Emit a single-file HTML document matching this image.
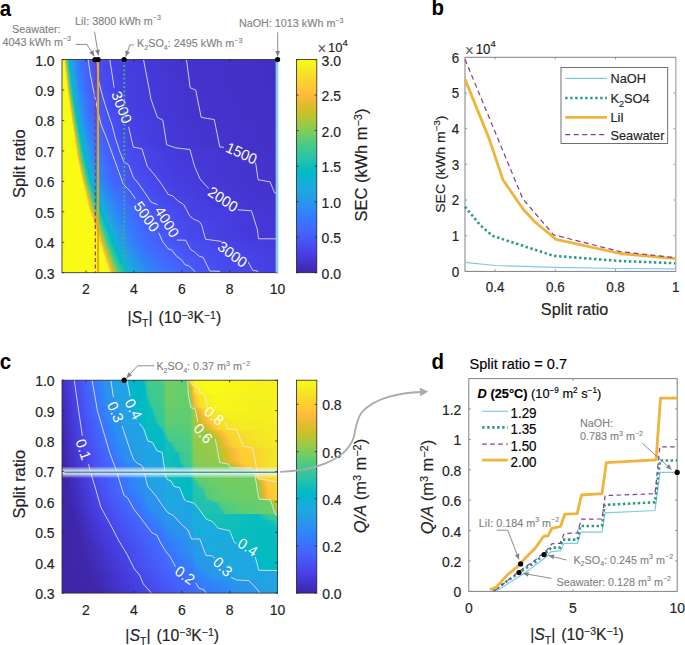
<!DOCTYPE html>
<html><head><meta charset="utf-8"><style>
html,body{margin:0;padding:0;background:#fff;}
body{width:685px;height:645px;overflow:hidden;position:relative;font-family:"Liberation Sans",sans-serif;}
</style></head><body>
<svg width="685" height="645" viewBox="0 0 685 645" style="position:absolute;left:0;top:0" font-family='"Liberation Sans", sans-serif'>
<defs><linearGradient id="g0" gradientUnits="userSpaceOnUse" x1="62" x2="278" y1="0" y2="0"><stop offset="0.0000" stop-color="#f9fb15"/><stop offset="0.0069" stop-color="#f9fb15"/><stop offset="0.0116" stop-color="#f5e128"/><stop offset="0.0162" stop-color="#d5be28"/><stop offset="0.0208" stop-color="#75cc61"/><stop offset="0.0255" stop-color="#37c897"/><stop offset="0.0301" stop-color="#18bfb6"/><stop offset="0.0347" stop-color="#02b7cb"/><stop offset="0.0394" stop-color="#17aeda"/><stop offset="0.0486" stop-color="#259ce7"/><stop offset="0.0625" stop-color="#2d88f6"/><stop offset="0.0810" stop-color="#3a73fe"/><stop offset="0.1042" stop-color="#4563fc"/><stop offset="0.1690" stop-color="#484df0"/><stop offset="0.2755" stop-color="#463de0"/><stop offset="0.5671" stop-color="#4433cd"/><stop offset="1.0000" stop-color="#422fc2"/></linearGradient><linearGradient id="g1" gradientUnits="userSpaceOnUse" x1="62" x2="278" y1="0" y2="0"><stop offset="0.0000" stop-color="#f9fb15"/><stop offset="0.0069" stop-color="#f9fb15"/><stop offset="0.0116" stop-color="#f7f51b"/><stop offset="0.0162" stop-color="#e8bb2f"/><stop offset="0.0208" stop-color="#8acb52"/><stop offset="0.0255" stop-color="#40ca8d"/><stop offset="0.0301" stop-color="#22c1b0"/><stop offset="0.0347" stop-color="#01b9c7"/><stop offset="0.0394" stop-color="#13b0d7"/><stop offset="0.0486" stop-color="#249ee6"/><stop offset="0.0625" stop-color="#2d89f5"/><stop offset="0.0764" stop-color="#3479fd"/><stop offset="0.0949" stop-color="#4269fe"/><stop offset="0.1412" stop-color="#4855f6"/><stop offset="0.2431" stop-color="#4741e4"/><stop offset="0.4931" stop-color="#4435d0"/><stop offset="1.0000" stop-color="#422fc2"/></linearGradient><linearGradient id="g2" gradientUnits="userSpaceOnUse" x1="62" x2="278" y1="0" y2="0"><stop offset="0.0000" stop-color="#f9fb15"/><stop offset="0.0116" stop-color="#f9fb15"/><stop offset="0.0162" stop-color="#fabb3d"/><stop offset="0.0208" stop-color="#9fc942"/><stop offset="0.0255" stop-color="#4ccb82"/><stop offset="0.0301" stop-color="#29c3a9"/><stop offset="0.0347" stop-color="#03bbc2"/><stop offset="0.0394" stop-color="#0eb2d4"/><stop offset="0.0440" stop-color="#1ca9df"/><stop offset="0.0625" stop-color="#2d8bf4"/><stop offset="0.0764" stop-color="#337afd"/><stop offset="0.0949" stop-color="#426afe"/><stop offset="0.1412" stop-color="#4755f6"/><stop offset="0.2384" stop-color="#4741e5"/><stop offset="0.4792" stop-color="#4435d1"/><stop offset="1.0000" stop-color="#422fc2"/></linearGradient><linearGradient id="g3" gradientUnits="userSpaceOnUse" x1="62" x2="278" y1="0" y2="0"><stop offset="0.0000" stop-color="#f9fb15"/><stop offset="0.0116" stop-color="#f9fb15"/><stop offset="0.0162" stop-color="#fec636"/><stop offset="0.0208" stop-color="#b4c533"/><stop offset="0.0255" stop-color="#5ccc76"/><stop offset="0.0301" stop-color="#2fc5a2"/><stop offset="0.0347" stop-color="#0abdbd"/><stop offset="0.0394" stop-color="#08b4d0"/><stop offset="0.0440" stop-color="#1aabdd"/><stop offset="0.0579" stop-color="#2a93ee"/><stop offset="0.0764" stop-color="#327cfc"/><stop offset="0.0949" stop-color="#416bfe"/><stop offset="0.1412" stop-color="#4755f6"/><stop offset="0.2384" stop-color="#4741e5"/><stop offset="0.4745" stop-color="#4435d1"/><stop offset="1.0000" stop-color="#422fc2"/></linearGradient><linearGradient id="g4" gradientUnits="userSpaceOnUse" x1="62" x2="278" y1="0" y2="0"><stop offset="0.0000" stop-color="#f9fb15"/><stop offset="0.0116" stop-color="#f9fb15"/><stop offset="0.0162" stop-color="#fad52d"/><stop offset="0.0208" stop-color="#cac129"/><stop offset="0.0255" stop-color="#6ccd68"/><stop offset="0.0301" stop-color="#35c79a"/><stop offset="0.0347" stop-color="#15bfb8"/><stop offset="0.0394" stop-color="#04b6cc"/><stop offset="0.0440" stop-color="#18aedb"/><stop offset="0.0532" stop-color="#259ce7"/><stop offset="0.0671" stop-color="#2d88f6"/><stop offset="0.0856" stop-color="#3a74fe"/><stop offset="0.1088" stop-color="#4563fd"/><stop offset="0.1736" stop-color="#484df0"/><stop offset="0.2940" stop-color="#463ddf"/><stop offset="0.5949" stop-color="#4433cc"/><stop offset="1.0000" stop-color="#422fc2"/></linearGradient><linearGradient id="g5" gradientUnits="userSpaceOnUse" x1="62" x2="278" y1="0" y2="0"><stop offset="0.0000" stop-color="#f9fb15"/><stop offset="0.0116" stop-color="#f9fb15"/><stop offset="0.0162" stop-color="#f5e825"/><stop offset="0.0208" stop-color="#debd29"/><stop offset="0.0255" stop-color="#80cc59"/><stop offset="0.0301" stop-color="#3cc991"/><stop offset="0.0347" stop-color="#1ec0b2"/><stop offset="0.0394" stop-color="#01b8c8"/><stop offset="0.0440" stop-color="#14b0d8"/><stop offset="0.0532" stop-color="#249ee6"/><stop offset="0.0671" stop-color="#2d89f5"/><stop offset="0.0810" stop-color="#3479fd"/><stop offset="0.0995" stop-color="#426afe"/><stop offset="0.1505" stop-color="#4853f5"/><stop offset="0.2523" stop-color="#4740e4"/><stop offset="0.5116" stop-color="#4434cf"/><stop offset="1.0000" stop-color="#422fc2"/></linearGradient><linearGradient id="g6" gradientUnits="userSpaceOnUse" x1="62" x2="278" y1="0" y2="0"><stop offset="0.0000" stop-color="#f9fb15"/><stop offset="0.0162" stop-color="#f9fb15"/><stop offset="0.0208" stop-color="#f0ba36"/><stop offset="0.0255" stop-color="#94ca4a"/><stop offset="0.0301" stop-color="#47cb87"/><stop offset="0.0347" stop-color="#27c2ac"/><stop offset="0.0394" stop-color="#02bac4"/><stop offset="0.0440" stop-color="#10b2d5"/><stop offset="0.0486" stop-color="#1da9e0"/><stop offset="0.0671" stop-color="#2d8bf4"/><stop offset="0.0810" stop-color="#337bfd"/><stop offset="0.1042" stop-color="#4367fd"/><stop offset="0.1597" stop-color="#4851f3"/><stop offset="0.2662" stop-color="#473fe2"/><stop offset="0.5486" stop-color="#4434ce"/><stop offset="1.0000" stop-color="#422fc2"/></linearGradient><linearGradient id="g7" gradientUnits="userSpaceOnUse" x1="62" x2="278" y1="0" y2="0"><stop offset="0.0000" stop-color="#f9fb15"/><stop offset="0.0162" stop-color="#f9fb15"/><stop offset="0.0208" stop-color="#febf3c"/><stop offset="0.0255" stop-color="#aac73a"/><stop offset="0.0301" stop-color="#55cc7c"/><stop offset="0.0347" stop-color="#2dc4a5"/><stop offset="0.0394" stop-color="#08bcbf"/><stop offset="0.0440" stop-color="#0ab4d1"/><stop offset="0.0486" stop-color="#1babde"/><stop offset="0.0625" stop-color="#2a93ee"/><stop offset="0.0810" stop-color="#327cfc"/><stop offset="0.1042" stop-color="#4368fe"/><stop offset="0.1597" stop-color="#4851f3"/><stop offset="0.2662" stop-color="#473fe3"/><stop offset="0.5486" stop-color="#4434ce"/><stop offset="1.0000" stop-color="#422fc2"/></linearGradient><linearGradient id="g8" gradientUnits="userSpaceOnUse" x1="62" x2="278" y1="0" y2="0"><stop offset="0.0000" stop-color="#f9fb15"/><stop offset="0.0162" stop-color="#f9fb15"/><stop offset="0.0208" stop-color="#fdcc32"/><stop offset="0.0255" stop-color="#bfc32d"/><stop offset="0.0301" stop-color="#65cd6e"/><stop offset="0.0347" stop-color="#33c69d"/><stop offset="0.0394" stop-color="#12beb9"/><stop offset="0.0440" stop-color="#04b6cd"/><stop offset="0.0486" stop-color="#18addb"/><stop offset="0.0625" stop-color="#2895ec"/><stop offset="0.0810" stop-color="#317dfb"/><stop offset="0.1042" stop-color="#4269fe"/><stop offset="0.1597" stop-color="#4851f3"/><stop offset="0.2662" stop-color="#473fe3"/><stop offset="0.5486" stop-color="#4434ce"/><stop offset="1.0000" stop-color="#422fc2"/></linearGradient><linearGradient id="g9" gradientUnits="userSpaceOnUse" x1="62" x2="278" y1="0" y2="0"><stop offset="0.0000" stop-color="#f9fb15"/><stop offset="0.0162" stop-color="#f9fb15"/><stop offset="0.0208" stop-color="#f7dd2a"/><stop offset="0.0255" stop-color="#d4bf28"/><stop offset="0.0301" stop-color="#78cc5f"/><stop offset="0.0347" stop-color="#39c994"/><stop offset="0.0394" stop-color="#1cc0b3"/><stop offset="0.0440" stop-color="#01b8c9"/><stop offset="0.0486" stop-color="#14b0d8"/><stop offset="0.0579" stop-color="#249ee6"/><stop offset="0.0718" stop-color="#2d8af5"/><stop offset="0.0856" stop-color="#337afd"/><stop offset="0.1088" stop-color="#4367fd"/><stop offset="0.1690" stop-color="#484ff2"/><stop offset="0.2894" stop-color="#463ee0"/><stop offset="0.5903" stop-color="#4433cc"/><stop offset="1.0000" stop-color="#422fc2"/></linearGradient><linearGradient id="g10" gradientUnits="userSpaceOnUse" x1="62" x2="278" y1="0" y2="0"><stop offset="0.0000" stop-color="#f9fb15"/><stop offset="0.0162" stop-color="#f9fb15"/><stop offset="0.0208" stop-color="#f6ef20"/><stop offset="0.0255" stop-color="#e7bb2e"/><stop offset="0.0301" stop-color="#8ccb50"/><stop offset="0.0347" stop-color="#43ca8a"/><stop offset="0.0394" stop-color="#26c2ad"/><stop offset="0.0440" stop-color="#02bac4"/><stop offset="0.0486" stop-color="#0fb2d5"/><stop offset="0.0532" stop-color="#1ca9df"/><stop offset="0.0718" stop-color="#2d8cf3"/><stop offset="0.0856" stop-color="#327cfc"/><stop offset="0.1088" stop-color="#4368fe"/><stop offset="0.1690" stop-color="#484ff2"/><stop offset="0.2894" stop-color="#463ee1"/><stop offset="0.5903" stop-color="#4433cc"/><stop offset="1.0000" stop-color="#422fc2"/></linearGradient><linearGradient id="g11" gradientUnits="userSpaceOnUse" x1="62" x2="278" y1="0" y2="0"><stop offset="0.0000" stop-color="#f9fb15"/><stop offset="0.0208" stop-color="#f9fb15"/><stop offset="0.0255" stop-color="#f8ba3d"/><stop offset="0.0301" stop-color="#a1c840"/><stop offset="0.0347" stop-color="#51cc7f"/><stop offset="0.0394" stop-color="#2dc4a6"/><stop offset="0.0440" stop-color="#08bcbf"/><stop offset="0.0486" stop-color="#09b4d1"/><stop offset="0.0532" stop-color="#1aabdd"/><stop offset="0.0718" stop-color="#2d8df2"/><stop offset="0.0903" stop-color="#3579fd"/><stop offset="0.1134" stop-color="#4367fd"/><stop offset="0.1782" stop-color="#484df0"/><stop offset="0.3032" stop-color="#463ddf"/><stop offset="0.6088" stop-color="#4433cc"/><stop offset="1.0000" stop-color="#422fc3"/></linearGradient><linearGradient id="g12" gradientUnits="userSpaceOnUse" x1="62" x2="278" y1="0" y2="0"><stop offset="0.0000" stop-color="#f9fb15"/><stop offset="0.0208" stop-color="#f9fb15"/><stop offset="0.0255" stop-color="#fec437"/><stop offset="0.0301" stop-color="#b6c532"/><stop offset="0.0347" stop-color="#60cd72"/><stop offset="0.0394" stop-color="#32c69e"/><stop offset="0.0440" stop-color="#12beb9"/><stop offset="0.0486" stop-color="#04b6cd"/><stop offset="0.0532" stop-color="#17aedb"/><stop offset="0.0625" stop-color="#249de7"/><stop offset="0.0810" stop-color="#2e84f9"/><stop offset="0.1042" stop-color="#3f6efe"/><stop offset="0.1458" stop-color="#4758f8"/><stop offset="0.2199" stop-color="#4746ea"/><stop offset="0.4051" stop-color="#4538d7"/><stop offset="0.7940" stop-color="#4331c6"/><stop offset="1.0000" stop-color="#422fc3"/></linearGradient><linearGradient id="g13" gradientUnits="userSpaceOnUse" x1="62" x2="278" y1="0" y2="0"><stop offset="0.0000" stop-color="#f9fb15"/><stop offset="0.0208" stop-color="#f9fb15"/><stop offset="0.0255" stop-color="#fbd22f"/><stop offset="0.0301" stop-color="#cbc129"/><stop offset="0.0347" stop-color="#72cd64"/><stop offset="0.0394" stop-color="#38c896"/><stop offset="0.0440" stop-color="#1cc0b3"/><stop offset="0.0486" stop-color="#01b8c8"/><stop offset="0.0532" stop-color="#13b0d8"/><stop offset="0.0625" stop-color="#249fe5"/><stop offset="0.0810" stop-color="#2e85f8"/><stop offset="0.1042" stop-color="#3e6fff"/><stop offset="0.1412" stop-color="#475bf9"/><stop offset="0.2106" stop-color="#4747ec"/><stop offset="0.3727" stop-color="#4639d9"/><stop offset="0.7292" stop-color="#4331c8"/><stop offset="1.0000" stop-color="#422fc3"/></linearGradient><linearGradient id="g14" gradientUnits="userSpaceOnUse" x1="62" x2="278" y1="0" y2="0"><stop offset="0.0000" stop-color="#f9fb15"/><stop offset="0.0208" stop-color="#f9fb15"/><stop offset="0.0255" stop-color="#f5e427"/><stop offset="0.0301" stop-color="#debc2a"/><stop offset="0.0347" stop-color="#86cb55"/><stop offset="0.0394" stop-color="#41ca8c"/><stop offset="0.0440" stop-color="#25c2ad"/><stop offset="0.0486" stop-color="#02bac4"/><stop offset="0.0532" stop-color="#0eb2d4"/><stop offset="0.0579" stop-color="#1caadf"/><stop offset="0.0764" stop-color="#2d8df2"/><stop offset="0.0949" stop-color="#3578fd"/><stop offset="0.1181" stop-color="#4367fd"/><stop offset="0.1829" stop-color="#484ef1"/><stop offset="0.2986" stop-color="#463de0"/><stop offset="0.6042" stop-color="#4433cc"/><stop offset="1.0000" stop-color="#422fc3"/></linearGradient><linearGradient id="g15" gradientUnits="userSpaceOnUse" x1="62" x2="278" y1="0" y2="0"><stop offset="0.0000" stop-color="#f9fb15"/><stop offset="0.0255" stop-color="#f8f917"/><stop offset="0.0301" stop-color="#f3ba38"/><stop offset="0.0347" stop-color="#9dc943"/><stop offset="0.0394" stop-color="#50cc80"/><stop offset="0.0440" stop-color="#2dc4a6"/><stop offset="0.0486" stop-color="#09bcbe"/><stop offset="0.0532" stop-color="#07b5d0"/><stop offset="0.0579" stop-color="#19acdc"/><stop offset="0.0764" stop-color="#2c8ff1"/><stop offset="0.0949" stop-color="#347afd"/><stop offset="0.1181" stop-color="#4368fe"/><stop offset="0.1829" stop-color="#484ef1"/><stop offset="0.2986" stop-color="#463ee1"/><stop offset="0.5810" stop-color="#4434ce"/><stop offset="1.0000" stop-color="#4230c3"/></linearGradient><linearGradient id="g16" gradientUnits="userSpaceOnUse" x1="62" x2="278" y1="0" y2="0"><stop offset="0.0000" stop-color="#f9fb15"/><stop offset="0.0255" stop-color="#f9fb15"/><stop offset="0.0301" stop-color="#fec338"/><stop offset="0.0347" stop-color="#b7c532"/><stop offset="0.0394" stop-color="#63cd70"/><stop offset="0.0440" stop-color="#34c79c"/><stop offset="0.0486" stop-color="#15bfb7"/><stop offset="0.0532" stop-color="#02b7cb"/><stop offset="0.0579" stop-color="#15afd9"/><stop offset="0.0671" stop-color="#249ee6"/><stop offset="0.0856" stop-color="#2e85f8"/><stop offset="0.1088" stop-color="#3e6fff"/><stop offset="0.1458" stop-color="#475bfa"/><stop offset="0.2199" stop-color="#4747eb"/><stop offset="0.3866" stop-color="#4539d8"/><stop offset="0.7986" stop-color="#4331c7"/><stop offset="1.0000" stop-color="#4230c3"/></linearGradient><linearGradient id="g17" gradientUnits="userSpaceOnUse" x1="62" x2="278" y1="0" y2="0"><stop offset="0.0000" stop-color="#f9fb15"/><stop offset="0.0255" stop-color="#f9fb15"/><stop offset="0.0301" stop-color="#fad62d"/><stop offset="0.0347" stop-color="#d1bf27"/><stop offset="0.0394" stop-color="#7acc5e"/><stop offset="0.0440" stop-color="#3cc991"/><stop offset="0.0486" stop-color="#22c1b0"/><stop offset="0.0532" stop-color="#01bac5"/><stop offset="0.0579" stop-color="#10b2d5"/><stop offset="0.0625" stop-color="#1ca9df"/><stop offset="0.0810" stop-color="#2d8df2"/><stop offset="0.0995" stop-color="#3579fd"/><stop offset="0.1227" stop-color="#4367fd"/><stop offset="0.1875" stop-color="#484ef1"/><stop offset="0.3125" stop-color="#463de0"/><stop offset="0.5949" stop-color="#4433cd"/><stop offset="1.0000" stop-color="#4230c3"/></linearGradient><linearGradient id="g18" gradientUnits="userSpaceOnUse" x1="62" x2="278" y1="0" y2="0"><stop offset="0.0000" stop-color="#f9fb15"/><stop offset="0.0255" stop-color="#f9fb15"/><stop offset="0.0301" stop-color="#f5ed22"/><stop offset="0.0347" stop-color="#e9bb30"/><stop offset="0.0394" stop-color="#93ca4b"/><stop offset="0.0440" stop-color="#4acb84"/><stop offset="0.0486" stop-color="#2bc3a8"/><stop offset="0.0532" stop-color="#07bcbf"/><stop offset="0.0579" stop-color="#08b4d1"/><stop offset="0.0625" stop-color="#1aacdd"/><stop offset="0.0810" stop-color="#2c8ff1"/><stop offset="0.0995" stop-color="#337afd"/><stop offset="0.1227" stop-color="#4368fe"/><stop offset="0.1875" stop-color="#484ff2"/><stop offset="0.3125" stop-color="#463de0"/><stop offset="0.5856" stop-color="#4434ce"/><stop offset="1.0000" stop-color="#4230c3"/></linearGradient><linearGradient id="g19" gradientUnits="userSpaceOnUse" x1="62" x2="278" y1="0" y2="0"><stop offset="0.0000" stop-color="#f9fb15"/><stop offset="0.0301" stop-color="#f9fb15"/><stop offset="0.0347" stop-color="#fdbd3d"/><stop offset="0.0394" stop-color="#adc638"/><stop offset="0.0440" stop-color="#5ccc75"/><stop offset="0.0486" stop-color="#32c69f"/><stop offset="0.0532" stop-color="#12beb9"/><stop offset="0.0579" stop-color="#03b7cc"/><stop offset="0.0625" stop-color="#16afd9"/><stop offset="0.0718" stop-color="#249ee6"/><stop offset="0.0903" stop-color="#2e86f8"/><stop offset="0.1134" stop-color="#3e70ff"/><stop offset="0.1505" stop-color="#475cfa"/><stop offset="0.2292" stop-color="#4747eb"/><stop offset="0.3958" stop-color="#4538d8"/><stop offset="0.8171" stop-color="#4331c7"/><stop offset="1.0000" stop-color="#4230c3"/></linearGradient><linearGradient id="g20" gradientUnits="userSpaceOnUse" x1="62" x2="278" y1="0" y2="0"><stop offset="0.0000" stop-color="#f9fb15"/><stop offset="0.0301" stop-color="#f9fb15"/><stop offset="0.0347" stop-color="#fdcd32"/><stop offset="0.0394" stop-color="#c7c12a"/><stop offset="0.0440" stop-color="#71cd64"/><stop offset="0.0486" stop-color="#39c895"/><stop offset="0.0532" stop-color="#1fc0b2"/><stop offset="0.0579" stop-color="#01b9c6"/><stop offset="0.0625" stop-color="#11b1d6"/><stop offset="0.0671" stop-color="#1ca9e0"/><stop offset="0.0856" stop-color="#2d8df2"/><stop offset="0.1042" stop-color="#3479fd"/><stop offset="0.1273" stop-color="#4368fd"/><stop offset="0.1921" stop-color="#484ff2"/><stop offset="0.3218" stop-color="#463de0"/><stop offset="0.5903" stop-color="#4434ce"/><stop offset="1.0000" stop-color="#4230c3"/></linearGradient><linearGradient id="g21" gradientUnits="userSpaceOnUse" x1="62" x2="278" y1="0" y2="0"><stop offset="0.0000" stop-color="#f9fb15"/><stop offset="0.0301" stop-color="#f9fb15"/><stop offset="0.0347" stop-color="#f5e128"/><stop offset="0.0394" stop-color="#dfbc2a"/><stop offset="0.0440" stop-color="#8acb52"/><stop offset="0.0486" stop-color="#45cb89"/><stop offset="0.0532" stop-color="#29c3aa"/><stop offset="0.0579" stop-color="#06bcc1"/><stop offset="0.0625" stop-color="#0ab4d1"/><stop offset="0.0671" stop-color="#1aacdd"/><stop offset="0.0856" stop-color="#2c8ff1"/><stop offset="0.1042" stop-color="#337bfd"/><stop offset="0.1273" stop-color="#4369fe"/><stop offset="0.1875" stop-color="#4851f3"/><stop offset="0.3079" stop-color="#473ee2"/><stop offset="0.5532" stop-color="#4434cf"/><stop offset="1.0000" stop-color="#4230c3"/></linearGradient><linearGradient id="g22" gradientUnits="userSpaceOnUse" x1="62" x2="278" y1="0" y2="0"><stop offset="0.0000" stop-color="#f9fb15"/><stop offset="0.0301" stop-color="#f9fb15"/><stop offset="0.0347" stop-color="#f8f818"/><stop offset="0.0394" stop-color="#f5ba3b"/><stop offset="0.0440" stop-color="#a3c83f"/><stop offset="0.0486" stop-color="#56cc7b"/><stop offset="0.0532" stop-color="#30c5a2"/><stop offset="0.0579" stop-color="#10beba"/><stop offset="0.0625" stop-color="#04b6cd"/><stop offset="0.0671" stop-color="#16aeda"/><stop offset="0.0764" stop-color="#249ee6"/><stop offset="0.0949" stop-color="#2e86f7"/><stop offset="0.1181" stop-color="#3d70ff"/><stop offset="0.1551" stop-color="#475cfa"/><stop offset="0.2384" stop-color="#4747eb"/><stop offset="0.4097" stop-color="#4538d8"/><stop offset="0.8264" stop-color="#4331c7"/><stop offset="1.0000" stop-color="#4230c3"/></linearGradient><linearGradient id="g23" gradientUnits="userSpaceOnUse" x1="62" x2="278" y1="0" y2="0"><stop offset="0.0000" stop-color="#f9fb15"/><stop offset="0.0347" stop-color="#f9fb15"/><stop offset="0.0394" stop-color="#fec537"/><stop offset="0.0440" stop-color="#bdc32f"/><stop offset="0.0486" stop-color="#6acd6a"/><stop offset="0.0532" stop-color="#37c898"/><stop offset="0.0579" stop-color="#1cc0b3"/><stop offset="0.0625" stop-color="#01b9c7"/><stop offset="0.0671" stop-color="#12b1d6"/><stop offset="0.0764" stop-color="#23a1e4"/><stop offset="0.0949" stop-color="#2d88f6"/><stop offset="0.1134" stop-color="#3875fe"/><stop offset="0.1366" stop-color="#4466fd"/><stop offset="0.2014" stop-color="#484ff2"/><stop offset="0.3403" stop-color="#463cdf"/><stop offset="0.6273" stop-color="#4433cd"/><stop offset="1.0000" stop-color="#4230c4"/></linearGradient><linearGradient id="g24" gradientUnits="userSpaceOnUse" x1="62" x2="278" y1="0" y2="0"><stop offset="0.0000" stop-color="#f9fb15"/><stop offset="0.0347" stop-color="#f9fb15"/><stop offset="0.0394" stop-color="#f9d72d"/><stop offset="0.0440" stop-color="#d6be28"/><stop offset="0.0486" stop-color="#81cc58"/><stop offset="0.0532" stop-color="#41ca8c"/><stop offset="0.0579" stop-color="#27c2ac"/><stop offset="0.0625" stop-color="#04bbc2"/><stop offset="0.0671" stop-color="#0bb4d2"/><stop offset="0.0718" stop-color="#1aacdd"/><stop offset="0.0903" stop-color="#2c8ff0"/><stop offset="0.1088" stop-color="#327bfc"/><stop offset="0.1319" stop-color="#4269fe"/><stop offset="0.1921" stop-color="#4852f4"/><stop offset="0.3171" stop-color="#473ee2"/><stop offset="0.5671" stop-color="#4434cf"/><stop offset="1.0000" stop-color="#4230c4"/></linearGradient><linearGradient id="g25" gradientUnits="userSpaceOnUse" x1="62" x2="278" y1="0" y2="0"><stop offset="0.0000" stop-color="#f9fb15"/><stop offset="0.0347" stop-color="#f9fb15"/><stop offset="0.0394" stop-color="#f5ec22"/><stop offset="0.0440" stop-color="#ecba33"/><stop offset="0.0486" stop-color="#9ac945"/><stop offset="0.0532" stop-color="#51cc7f"/><stop offset="0.0579" stop-color="#2ec5a4"/><stop offset="0.0625" stop-color="#0dbdbb"/><stop offset="0.0671" stop-color="#04b6cd"/><stop offset="0.0718" stop-color="#17aeda"/><stop offset="0.0810" stop-color="#249ee6"/><stop offset="0.0995" stop-color="#2e86f7"/><stop offset="0.1273" stop-color="#3f6dfe"/><stop offset="0.1736" stop-color="#4758f8"/><stop offset="0.2755" stop-color="#4743e8"/><stop offset="0.4699" stop-color="#4536d4"/><stop offset="0.9421" stop-color="#4330c5"/><stop offset="1.0000" stop-color="#4230c4"/></linearGradient><linearGradient id="g26" gradientUnits="userSpaceOnUse" x1="62" x2="278" y1="0" y2="0"><stop offset="0.0000" stop-color="#f9fb15"/><stop offset="0.0394" stop-color="#f9fb15"/><stop offset="0.0440" stop-color="#febe3c"/><stop offset="0.0486" stop-color="#b3c534"/><stop offset="0.0532" stop-color="#63cd6f"/><stop offset="0.0579" stop-color="#35c79a"/><stop offset="0.0625" stop-color="#1ac0b5"/><stop offset="0.0671" stop-color="#01b8c8"/><stop offset="0.0718" stop-color="#12b1d6"/><stop offset="0.0810" stop-color="#23a1e4"/><stop offset="0.0995" stop-color="#2d88f6"/><stop offset="0.1181" stop-color="#3876fe"/><stop offset="0.1412" stop-color="#4466fd"/><stop offset="0.2060" stop-color="#4850f3"/><stop offset="0.3403" stop-color="#463de0"/><stop offset="0.6134" stop-color="#4433cd"/><stop offset="1.0000" stop-color="#4230c4"/></linearGradient><linearGradient id="g27" gradientUnits="userSpaceOnUse" x1="62" x2="278" y1="0" y2="0"><stop offset="0.0000" stop-color="#f9fb15"/><stop offset="0.0394" stop-color="#f9fb15"/><stop offset="0.0440" stop-color="#fdce31"/><stop offset="0.0486" stop-color="#ccc028"/><stop offset="0.0532" stop-color="#79cc5e"/><stop offset="0.0579" stop-color="#3eca8f"/><stop offset="0.0625" stop-color="#25c2ad"/><stop offset="0.0671" stop-color="#03bbc2"/><stop offset="0.0718" stop-color="#0bb3d2"/><stop offset="0.0764" stop-color="#1aabdd"/><stop offset="0.0949" stop-color="#2c90f0"/><stop offset="0.1134" stop-color="#327cfc"/><stop offset="0.1366" stop-color="#426afe"/><stop offset="0.1921" stop-color="#4854f5"/><stop offset="0.3125" stop-color="#4740e3"/><stop offset="0.5486" stop-color="#4435d0"/><stop offset="1.0000" stop-color="#4230c4"/></linearGradient><linearGradient id="g28" gradientUnits="userSpaceOnUse" x1="62" x2="278" y1="0" y2="0"><stop offset="0.0000" stop-color="#f9fb15"/><stop offset="0.0394" stop-color="#f9fb15"/><stop offset="0.0440" stop-color="#f5e228"/><stop offset="0.0486" stop-color="#e3bc2c"/><stop offset="0.0532" stop-color="#91ca4c"/><stop offset="0.0579" stop-color="#4ccb83"/><stop offset="0.0625" stop-color="#2dc4a6"/><stop offset="0.0671" stop-color="#0bbdbc"/><stop offset="0.0718" stop-color="#05b6ce"/><stop offset="0.0764" stop-color="#17aeda"/><stop offset="0.0856" stop-color="#249fe6"/><stop offset="0.1042" stop-color="#2e87f7"/><stop offset="0.1319" stop-color="#3f6eff"/><stop offset="0.1736" stop-color="#475af9"/><stop offset="0.2847" stop-color="#4744e8"/><stop offset="0.4792" stop-color="#4536d4"/><stop offset="0.9375" stop-color="#4330c5"/><stop offset="1.0000" stop-color="#4230c4"/></linearGradient><linearGradient id="g29" gradientUnits="userSpaceOnUse" x1="62" x2="278" y1="0" y2="0"><stop offset="0.0000" stop-color="#f9fb15"/><stop offset="0.0394" stop-color="#f9fb15"/><stop offset="0.0440" stop-color="#f8f719"/><stop offset="0.0486" stop-color="#f8ba3d"/><stop offset="0.0532" stop-color="#aac73a"/><stop offset="0.0579" stop-color="#5ecc74"/><stop offset="0.0625" stop-color="#33c79d"/><stop offset="0.0671" stop-color="#18bfb6"/><stop offset="0.0718" stop-color="#01b8c9"/><stop offset="0.0764" stop-color="#12b1d7"/><stop offset="0.0856" stop-color="#22a1e4"/><stop offset="0.1042" stop-color="#2d89f5"/><stop offset="0.1227" stop-color="#3777fe"/><stop offset="0.1458" stop-color="#4367fd"/><stop offset="0.2060" stop-color="#4852f4"/><stop offset="0.3356" stop-color="#473ee2"/><stop offset="0.5949" stop-color="#4434cf"/><stop offset="1.0000" stop-color="#4230c4"/></linearGradient><linearGradient id="g30" gradientUnits="userSpaceOnUse" x1="62" x2="278" y1="0" y2="0"><stop offset="0.0000" stop-color="#f9fb15"/><stop offset="0.0440" stop-color="#f9fb15"/><stop offset="0.0486" stop-color="#fec636"/><stop offset="0.0532" stop-color="#c3c22b"/><stop offset="0.0579" stop-color="#72cd63"/><stop offset="0.0625" stop-color="#3bc992"/><stop offset="0.0671" stop-color="#23c1af"/><stop offset="0.0718" stop-color="#02bbc3"/><stop offset="0.0764" stop-color="#0cb3d2"/><stop offset="0.0810" stop-color="#1aabdd"/><stop offset="0.0995" stop-color="#2c90f0"/><stop offset="0.1227" stop-color="#3578fd"/><stop offset="0.1458" stop-color="#4368fe"/><stop offset="0.2014" stop-color="#4854f5"/><stop offset="0.3264" stop-color="#4740e3"/><stop offset="0.5903" stop-color="#4435d1"/><stop offset="1.0000" stop-color="#4330c5"/></linearGradient><linearGradient id="g31" gradientUnits="userSpaceOnUse" x1="62" x2="278" y1="0" y2="0"><stop offset="0.0000" stop-color="#f9fb15"/><stop offset="0.0440" stop-color="#f9fb15"/><stop offset="0.0486" stop-color="#f9d82c"/><stop offset="0.0532" stop-color="#dabd28"/><stop offset="0.0579" stop-color="#89cb52"/><stop offset="0.0625" stop-color="#48cb86"/><stop offset="0.0671" stop-color="#2cc4a7"/><stop offset="0.0718" stop-color="#0abdbd"/><stop offset="0.0764" stop-color="#05b6ce"/><stop offset="0.0810" stop-color="#17aeda"/><stop offset="0.0949" stop-color="#2698ea"/><stop offset="0.1181" stop-color="#317efb"/><stop offset="0.1458" stop-color="#4269fe"/><stop offset="0.2014" stop-color="#4854f6"/><stop offset="0.3264" stop-color="#4740e4"/><stop offset="0.5810" stop-color="#4435d1"/><stop offset="1.0000" stop-color="#4330c5"/></linearGradient><linearGradient id="g32" gradientUnits="userSpaceOnUse" x1="62" x2="278" y1="0" y2="0"><stop offset="0.0000" stop-color="#f9fb15"/><stop offset="0.0440" stop-color="#f9fb15"/><stop offset="0.0486" stop-color="#f5ed22"/><stop offset="0.0532" stop-color="#f0ba36"/><stop offset="0.0579" stop-color="#a2c83f"/><stop offset="0.0625" stop-color="#59cc78"/><stop offset="0.0671" stop-color="#32c69e"/><stop offset="0.0718" stop-color="#17bfb7"/><stop offset="0.0764" stop-color="#01b8c9"/><stop offset="0.0810" stop-color="#12b1d7"/><stop offset="0.0903" stop-color="#22a1e4"/><stop offset="0.1088" stop-color="#2d89f5"/><stop offset="0.1273" stop-color="#3678fe"/><stop offset="0.1505" stop-color="#4368fd"/><stop offset="0.2060" stop-color="#4854f5"/><stop offset="0.3356" stop-color="#4740e3"/><stop offset="0.5903" stop-color="#4435d1"/><stop offset="1.0000" stop-color="#4330c5"/></linearGradient><linearGradient id="g33" gradientUnits="userSpaceOnUse" x1="62" x2="278" y1="0" y2="0"><stop offset="0.0000" stop-color="#f9fb15"/><stop offset="0.0486" stop-color="#f9fb15"/><stop offset="0.0532" stop-color="#fec13a"/><stop offset="0.0579" stop-color="#bcc42f"/><stop offset="0.0625" stop-color="#6ecd67"/><stop offset="0.0671" stop-color="#3ac993"/><stop offset="0.0718" stop-color="#23c1af"/><stop offset="0.0764" stop-color="#03bbc3"/><stop offset="0.0810" stop-color="#0bb4d2"/><stop offset="0.0856" stop-color="#1aacdd"/><stop offset="0.1042" stop-color="#2b91ef"/><stop offset="0.1273" stop-color="#347afd"/><stop offset="0.1505" stop-color="#4269fe"/><stop offset="0.2060" stop-color="#4855f6"/><stop offset="0.3356" stop-color="#4740e3"/><stop offset="0.5856" stop-color="#4435d1"/><stop offset="1.0000" stop-color="#4330c5"/></linearGradient><linearGradient id="g34" gradientUnits="userSpaceOnUse" x1="62" x2="278" y1="0" y2="0"><stop offset="0.0000" stop-color="#f9fb15"/><stop offset="0.0486" stop-color="#f9fb15"/><stop offset="0.0532" stop-color="#fcd12f"/><stop offset="0.0579" stop-color="#d5be28"/><stop offset="0.0625" stop-color="#87cb54"/><stop offset="0.0671" stop-color="#48cb86"/><stop offset="0.0718" stop-color="#2dc4a6"/><stop offset="0.0764" stop-color="#0dbdbc"/><stop offset="0.0810" stop-color="#03b7cc"/><stop offset="0.0856" stop-color="#15afd9"/><stop offset="0.0949" stop-color="#23a1e5"/><stop offset="0.1134" stop-color="#2d89f5"/><stop offset="0.1319" stop-color="#3678fd"/><stop offset="0.1551" stop-color="#4368fe"/><stop offset="0.2153" stop-color="#4853f5"/><stop offset="0.3449" stop-color="#473fe3"/><stop offset="0.5949" stop-color="#4435d1"/><stop offset="1.0000" stop-color="#4330c5"/></linearGradient><linearGradient id="g35" gradientUnits="userSpaceOnUse" x1="62" x2="278" y1="0" y2="0"><stop offset="0.0000" stop-color="#f9fb15"/><stop offset="0.0486" stop-color="#f9fb15"/><stop offset="0.0532" stop-color="#f5e526"/><stop offset="0.0579" stop-color="#ecba32"/><stop offset="0.0625" stop-color="#a1c840"/><stop offset="0.0671" stop-color="#5bcc77"/><stop offset="0.0718" stop-color="#34c79c"/><stop offset="0.0764" stop-color="#1bc0b4"/><stop offset="0.0810" stop-color="#01b9c6"/><stop offset="0.0903" stop-color="#1babde"/><stop offset="0.1088" stop-color="#2b91ef"/><stop offset="0.1319" stop-color="#337afd"/><stop offset="0.1551" stop-color="#426afe"/><stop offset="0.2153" stop-color="#4854f5"/><stop offset="0.3403" stop-color="#4740e3"/><stop offset="0.5810" stop-color="#4435d1"/><stop offset="1.0000" stop-color="#4330c5"/></linearGradient><linearGradient id="g36" gradientUnits="userSpaceOnUse" x1="62" x2="278" y1="0" y2="0"><stop offset="0.0000" stop-color="#f9fb15"/><stop offset="0.0532" stop-color="#f9fa15"/><stop offset="0.0579" stop-color="#fdbd3d"/><stop offset="0.0625" stop-color="#bac430"/><stop offset="0.0671" stop-color="#70cd65"/><stop offset="0.0718" stop-color="#3dc990"/><stop offset="0.0764" stop-color="#27c2ac"/><stop offset="0.0810" stop-color="#07bcbf"/><stop offset="0.0856" stop-color="#06b5cf"/><stop offset="0.0903" stop-color="#17aeda"/><stop offset="0.1042" stop-color="#269ae9"/><stop offset="0.1227" stop-color="#2e85f8"/><stop offset="0.1505" stop-color="#3f6fff"/><stop offset="0.1968" stop-color="#475af9"/><stop offset="0.3032" stop-color="#4744e8"/><stop offset="0.5023" stop-color="#4537d6"/><stop offset="1.0000" stop-color="#4331c5"/></linearGradient><linearGradient id="g37" gradientUnits="userSpaceOnUse" x1="62" x2="278" y1="0" y2="0"><stop offset="0.0000" stop-color="#f9fb15"/><stop offset="0.0532" stop-color="#f9fb15"/><stop offset="0.0579" stop-color="#fdcc32"/><stop offset="0.0625" stop-color="#d2bf27"/><stop offset="0.0671" stop-color="#88cb53"/><stop offset="0.0718" stop-color="#4bcb83"/><stop offset="0.0764" stop-color="#2fc5a3"/><stop offset="0.0810" stop-color="#13beb8"/><stop offset="0.0856" stop-color="#01b8c9"/><stop offset="0.0903" stop-color="#11b1d6"/><stop offset="0.0995" stop-color="#21a3e3"/><stop offset="0.1181" stop-color="#2d8cf3"/><stop offset="0.1412" stop-color="#3677fe"/><stop offset="0.1690" stop-color="#4466fd"/><stop offset="0.2477" stop-color="#484ef1"/><stop offset="0.3958" stop-color="#463cde"/><stop offset="0.7014" stop-color="#4433cd"/><stop offset="1.0000" stop-color="#4331c5"/></linearGradient><linearGradient id="g38" gradientUnits="userSpaceOnUse" x1="62" x2="278" y1="0" y2="0"><stop offset="0.0000" stop-color="#f9fb15"/><stop offset="0.0532" stop-color="#f9fb15"/><stop offset="0.0579" stop-color="#f6de29"/><stop offset="0.0625" stop-color="#e8bb2f"/><stop offset="0.0671" stop-color="#a0c841"/><stop offset="0.0718" stop-color="#5dcc74"/><stop offset="0.0764" stop-color="#36c799"/><stop offset="0.0810" stop-color="#20c1b1"/><stop offset="0.0856" stop-color="#02bbc3"/><stop offset="0.0903" stop-color="#09b4d1"/><stop offset="0.0949" stop-color="#18addb"/><stop offset="0.1088" stop-color="#269ae9"/><stop offset="0.1273" stop-color="#2e86f8"/><stop offset="0.1551" stop-color="#3e70ff"/><stop offset="0.2014" stop-color="#475bf9"/><stop offset="0.2940" stop-color="#4746ea"/><stop offset="0.4792" stop-color="#4538d7"/><stop offset="0.9838" stop-color="#4331c6"/><stop offset="1.0000" stop-color="#4331c6"/></linearGradient><linearGradient id="g39" gradientUnits="userSpaceOnUse" x1="62" x2="278" y1="0" y2="0"><stop offset="0.0000" stop-color="#f9fb15"/><stop offset="0.0532" stop-color="#f9fb15"/><stop offset="0.0579" stop-color="#f6f21e"/><stop offset="0.0625" stop-color="#fabb3d"/><stop offset="0.0671" stop-color="#b8c431"/><stop offset="0.0718" stop-color="#71cd64"/><stop offset="0.0764" stop-color="#3fca8e"/><stop offset="0.0810" stop-color="#2ac3a9"/><stop offset="0.0856" stop-color="#0bbdbc"/><stop offset="0.0903" stop-color="#03b7cc"/><stop offset="0.0949" stop-color="#13b0d7"/><stop offset="0.1042" stop-color="#21a3e4"/><stop offset="0.1273" stop-color="#2d88f6"/><stop offset="0.1505" stop-color="#3975fe"/><stop offset="0.1829" stop-color="#4563fc"/><stop offset="0.2708" stop-color="#484aee"/><stop offset="0.4329" stop-color="#463adb"/><stop offset="0.8218" stop-color="#4332c9"/><stop offset="1.0000" stop-color="#4331c6"/></linearGradient><linearGradient id="g40" gradientUnits="userSpaceOnUse" x1="62" x2="278" y1="0" y2="0"><stop offset="0.0000" stop-color="#f9fb15"/><stop offset="0.0579" stop-color="#f9fb15"/><stop offset="0.0625" stop-color="#fec735"/><stop offset="0.0671" stop-color="#cfc028"/><stop offset="0.0718" stop-color="#88cb53"/><stop offset="0.0764" stop-color="#4ecc81"/><stop offset="0.0810" stop-color="#30c5a1"/><stop offset="0.0903" stop-color="#01b9c6"/><stop offset="0.0995" stop-color="#19acdc"/><stop offset="0.1181" stop-color="#2994ed"/><stop offset="0.1412" stop-color="#317efb"/><stop offset="0.1736" stop-color="#4368fe"/><stop offset="0.2569" stop-color="#484df1"/><stop offset="0.4051" stop-color="#463bde"/><stop offset="0.7199" stop-color="#4433cc"/><stop offset="1.0000" stop-color="#4331c6"/></linearGradient><linearGradient id="g41" gradientUnits="userSpaceOnUse" x1="62" x2="278" y1="0" y2="0"><stop offset="0.0000" stop-color="#f9fb15"/><stop offset="0.0579" stop-color="#f9fb15"/><stop offset="0.0625" stop-color="#f9d72c"/><stop offset="0.0671" stop-color="#e4bb2c"/><stop offset="0.0718" stop-color="#9fc942"/><stop offset="0.0764" stop-color="#5fcd73"/><stop offset="0.0810" stop-color="#37c897"/><stop offset="0.0856" stop-color="#23c1af"/><stop offset="0.0903" stop-color="#06bcc0"/><stop offset="0.0949" stop-color="#06b5ce"/><stop offset="0.0995" stop-color="#16afd9"/><stop offset="0.1134" stop-color="#259ce7"/><stop offset="0.1366" stop-color="#2e84f9"/><stop offset="0.1690" stop-color="#406cfe"/><stop offset="0.2338" stop-color="#4854f5"/><stop offset="0.3449" stop-color="#4741e4"/><stop offset="0.5718" stop-color="#4536d2"/><stop offset="1.0000" stop-color="#4331c6"/></linearGradient><linearGradient id="g42" gradientUnits="userSpaceOnUse" x1="62" x2="278" y1="0" y2="0"><stop offset="0.0000" stop-color="#f9fb15"/><stop offset="0.0579" stop-color="#f9fb15"/><stop offset="0.0625" stop-color="#f5eb23"/><stop offset="0.0671" stop-color="#f6ba3c"/><stop offset="0.0718" stop-color="#b6c533"/><stop offset="0.0764" stop-color="#72cd64"/><stop offset="0.0810" stop-color="#41ca8c"/><stop offset="0.0856" stop-color="#2cc4a7"/><stop offset="0.0903" stop-color="#0fbeba"/><stop offset="0.0949" stop-color="#01b8c9"/><stop offset="0.0995" stop-color="#10b2d5"/><stop offset="0.1088" stop-color="#20a4e3"/><stop offset="0.1319" stop-color="#2d8af5"/><stop offset="0.1551" stop-color="#3777fe"/><stop offset="0.1829" stop-color="#4367fd"/><stop offset="0.2708" stop-color="#484cef"/><stop offset="0.4190" stop-color="#463bdd"/><stop offset="0.7569" stop-color="#4433cb"/><stop offset="1.0000" stop-color="#4331c6"/></linearGradient><linearGradient id="g43" gradientUnits="userSpaceOnUse" x1="62" x2="278" y1="0" y2="0"><stop offset="0.0000" stop-color="#f9fb15"/><stop offset="0.0625" stop-color="#f9fb15"/><stop offset="0.0671" stop-color="#fec338"/><stop offset="0.0718" stop-color="#cbc029"/><stop offset="0.0764" stop-color="#87cb54"/><stop offset="0.0810" stop-color="#4fcc80"/><stop offset="0.0856" stop-color="#32c69f"/><stop offset="0.0949" stop-color="#02bac4"/><stop offset="0.0995" stop-color="#09b4d1"/><stop offset="0.1042" stop-color="#18aedb"/><stop offset="0.1181" stop-color="#259be8"/><stop offset="0.1412" stop-color="#2e84f9"/><stop offset="0.1736" stop-color="#406dfe"/><stop offset="0.2338" stop-color="#4756f6"/><stop offset="0.3356" stop-color="#4742e6"/><stop offset="0.5810" stop-color="#4536d2"/><stop offset="1.0000" stop-color="#4331c6"/></linearGradient><linearGradient id="g44" gradientUnits="userSpaceOnUse" x1="62" x2="278" y1="0" y2="0"><stop offset="0.0000" stop-color="#f9fb15"/><stop offset="0.0625" stop-color="#f9fb15"/><stop offset="0.0671" stop-color="#fbd12f"/><stop offset="0.0718" stop-color="#e0bc2a"/><stop offset="0.0764" stop-color="#9dc943"/><stop offset="0.0810" stop-color="#60cd73"/><stop offset="0.0856" stop-color="#38c896"/><stop offset="0.0903" stop-color="#26c2ad"/><stop offset="0.0949" stop-color="#09bcbe"/><stop offset="0.0995" stop-color="#04b6cc"/><stop offset="0.1042" stop-color="#13b0d7"/><stop offset="0.1134" stop-color="#21a3e3"/><stop offset="0.1366" stop-color="#2d8af5"/><stop offset="0.1597" stop-color="#3677fe"/><stop offset="0.1875" stop-color="#4367fd"/><stop offset="0.2708" stop-color="#484df1"/><stop offset="0.4606" stop-color="#463bdc"/><stop offset="0.8218" stop-color="#4332ca"/><stop offset="1.0000" stop-color="#4331c6"/></linearGradient><linearGradient id="g45" gradientUnits="userSpaceOnUse" x1="62" x2="278" y1="0" y2="0"><stop offset="0.0000" stop-color="#f9fb15"/><stop offset="0.0625" stop-color="#f9fb15"/><stop offset="0.0671" stop-color="#f5e427"/><stop offset="0.0718" stop-color="#f2ba38"/><stop offset="0.0764" stop-color="#b3c534"/><stop offset="0.0810" stop-color="#72cd63"/><stop offset="0.0856" stop-color="#42ca8b"/><stop offset="0.0903" stop-color="#2dc4a5"/><stop offset="0.0949" stop-color="#13beb8"/><stop offset="0.0995" stop-color="#01b9c7"/><stop offset="0.1088" stop-color="#19acdc"/><stop offset="0.1227" stop-color="#269be8"/><stop offset="0.1505" stop-color="#2f80fa"/><stop offset="0.1829" stop-color="#416bfe"/><stop offset="0.2616" stop-color="#4850f2"/><stop offset="0.4514" stop-color="#463de0"/><stop offset="0.8403" stop-color="#4332ca"/><stop offset="1.0000" stop-color="#4331c7"/></linearGradient><linearGradient id="g46" gradientUnits="userSpaceOnUse" x1="62" x2="278" y1="0" y2="0"><stop offset="0.0000" stop-color="#f9fb15"/><stop offset="0.0625" stop-color="#f9fb15"/><stop offset="0.0671" stop-color="#f8f719"/><stop offset="0.0718" stop-color="#fec03b"/><stop offset="0.0764" stop-color="#c8c129"/><stop offset="0.0810" stop-color="#87cb54"/><stop offset="0.0856" stop-color="#50cc7f"/><stop offset="0.0903" stop-color="#33c69d"/><stop offset="0.0949" stop-color="#1fc0b2"/><stop offset="0.0995" stop-color="#04bbc2"/><stop offset="0.1042" stop-color="#06b5cf"/><stop offset="0.1088" stop-color="#15afd9"/><stop offset="0.1227" stop-color="#259de7"/><stop offset="0.1458" stop-color="#2e86f7"/><stop offset="0.1782" stop-color="#3e6fff"/><stop offset="0.2338" stop-color="#4759f8"/><stop offset="0.2986" stop-color="#484bee"/><stop offset="0.5301" stop-color="#463adb"/><stop offset="0.9051" stop-color="#4332c9"/><stop offset="1.0000" stop-color="#4331c7"/></linearGradient><linearGradient id="g47" gradientUnits="userSpaceOnUse" x1="62" x2="278" y1="0" y2="0"><stop offset="0.0000" stop-color="#f9fb15"/><stop offset="0.0671" stop-color="#f9fb15"/><stop offset="0.0718" stop-color="#fdcd32"/><stop offset="0.0764" stop-color="#dcbd29"/><stop offset="0.0810" stop-color="#9cc944"/><stop offset="0.0856" stop-color="#60cd72"/><stop offset="0.0903" stop-color="#3ac994"/><stop offset="0.0949" stop-color="#28c2ab"/><stop offset="0.0995" stop-color="#0bbdbc"/><stop offset="0.1042" stop-color="#01b7ca"/><stop offset="0.1088" stop-color="#10b2d5"/><stop offset="0.1181" stop-color="#1fa5e2"/><stop offset="0.1412" stop-color="#2d8cf3"/><stop offset="0.1644" stop-color="#3479fd"/><stop offset="0.1968" stop-color="#4367fd"/><stop offset="0.2847" stop-color="#484df0"/><stop offset="0.5023" stop-color="#463bdd"/><stop offset="0.9005" stop-color="#4332ca"/><stop offset="1.0000" stop-color="#4331c8"/></linearGradient><linearGradient id="g48" gradientUnits="userSpaceOnUse" x1="62" x2="278" y1="0" y2="0"><stop offset="0.0000" stop-color="#f9fb15"/><stop offset="0.0671" stop-color="#f9fb15"/><stop offset="0.0718" stop-color="#f7dd2a"/><stop offset="0.0764" stop-color="#eeba35"/><stop offset="0.0810" stop-color="#b1c635"/><stop offset="0.0856" stop-color="#72cd63"/><stop offset="0.0903" stop-color="#44cb8a"/><stop offset="0.0949" stop-color="#2ec5a4"/><stop offset="0.1042" stop-color="#01bac5"/><stop offset="0.1088" stop-color="#0ab4d1"/><stop offset="0.1134" stop-color="#17aedb"/><stop offset="0.1273" stop-color="#259ce7"/><stop offset="0.1505" stop-color="#2e86f7"/><stop offset="0.1829" stop-color="#3e6fff"/><stop offset="0.2338" stop-color="#475bfa"/><stop offset="0.2986" stop-color="#484cef"/><stop offset="0.5208" stop-color="#463adc"/><stop offset="0.9375" stop-color="#4332ca"/><stop offset="1.0000" stop-color="#4332c8"/></linearGradient><linearGradient id="g49" gradientUnits="userSpaceOnUse" x1="62" x2="278" y1="0" y2="0"><stop offset="0.0000" stop-color="#f9fb15"/><stop offset="0.0671" stop-color="#f9fb15"/><stop offset="0.0718" stop-color="#f7f41c"/><stop offset="0.0764" stop-color="#febf3b"/><stop offset="0.0810" stop-color="#c9c129"/><stop offset="0.0856" stop-color="#8acb52"/><stop offset="0.0903" stop-color="#54cc7c"/><stop offset="0.0949" stop-color="#35c79a"/><stop offset="0.0995" stop-color="#23c1af"/><stop offset="0.1042" stop-color="#07bcbf"/><stop offset="0.1088" stop-color="#04b6cc"/><stop offset="0.1134" stop-color="#12b1d7"/><stop offset="0.1227" stop-color="#20a5e3"/><stop offset="0.1458" stop-color="#2d8cf3"/><stop offset="0.1690" stop-color="#347afd"/><stop offset="0.2014" stop-color="#4368fe"/><stop offset="0.2894" stop-color="#484df1"/><stop offset="0.5023" stop-color="#463bdd"/><stop offset="0.9236" stop-color="#4332ca"/><stop offset="1.0000" stop-color="#4332c9"/></linearGradient><linearGradient id="g50" gradientUnits="userSpaceOnUse" x1="62" x2="278" y1="0" y2="0"><stop offset="0.0000" stop-color="#f9fb15"/><stop offset="0.0718" stop-color="#f9fb15"/><stop offset="0.0764" stop-color="#fbd22f"/><stop offset="0.0810" stop-color="#e4bb2c"/><stop offset="0.0856" stop-color="#a6c73c"/><stop offset="0.0903" stop-color="#6acd6a"/><stop offset="0.0949" stop-color="#3fca8e"/><stop offset="0.0995" stop-color="#2dc4a6"/><stop offset="0.1042" stop-color="#14bfb8"/><stop offset="0.1088" stop-color="#01b9c6"/><stop offset="0.1181" stop-color="#18aedb"/><stop offset="0.1319" stop-color="#259ce7"/><stop offset="0.1551" stop-color="#2e86f7"/><stop offset="0.1829" stop-color="#3b73fe"/><stop offset="0.2199" stop-color="#4562fc"/><stop offset="0.3032" stop-color="#484cef"/><stop offset="0.5162" stop-color="#463bdc"/><stop offset="0.9560" stop-color="#4332ca"/><stop offset="1.0000" stop-color="#4332c9"/></linearGradient><linearGradient id="g51" gradientUnits="userSpaceOnUse" x1="62" x2="278" y1="0" y2="0"><stop offset="0.0000" stop-color="#f9fb15"/><stop offset="0.0718" stop-color="#f9fb15"/><stop offset="0.0764" stop-color="#f5eb23"/><stop offset="0.0810" stop-color="#fbbc3d"/><stop offset="0.0856" stop-color="#c3c22b"/><stop offset="0.0903" stop-color="#84cb56"/><stop offset="0.0949" stop-color="#51cc7f"/><stop offset="0.0995" stop-color="#34c79c"/><stop offset="0.1042" stop-color="#22c1b0"/><stop offset="0.1088" stop-color="#07bcc0"/><stop offset="0.1134" stop-color="#04b6cc"/><stop offset="0.1181" stop-color="#12b1d7"/><stop offset="0.1273" stop-color="#20a5e2"/><stop offset="0.1551" stop-color="#2d88f6"/><stop offset="0.1829" stop-color="#3974fe"/><stop offset="0.2199" stop-color="#4563fc"/><stop offset="0.3079" stop-color="#484cef"/><stop offset="0.5208" stop-color="#463bdc"/><stop offset="0.9745" stop-color="#4332ca"/><stop offset="1.0000" stop-color="#4332ca"/></linearGradient><linearGradient id="g52" gradientUnits="userSpaceOnUse" x1="62" x2="278" y1="0" y2="0"><stop offset="0.0000" stop-color="#f9fb15"/><stop offset="0.0764" stop-color="#f9fb15"/><stop offset="0.0810" stop-color="#fdcc32"/><stop offset="0.0856" stop-color="#debd29"/><stop offset="0.0903" stop-color="#a0c841"/><stop offset="0.0949" stop-color="#66cd6d"/><stop offset="0.0995" stop-color="#3eca90"/><stop offset="0.1042" stop-color="#2cc4a7"/><stop offset="0.1088" stop-color="#13beb8"/><stop offset="0.1134" stop-color="#01b9c6"/><stop offset="0.1227" stop-color="#18aedb"/><stop offset="0.1366" stop-color="#259de7"/><stop offset="0.1597" stop-color="#2e87f7"/><stop offset="0.1875" stop-color="#3a73fe"/><stop offset="0.2245" stop-color="#4562fc"/><stop offset="0.3264" stop-color="#484bee"/><stop offset="0.5162" stop-color="#463bdd"/><stop offset="0.9653" stop-color="#4332cb"/><stop offset="1.0000" stop-color="#4332ca"/></linearGradient><linearGradient id="g53" gradientUnits="userSpaceOnUse" x1="62" x2="278" y1="0" y2="0"><stop offset="0.0000" stop-color="#f9fb15"/><stop offset="0.0764" stop-color="#f9fb15"/><stop offset="0.0810" stop-color="#f5e327"/><stop offset="0.0856" stop-color="#f5ba3b"/><stop offset="0.0903" stop-color="#bcc42f"/><stop offset="0.0949" stop-color="#7fcc5a"/><stop offset="0.0995" stop-color="#4ecc81"/><stop offset="0.1042" stop-color="#33c69d"/><stop offset="0.1088" stop-color="#21c1b1"/><stop offset="0.1134" stop-color="#06bcc0"/><stop offset="0.1181" stop-color="#04b6cd"/><stop offset="0.1227" stop-color="#12b1d7"/><stop offset="0.1319" stop-color="#20a5e2"/><stop offset="0.1597" stop-color="#2d89f5"/><stop offset="0.1875" stop-color="#3975fe"/><stop offset="0.2245" stop-color="#4563fd"/><stop offset="0.3310" stop-color="#484bef"/><stop offset="0.4977" stop-color="#463cde"/><stop offset="0.9236" stop-color="#4433cc"/><stop offset="1.0000" stop-color="#4332ca"/></linearGradient><linearGradient id="g54" gradientUnits="userSpaceOnUse" x1="62" x2="278" y1="0" y2="0"><stop offset="0.0000" stop-color="#f9fb15"/><stop offset="0.0810" stop-color="#f9fb15"/><stop offset="0.0856" stop-color="#fec636"/><stop offset="0.0903" stop-color="#d7be28"/><stop offset="0.0949" stop-color="#9ac945"/><stop offset="0.0995" stop-color="#62cd71"/><stop offset="0.1042" stop-color="#3cc991"/><stop offset="0.1088" stop-color="#2bc3a8"/><stop offset="0.1134" stop-color="#12beb9"/><stop offset="0.1181" stop-color="#01b9c7"/><stop offset="0.1273" stop-color="#17aedb"/><stop offset="0.1412" stop-color="#259de7"/><stop offset="0.1690" stop-color="#2e84f9"/><stop offset="0.2060" stop-color="#406cfe"/><stop offset="0.2755" stop-color="#4756f7"/><stop offset="0.4190" stop-color="#4741e5"/><stop offset="0.7431" stop-color="#4435d1"/><stop offset="1.0000" stop-color="#4332ca"/></linearGradient><linearGradient id="g55" gradientUnits="userSpaceOnUse" x1="62" x2="278" y1="0" y2="0"><stop offset="0.0000" stop-color="#f9fb15"/><stop offset="0.0810" stop-color="#f9fb15"/><stop offset="0.0856" stop-color="#f8da2b"/><stop offset="0.0903" stop-color="#efba35"/><stop offset="0.0949" stop-color="#b6c533"/><stop offset="0.0995" stop-color="#7acc5e"/><stop offset="0.1042" stop-color="#4bcb84"/><stop offset="0.1088" stop-color="#32c69e"/><stop offset="0.1134" stop-color="#1fc1b1"/><stop offset="0.1181" stop-color="#06bcc0"/><stop offset="0.1227" stop-color="#04b6cd"/><stop offset="0.1273" stop-color="#12b1d7"/><stop offset="0.1366" stop-color="#1fa5e2"/><stop offset="0.1644" stop-color="#2d89f5"/><stop offset="0.1921" stop-color="#3876fe"/><stop offset="0.2292" stop-color="#4464fd"/><stop offset="0.3310" stop-color="#484df0"/><stop offset="0.5162" stop-color="#463cde"/><stop offset="0.9282" stop-color="#4433cc"/><stop offset="1.0000" stop-color="#4332ca"/></linearGradient><linearGradient id="g56" gradientUnits="userSpaceOnUse" x1="62" x2="278" y1="0" y2="0"><stop offset="0.0000" stop-color="#f9fb15"/><stop offset="0.0810" stop-color="#f9fb15"/><stop offset="0.0856" stop-color="#f7f41c"/><stop offset="0.0903" stop-color="#fec13a"/><stop offset="0.0949" stop-color="#d1bf27"/><stop offset="0.0995" stop-color="#94ca4a"/><stop offset="0.1042" stop-color="#5ecd74"/><stop offset="0.1088" stop-color="#3ac993"/><stop offset="0.1134" stop-color="#2ac3a9"/><stop offset="0.1181" stop-color="#11beb9"/><stop offset="0.1227" stop-color="#01b9c7"/><stop offset="0.1319" stop-color="#17aedb"/><stop offset="0.1458" stop-color="#249de6"/><stop offset="0.1736" stop-color="#2e84f8"/><stop offset="0.2106" stop-color="#406dfe"/><stop offset="0.2755" stop-color="#4758f8"/><stop offset="0.4190" stop-color="#4743e7"/><stop offset="0.6968" stop-color="#4536d4"/><stop offset="1.0000" stop-color="#4332ca"/></linearGradient><linearGradient id="g57" gradientUnits="userSpaceOnUse" x1="62" x2="278" y1="0" y2="0"><stop offset="0.0000" stop-color="#f9fb15"/><stop offset="0.0856" stop-color="#f9fb15"/><stop offset="0.0903" stop-color="#fbd32e"/><stop offset="0.0949" stop-color="#e9bb30"/><stop offset="0.0995" stop-color="#afc636"/><stop offset="0.1042" stop-color="#75cc61"/><stop offset="0.1088" stop-color="#48cb86"/><stop offset="0.1134" stop-color="#31c6a0"/><stop offset="0.1181" stop-color="#1ec0b2"/><stop offset="0.1227" stop-color="#05bbc1"/><stop offset="0.1273" stop-color="#04b6cd"/><stop offset="0.1319" stop-color="#12b1d7"/><stop offset="0.1412" stop-color="#1fa5e2"/><stop offset="0.1690" stop-color="#2d8af5"/><stop offset="0.1968" stop-color="#3776fe"/><stop offset="0.2338" stop-color="#4465fd"/><stop offset="0.3310" stop-color="#484ef1"/><stop offset="0.5394" stop-color="#463bdd"/><stop offset="0.9514" stop-color="#4433cb"/><stop offset="1.0000" stop-color="#4332ca"/></linearGradient><linearGradient id="g58" gradientUnits="userSpaceOnUse" x1="62" x2="278" y1="0" y2="0"><stop offset="0.0000" stop-color="#f9fb15"/><stop offset="0.0856" stop-color="#f9fb15"/><stop offset="0.0903" stop-color="#f5eb23"/><stop offset="0.0949" stop-color="#fdbd3d"/><stop offset="0.0995" stop-color="#cac129"/><stop offset="0.1042" stop-color="#8fcb4e"/><stop offset="0.1088" stop-color="#5bcc77"/><stop offset="0.1134" stop-color="#39c895"/><stop offset="0.1181" stop-color="#29c3aa"/><stop offset="0.1227" stop-color="#10beba"/><stop offset="0.1273" stop-color="#01b9c7"/><stop offset="0.1366" stop-color="#17aeda"/><stop offset="0.1551" stop-color="#2699e9"/><stop offset="0.1875" stop-color="#317efb"/><stop offset="0.2245" stop-color="#4269fe"/><stop offset="0.3125" stop-color="#4852f4"/><stop offset="0.5023" stop-color="#463de0"/><stop offset="0.8634" stop-color="#4434ce"/><stop offset="1.0000" stop-color="#4332ca"/></linearGradient><linearGradient id="g59" gradientUnits="userSpaceOnUse" x1="62" x2="278" y1="0" y2="0"><stop offset="0.0000" stop-color="#f9fb15"/><stop offset="0.0903" stop-color="#f9fb15"/><stop offset="0.0949" stop-color="#fdcd31"/><stop offset="0.0995" stop-color="#e3bc2c"/><stop offset="0.1042" stop-color="#a9c73a"/><stop offset="0.1088" stop-color="#70cd65"/><stop offset="0.1134" stop-color="#46cb88"/><stop offset="0.1181" stop-color="#30c5a1"/><stop offset="0.1227" stop-color="#1dc0b3"/><stop offset="0.1273" stop-color="#05bbc1"/><stop offset="0.1319" stop-color="#04b6cd"/><stop offset="0.1366" stop-color="#12b1d7"/><stop offset="0.1458" stop-color="#1fa6e2"/><stop offset="0.1736" stop-color="#2d8af4"/><stop offset="0.2014" stop-color="#3777fe"/><stop offset="0.2338" stop-color="#4367fd"/><stop offset="0.3264" stop-color="#4850f2"/><stop offset="0.5440" stop-color="#463bde"/><stop offset="0.9375" stop-color="#4433cc"/><stop offset="1.0000" stop-color="#4332ca"/></linearGradient><linearGradient id="g60" gradientUnits="userSpaceOnUse" x1="62" x2="278" y1="0" y2="0"><stop offset="0.0000" stop-color="#f9fb15"/><stop offset="0.0903" stop-color="#f9fb15"/><stop offset="0.0949" stop-color="#f5e327"/><stop offset="0.0995" stop-color="#f9bb3d"/><stop offset="0.1042" stop-color="#c4c22b"/><stop offset="0.1088" stop-color="#89cb52"/><stop offset="0.1134" stop-color="#57cc7a"/><stop offset="0.1181" stop-color="#38c897"/><stop offset="0.1227" stop-color="#28c2ab"/><stop offset="0.1273" stop-color="#0fbebb"/><stop offset="0.1319" stop-color="#01b9c7"/><stop offset="0.1412" stop-color="#17aeda"/><stop offset="0.1597" stop-color="#2699e9"/><stop offset="0.1921" stop-color="#307ffb"/><stop offset="0.2338" stop-color="#4368fe"/><stop offset="0.3171" stop-color="#4853f4"/><stop offset="0.5116" stop-color="#463ee1"/><stop offset="0.8542" stop-color="#4434ce"/><stop offset="1.0000" stop-color="#4332ca"/></linearGradient><linearGradient id="g61" gradientUnits="userSpaceOnUse" x1="62" x2="278" y1="0" y2="0"><stop offset="0.0000" stop-color="#f9fb15"/><stop offset="0.0949" stop-color="#f9fb15"/><stop offset="0.0995" stop-color="#fec934"/><stop offset="0.1042" stop-color="#debc2a"/><stop offset="0.1088" stop-color="#a5c83d"/><stop offset="0.1134" stop-color="#6dcd67"/><stop offset="0.1181" stop-color="#44cb8a"/><stop offset="0.1227" stop-color="#30c5a2"/><stop offset="0.1319" stop-color="#05bbc1"/><stop offset="0.1366" stop-color="#04b6cd"/><stop offset="0.1412" stop-color="#12b1d6"/><stop offset="0.1505" stop-color="#1fa6e2"/><stop offset="0.1782" stop-color="#2d8bf4"/><stop offset="0.2060" stop-color="#3678fe"/><stop offset="0.2431" stop-color="#4466fd"/><stop offset="0.3310" stop-color="#4851f4"/><stop offset="0.5394" stop-color="#463cdf"/><stop offset="0.8727" stop-color="#4434cf"/><stop offset="1.0000" stop-color="#4433cc"/></linearGradient><linearGradient id="g62" gradientUnits="userSpaceOnUse" x1="62" x2="278" y1="0" y2="0"><stop offset="0.0000" stop-color="#f9fb15"/><stop offset="0.0949" stop-color="#f9fb15"/><stop offset="0.0995" stop-color="#f6e028"/><stop offset="0.1042" stop-color="#f7ba3c"/><stop offset="0.1088" stop-color="#c2c22c"/><stop offset="0.1134" stop-color="#88cb53"/><stop offset="0.1181" stop-color="#57cc7a"/><stop offset="0.1227" stop-color="#38c896"/><stop offset="0.1273" stop-color="#28c3aa"/><stop offset="0.1319" stop-color="#10beba"/><stop offset="0.1366" stop-color="#01b9c7"/><stop offset="0.1458" stop-color="#16aeda"/><stop offset="0.1597" stop-color="#249ee6"/><stop offset="0.1875" stop-color="#2e86f7"/><stop offset="0.2245" stop-color="#3e6fff"/><stop offset="0.2847" stop-color="#475af9"/><stop offset="0.4653" stop-color="#4742e7"/><stop offset="0.7338" stop-color="#4536d4"/><stop offset="1.0000" stop-color="#4433cc"/></linearGradient><linearGradient id="g63" gradientUnits="userSpaceOnUse" x1="62" x2="278" y1="0" y2="0"><stop offset="0.0000" stop-color="#f9fb15"/><stop offset="0.0995" stop-color="#f9fb15"/><stop offset="0.1042" stop-color="#fec934"/><stop offset="0.1088" stop-color="#e0bc2a"/><stop offset="0.1134" stop-color="#a8c73b"/><stop offset="0.1181" stop-color="#72cd63"/><stop offset="0.1227" stop-color="#49cb86"/><stop offset="0.1273" stop-color="#32c69e"/><stop offset="0.1319" stop-color="#22c1b0"/><stop offset="0.1366" stop-color="#09bcbe"/><stop offset="0.1412" stop-color="#01b8ca"/><stop offset="0.1505" stop-color="#18addb"/><stop offset="0.1690" stop-color="#2699e9"/><stop offset="0.2014" stop-color="#3080fa"/><stop offset="0.2431" stop-color="#426afe"/><stop offset="0.3264" stop-color="#4854f5"/><stop offset="0.5208" stop-color="#473ee2"/><stop offset="0.8310" stop-color="#4435d0"/><stop offset="1.0000" stop-color="#4433cc"/></linearGradient><linearGradient id="g64" gradientUnits="userSpaceOnUse" x1="62" x2="278" y1="0" y2="0"><stop offset="0.0000" stop-color="#f9fb15"/><stop offset="0.0995" stop-color="#f9fb15"/><stop offset="0.1042" stop-color="#f6df29"/><stop offset="0.1088" stop-color="#f8ba3d"/><stop offset="0.1134" stop-color="#c8c129"/><stop offset="0.1181" stop-color="#92ca4c"/><stop offset="0.1227" stop-color="#61cd71"/><stop offset="0.1273" stop-color="#3eca8f"/><stop offset="0.1319" stop-color="#2ec5a4"/><stop offset="0.1412" stop-color="#05bbc1"/><stop offset="0.1458" stop-color="#03b7cc"/><stop offset="0.1551" stop-color="#19addc"/><stop offset="0.1829" stop-color="#2b91ef"/><stop offset="0.2153" stop-color="#337bfc"/><stop offset="0.2523" stop-color="#4269fe"/><stop offset="0.3449" stop-color="#4852f4"/><stop offset="0.5394" stop-color="#463ee1"/><stop offset="0.8819" stop-color="#4434cf"/><stop offset="1.0000" stop-color="#4433cc"/></linearGradient><linearGradient id="g65" gradientUnits="userSpaceOnUse" x1="62" x2="278" y1="0" y2="0"><stop offset="0.0000" stop-color="#f9fb15"/><stop offset="0.1042" stop-color="#f8f917"/><stop offset="0.1088" stop-color="#fec934"/><stop offset="0.1134" stop-color="#e3bc2c"/><stop offset="0.1181" stop-color="#b0c636"/><stop offset="0.1227" stop-color="#7dcc5b"/><stop offset="0.1273" stop-color="#53cc7d"/><stop offset="0.1319" stop-color="#38c897"/><stop offset="0.1366" stop-color="#2ac3a9"/><stop offset="0.1458" stop-color="#02bac3"/><stop offset="0.1505" stop-color="#05b6ce"/><stop offset="0.1597" stop-color="#1aacdd"/><stop offset="0.1875" stop-color="#2b92ee"/><stop offset="0.2199" stop-color="#327cfc"/><stop offset="0.2616" stop-color="#4368fe"/><stop offset="0.3681" stop-color="#4850f2"/><stop offset="0.5671" stop-color="#463ddf"/><stop offset="0.9699" stop-color="#4433cd"/><stop offset="1.0000" stop-color="#4433cc"/></linearGradient><linearGradient id="g66" gradientUnits="userSpaceOnUse" x1="62" x2="278" y1="0" y2="0"><stop offset="0.0000" stop-color="#f9fb15"/><stop offset="0.1042" stop-color="#f9fb15"/><stop offset="0.1088" stop-color="#f6dd29"/><stop offset="0.1134" stop-color="#f9bb3d"/><stop offset="0.1181" stop-color="#ccc028"/><stop offset="0.1227" stop-color="#99c946"/><stop offset="0.1273" stop-color="#69cd6a"/><stop offset="0.1319" stop-color="#46cb88"/><stop offset="0.1366" stop-color="#32c69e"/><stop offset="0.1412" stop-color="#24c1ae"/><stop offset="0.1458" stop-color="#0dbdbb"/><stop offset="0.1505" stop-color="#01b9c7"/><stop offset="0.1551" stop-color="#08b5d0"/><stop offset="0.1597" stop-color="#14b0d8"/><stop offset="0.1736" stop-color="#22a1e4"/><stop offset="0.2060" stop-color="#2d87f6"/><stop offset="0.2384" stop-color="#3975fe"/><stop offset="0.2847" stop-color="#4563fc"/><stop offset="0.4144" stop-color="#484aee"/><stop offset="0.6412" stop-color="#463adb"/><stop offset="1.0000" stop-color="#4433cc"/></linearGradient><linearGradient id="g67" gradientUnits="userSpaceOnUse" x1="62" x2="278" y1="0" y2="0"><stop offset="0.0000" stop-color="#f9fb15"/><stop offset="0.1042" stop-color="#f9fb15"/><stop offset="0.1088" stop-color="#f8f719"/><stop offset="0.1134" stop-color="#fec834"/><stop offset="0.1181" stop-color="#e5bb2d"/><stop offset="0.1227" stop-color="#b4c533"/><stop offset="0.1273" stop-color="#83cc57"/><stop offset="0.1319" stop-color="#59cc78"/><stop offset="0.1366" stop-color="#3cc992"/><stop offset="0.1458" stop-color="#1cc0b3"/><stop offset="0.1505" stop-color="#07bcbf"/><stop offset="0.1551" stop-color="#01b8ca"/><stop offset="0.1644" stop-color="#16aeda"/><stop offset="0.1829" stop-color="#259ce7"/><stop offset="0.2153" stop-color="#2e84f8"/><stop offset="0.2616" stop-color="#406dfe"/><stop offset="0.3495" stop-color="#4755f6"/><stop offset="0.5162" stop-color="#4741e5"/><stop offset="0.8588" stop-color="#4435d1"/><stop offset="1.0000" stop-color="#4433cd"/></linearGradient><linearGradient id="g68" gradientUnits="userSpaceOnUse" x1="62" x2="278" y1="0" y2="0"><stop offset="0.0000" stop-color="#f9fb15"/><stop offset="0.1088" stop-color="#f9fb15"/><stop offset="0.1134" stop-color="#f7dc2a"/><stop offset="0.1181" stop-color="#fabb3d"/><stop offset="0.1227" stop-color="#cfc028"/><stop offset="0.1273" stop-color="#9ec942"/><stop offset="0.1319" stop-color="#6fcd66"/><stop offset="0.1366" stop-color="#4bcb84"/><stop offset="0.1412" stop-color="#35c79a"/><stop offset="0.1458" stop-color="#28c3aa"/><stop offset="0.1551" stop-color="#02bbc3"/><stop offset="0.1597" stop-color="#04b6cd"/><stop offset="0.1690" stop-color="#18addb"/><stop offset="0.1921" stop-color="#2798ea"/><stop offset="0.2292" stop-color="#307ffb"/><stop offset="0.2801" stop-color="#4368fe"/><stop offset="0.4005" stop-color="#484ef1"/><stop offset="0.6551" stop-color="#463adb"/><stop offset="1.0000" stop-color="#4434cd"/></linearGradient><linearGradient id="g69" gradientUnits="userSpaceOnUse" x1="62" x2="278" y1="0" y2="0"><stop offset="0.0000" stop-color="#f9fb15"/><stop offset="0.1088" stop-color="#f9fb15"/><stop offset="0.1134" stop-color="#f7f51b"/><stop offset="0.1181" stop-color="#fec835"/><stop offset="0.1227" stop-color="#e6bb2d"/><stop offset="0.1273" stop-color="#b8c431"/><stop offset="0.1319" stop-color="#88cb53"/><stop offset="0.1366" stop-color="#5ecd74"/><stop offset="0.1412" stop-color="#3fca8e"/><stop offset="0.1505" stop-color="#22c1b0"/><stop offset="0.1551" stop-color="#0cbdbc"/><stop offset="0.1597" stop-color="#01b9c7"/><stop offset="0.1644" stop-color="#07b5d0"/><stop offset="0.1736" stop-color="#1aacdd"/><stop offset="0.2060" stop-color="#2c90f0"/><stop offset="0.2431" stop-color="#347afd"/><stop offset="0.2847" stop-color="#4368fe"/><stop offset="0.4051" stop-color="#484ef1"/><stop offset="0.6644" stop-color="#463adc"/><stop offset="1.0000" stop-color="#4434ce"/></linearGradient><linearGradient id="g70" gradientUnits="userSpaceOnUse" x1="62" x2="278" y1="0" y2="0"><stop offset="0.0000" stop-color="#f9fb15"/><stop offset="0.1134" stop-color="#f9fb15"/><stop offset="0.1227" stop-color="#fabb3d"/><stop offset="0.1273" stop-color="#d1bf27"/><stop offset="0.1319" stop-color="#a2c840"/><stop offset="0.1366" stop-color="#74cc62"/><stop offset="0.1412" stop-color="#50cc7f"/><stop offset="0.1458" stop-color="#38c896"/><stop offset="0.1505" stop-color="#2cc4a7"/><stop offset="0.1597" stop-color="#07bcc0"/><stop offset="0.1644" stop-color="#01b8ca"/><stop offset="0.1736" stop-color="#15afd9"/><stop offset="0.1921" stop-color="#249ee6"/><stop offset="0.2245" stop-color="#2e87f7"/><stop offset="0.2662" stop-color="#3c71ff"/><stop offset="0.3264" stop-color="#465efb"/><stop offset="0.4514" stop-color="#484aed"/><stop offset="0.7292" stop-color="#4538d8"/><stop offset="1.0000" stop-color="#4434ce"/></linearGradient><linearGradient id="g71" gradientUnits="userSpaceOnUse" x1="62" x2="278" y1="0" y2="0"><stop offset="0.0000" stop-color="#f9fb15"/><stop offset="0.1134" stop-color="#f9fb15"/><stop offset="0.1181" stop-color="#f7f31d"/><stop offset="0.1227" stop-color="#fec835"/><stop offset="0.1273" stop-color="#e7bb2e"/><stop offset="0.1319" stop-color="#bbc42f"/><stop offset="0.1412" stop-color="#63cd6f"/><stop offset="0.1458" stop-color="#44cb8a"/><stop offset="0.1551" stop-color="#26c2ac"/><stop offset="0.1644" stop-color="#02bac3"/><stop offset="0.1690" stop-color="#04b6cc"/><stop offset="0.1782" stop-color="#17aedb"/><stop offset="0.2014" stop-color="#2699e9"/><stop offset="0.2431" stop-color="#307ffb"/><stop offset="0.2940" stop-color="#4369fe"/><stop offset="0.4236" stop-color="#484ef1"/><stop offset="0.7106" stop-color="#4639da"/><stop offset="1.0000" stop-color="#4434cf"/></linearGradient><linearGradient id="g72" gradientUnits="userSpaceOnUse" x1="62" x2="278" y1="0" y2="0"><stop offset="0.0000" stop-color="#f9fb15"/><stop offset="0.1181" stop-color="#f9fb15"/><stop offset="0.1273" stop-color="#fabb3d"/><stop offset="0.1319" stop-color="#d3bf27"/><stop offset="0.1366" stop-color="#a6c83d"/><stop offset="0.1412" stop-color="#79cc5e"/><stop offset="0.1458" stop-color="#55cc7c"/><stop offset="0.1505" stop-color="#3bc992"/><stop offset="0.1597" stop-color="#20c1b1"/><stop offset="0.1644" stop-color="#0bbdbd"/><stop offset="0.1690" stop-color="#01b9c7"/><stop offset="0.1736" stop-color="#07b5cf"/><stop offset="0.1829" stop-color="#19addc"/><stop offset="0.2060" stop-color="#2699ea"/><stop offset="0.2477" stop-color="#307efb"/><stop offset="0.2986" stop-color="#4269fe"/><stop offset="0.4097" stop-color="#4852f4"/><stop offset="0.6597" stop-color="#463cdf"/><stop offset="1.0000" stop-color="#4434cf"/></linearGradient><linearGradient id="g73" gradientUnits="userSpaceOnUse" x1="62" x2="278" y1="0" y2="0"><stop offset="0.0000" stop-color="#f9fb15"/><stop offset="0.1181" stop-color="#f9fb15"/><stop offset="0.1227" stop-color="#f6f21e"/><stop offset="0.1273" stop-color="#fec835"/><stop offset="0.1319" stop-color="#e8bb2f"/><stop offset="0.1366" stop-color="#bec32e"/><stop offset="0.1458" stop-color="#68cd6b"/><stop offset="0.1505" stop-color="#48cb86"/><stop offset="0.1551" stop-color="#35c79a"/><stop offset="0.1597" stop-color="#2ac3a9"/><stop offset="0.1690" stop-color="#06bcc0"/><stop offset="0.1736" stop-color="#01b8ca"/><stop offset="0.1875" stop-color="#1aabdd"/><stop offset="0.2199" stop-color="#2b91ef"/><stop offset="0.2616" stop-color="#347afd"/><stop offset="0.3079" stop-color="#4368fd"/><stop offset="0.4236" stop-color="#4851f4"/><stop offset="0.6690" stop-color="#463cdf"/><stop offset="1.0000" stop-color="#4434d0"/></linearGradient><linearGradient id="g74" gradientUnits="userSpaceOnUse" x1="62" x2="278" y1="0" y2="0"><stop offset="0.0000" stop-color="#f9fb15"/><stop offset="0.1227" stop-color="#f9fb15"/><stop offset="0.1273" stop-color="#f8d92c"/><stop offset="0.1319" stop-color="#fabb3d"/><stop offset="0.1366" stop-color="#d5be28"/><stop offset="0.1412" stop-color="#a9c73a"/><stop offset="0.1458" stop-color="#7ecc5b"/><stop offset="0.1505" stop-color="#5acc78"/><stop offset="0.1551" stop-color="#3eca8f"/><stop offset="0.1644" stop-color="#24c2ae"/><stop offset="0.1736" stop-color="#02bac4"/><stop offset="0.1782" stop-color="#04b6cc"/><stop offset="0.1875" stop-color="#16aeda"/><stop offset="0.2106" stop-color="#269be8"/><stop offset="0.2477" stop-color="#2e83f9"/><stop offset="0.2986" stop-color="#406cfe"/><stop offset="0.4005" stop-color="#4755f6"/><stop offset="0.6227" stop-color="#473fe3"/><stop offset="0.9792" stop-color="#4435d1"/><stop offset="1.0000" stop-color="#4435d0"/></linearGradient><linearGradient id="g75" gradientUnits="userSpaceOnUse" x1="62" x2="278" y1="0" y2="0"><stop offset="0.0000" stop-color="#f9fb15"/><stop offset="0.1227" stop-color="#f9fb15"/><stop offset="0.1273" stop-color="#f8f719"/><stop offset="0.1319" stop-color="#fdcc32"/><stop offset="0.1366" stop-color="#efba35"/><stop offset="0.1412" stop-color="#c7c12a"/><stop offset="0.1505" stop-color="#72cd64"/><stop offset="0.1551" stop-color="#51cc7f"/><stop offset="0.1597" stop-color="#3ac994"/><stop offset="0.1690" stop-color="#20c1b1"/><stop offset="0.1736" stop-color="#0cbdbc"/><stop offset="0.1782" stop-color="#01b9c6"/><stop offset="0.1829" stop-color="#05b6ce"/><stop offset="0.1921" stop-color="#18aedb"/><stop offset="0.2153" stop-color="#269ae8"/><stop offset="0.2523" stop-color="#2e83f9"/><stop offset="0.3032" stop-color="#406dfe"/><stop offset="0.4005" stop-color="#4756f7"/><stop offset="0.6088" stop-color="#4741e4"/><stop offset="0.9884" stop-color="#4435d1"/><stop offset="1.0000" stop-color="#4435d1"/></linearGradient><linearGradient id="g76" gradientUnits="userSpaceOnUse" x1="62" x2="278" y1="0" y2="0"><stop offset="0.0000" stop-color="#f9fb15"/><stop offset="0.1273" stop-color="#f9fb15"/><stop offset="0.1319" stop-color="#f5e526"/><stop offset="0.1366" stop-color="#fec239"/><stop offset="0.1412" stop-color="#e2bc2b"/><stop offset="0.1458" stop-color="#b9c431"/><stop offset="0.1551" stop-color="#67cd6c"/><stop offset="0.1597" stop-color="#49cb85"/><stop offset="0.1644" stop-color="#36c899"/><stop offset="0.1690" stop-color="#2bc3a8"/><stop offset="0.1782" stop-color="#09bcbe"/><stop offset="0.1829" stop-color="#01b9c8"/><stop offset="0.1875" stop-color="#07b5cf"/><stop offset="0.1968" stop-color="#19addc"/><stop offset="0.2199" stop-color="#269ae9"/><stop offset="0.2569" stop-color="#2e83f9"/><stop offset="0.3079" stop-color="#406dfe"/><stop offset="0.4051" stop-color="#4757f7"/><stop offset="0.6042" stop-color="#4742e6"/><stop offset="1.0000" stop-color="#4536d3"/></linearGradient><linearGradient id="g77" gradientUnits="userSpaceOnUse" x1="62" x2="278" y1="0" y2="0"><stop offset="0.0000" stop-color="#f9fb15"/><stop offset="0.1319" stop-color="#f9fb15"/><stop offset="0.1366" stop-color="#fad52e"/><stop offset="0.1412" stop-color="#f9bb3d"/><stop offset="0.1458" stop-color="#d4bf28"/><stop offset="0.1505" stop-color="#abc739"/><stop offset="0.1551" stop-color="#81cc58"/><stop offset="0.1597" stop-color="#5dcc74"/><stop offset="0.1644" stop-color="#42ca8b"/><stop offset="0.1736" stop-color="#28c2ab"/><stop offset="0.1829" stop-color="#06bbc1"/><stop offset="0.1875" stop-color="#01b8c9"/><stop offset="0.2014" stop-color="#19acdc"/><stop offset="0.2338" stop-color="#2a93ed"/><stop offset="0.2755" stop-color="#327cfc"/><stop offset="0.3264" stop-color="#4369fe"/><stop offset="0.4606" stop-color="#484ff2"/><stop offset="0.6736" stop-color="#473ee1"/><stop offset="1.0000" stop-color="#4536d3"/></linearGradient><linearGradient id="g78" gradientUnits="userSpaceOnUse" x1="62" x2="278" y1="0" y2="0"><stop offset="0.0000" stop-color="#f9fb15"/><stop offset="0.1319" stop-color="#f9fb15"/><stop offset="0.1366" stop-color="#f6f21e"/><stop offset="0.1412" stop-color="#feca34"/><stop offset="0.1458" stop-color="#eeba34"/><stop offset="0.1505" stop-color="#c7c12a"/><stop offset="0.1551" stop-color="#9dc943"/><stop offset="0.1597" stop-color="#75cc61"/><stop offset="0.1644" stop-color="#55cc7c"/><stop offset="0.1690" stop-color="#3dc991"/><stop offset="0.1782" stop-color="#24c2ae"/><stop offset="0.1875" stop-color="#03bbc3"/><stop offset="0.1921" stop-color="#02b7cb"/><stop offset="0.2060" stop-color="#1aacdd"/><stop offset="0.2384" stop-color="#2a93ee"/><stop offset="0.2801" stop-color="#327cfc"/><stop offset="0.3310" stop-color="#4269fe"/><stop offset="0.4699" stop-color="#484ff2"/><stop offset="0.6875" stop-color="#463ee1"/><stop offset="1.0000" stop-color="#4536d3"/></linearGradient><linearGradient id="g79" gradientUnits="userSpaceOnUse" x1="62" x2="278" y1="0" y2="0"><stop offset="0.0000" stop-color="#f9fb15"/><stop offset="0.1366" stop-color="#f9fb15"/><stop offset="0.1412" stop-color="#f6e128"/><stop offset="0.1458" stop-color="#fec03a"/><stop offset="0.1505" stop-color="#e1bc2b"/><stop offset="0.1551" stop-color="#b9c430"/><stop offset="0.1644" stop-color="#6bcd69"/><stop offset="0.1690" stop-color="#4dcb82"/><stop offset="0.1736" stop-color="#38c896"/><stop offset="0.1829" stop-color="#20c1b1"/><stop offset="0.1875" stop-color="#0dbdbb"/><stop offset="0.1921" stop-color="#02bac5"/><stop offset="0.1968" stop-color="#04b6cd"/><stop offset="0.2060" stop-color="#16afd9"/><stop offset="0.2292" stop-color="#259ce7"/><stop offset="0.2662" stop-color="#2e85f8"/><stop offset="0.3218" stop-color="#3f6efe"/><stop offset="0.4190" stop-color="#4757f7"/><stop offset="0.6042" stop-color="#4743e7"/><stop offset="0.9884" stop-color="#4536d3"/><stop offset="1.0000" stop-color="#4536d3"/></linearGradient><linearGradient id="g80" gradientUnits="userSpaceOnUse" x1="62" x2="278" y1="0" y2="0"><stop offset="0.0000" stop-color="#f9fb15"/><stop offset="0.1412" stop-color="#f9fb15"/><stop offset="0.1458" stop-color="#fbd22f"/><stop offset="0.1505" stop-color="#f8ba3d"/><stop offset="0.1551" stop-color="#d4bf28"/><stop offset="0.1597" stop-color="#acc738"/><stop offset="0.1690" stop-color="#61cd71"/><stop offset="0.1736" stop-color="#46cb88"/><stop offset="0.1782" stop-color="#35c79a"/><stop offset="0.1875" stop-color="#1cc0b4"/><stop offset="0.1921" stop-color="#0abdbe"/><stop offset="0.1968" stop-color="#01b9c6"/><stop offset="0.2014" stop-color="#05b6ce"/><stop offset="0.2106" stop-color="#17aeda"/><stop offset="0.2338" stop-color="#259ce7"/><stop offset="0.2755" stop-color="#2e83f9"/><stop offset="0.3310" stop-color="#406cfe"/><stop offset="0.4421" stop-color="#4854f6"/><stop offset="0.6505" stop-color="#4741e5"/><stop offset="1.0000" stop-color="#4536d3"/></linearGradient><linearGradient id="g81" gradientUnits="userSpaceOnUse" x1="62" x2="278" y1="0" y2="0"><stop offset="0.0000" stop-color="#f9fb15"/><stop offset="0.1412" stop-color="#f9fb15"/><stop offset="0.1458" stop-color="#f5ed22"/><stop offset="0.1505" stop-color="#fec835"/><stop offset="0.1551" stop-color="#edba33"/><stop offset="0.1597" stop-color="#c7c129"/><stop offset="0.1644" stop-color="#9fc941"/><stop offset="0.1690" stop-color="#79cc5f"/><stop offset="0.1736" stop-color="#58cc79"/><stop offset="0.1782" stop-color="#3fca8e"/><stop offset="0.1875" stop-color="#28c2ab"/><stop offset="0.1968" stop-color="#07bcc0"/><stop offset="0.2014" stop-color="#01b8c8"/><stop offset="0.2153" stop-color="#18addb"/><stop offset="0.2431" stop-color="#2798ea"/><stop offset="0.2894" stop-color="#307ffb"/><stop offset="0.3495" stop-color="#4368fe"/><stop offset="0.4977" stop-color="#484ef1"/><stop offset="0.8218" stop-color="#463adb"/><stop offset="1.0000" stop-color="#4536d3"/></linearGradient><linearGradient id="g82" gradientUnits="userSpaceOnUse" x1="62" x2="278" y1="0" y2="0"><stop offset="0.0000" stop-color="#f9fb15"/><stop offset="0.1458" stop-color="#f9fb15"/><stop offset="0.1505" stop-color="#f7dd2a"/><stop offset="0.1551" stop-color="#febf3b"/><stop offset="0.1597" stop-color="#e1bc2b"/><stop offset="0.1644" stop-color="#bac430"/><stop offset="0.1736" stop-color="#6ecd67"/><stop offset="0.1782" stop-color="#50cc7f"/><stop offset="0.1829" stop-color="#3bc993"/><stop offset="0.1921" stop-color="#24c2ae"/><stop offset="0.2014" stop-color="#04bbc2"/><stop offset="0.2060" stop-color="#01b8ca"/><stop offset="0.2199" stop-color="#19addc"/><stop offset="0.2523" stop-color="#2895ec"/><stop offset="0.2986" stop-color="#317dfc"/><stop offset="0.3542" stop-color="#4369fe"/><stop offset="0.5023" stop-color="#484ef1"/><stop offset="0.8310" stop-color="#463ada"/><stop offset="1.0000" stop-color="#4536d3"/></linearGradient><linearGradient id="g83" gradientUnits="userSpaceOnUse" x1="62" x2="278" y1="0" y2="0"><stop offset="0.0000" stop-color="#f9fb15"/><stop offset="0.1505" stop-color="#f8f917"/><stop offset="0.1551" stop-color="#fcd030"/><stop offset="0.1597" stop-color="#f7ba3c"/><stop offset="0.1644" stop-color="#d4bf28"/><stop offset="0.1690" stop-color="#aec637"/><stop offset="0.1782" stop-color="#64cd6f"/><stop offset="0.1829" stop-color="#49cb85"/><stop offset="0.1875" stop-color="#37c897"/><stop offset="0.1968" stop-color="#20c1b1"/><stop offset="0.2060" stop-color="#02bac4"/><stop offset="0.2106" stop-color="#03b7cb"/><stop offset="0.2245" stop-color="#1aacdd"/><stop offset="0.2616" stop-color="#2b92ee"/><stop offset="0.3079" stop-color="#337bfd"/><stop offset="0.3588" stop-color="#4269fe"/><stop offset="0.5116" stop-color="#484df0"/><stop offset="0.8403" stop-color="#4639da"/><stop offset="1.0000" stop-color="#4536d4"/></linearGradient><linearGradient id="g84" gradientUnits="userSpaceOnUse" x1="62" x2="278" y1="0" y2="0"><stop offset="0.0000" stop-color="#f9fb15"/><stop offset="0.1505" stop-color="#f9fb15"/><stop offset="0.1551" stop-color="#f5e924"/><stop offset="0.1597" stop-color="#fec636"/><stop offset="0.1644" stop-color="#ecba32"/><stop offset="0.1690" stop-color="#c8c129"/><stop offset="0.1736" stop-color="#a1c840"/><stop offset="0.1782" stop-color="#7ccc5c"/><stop offset="0.1829" stop-color="#5ccc76"/><stop offset="0.1875" stop-color="#43ca8b"/><stop offset="0.1968" stop-color="#2ac3a8"/><stop offset="0.2060" stop-color="#0bbdbd"/><stop offset="0.2106" stop-color="#01bac5"/><stop offset="0.2153" stop-color="#04b6cd"/><stop offset="0.2292" stop-color="#1aabdd"/><stop offset="0.2662" stop-color="#2b92ee"/><stop offset="0.3125" stop-color="#337bfc"/><stop offset="0.3681" stop-color="#4368fe"/><stop offset="0.5208" stop-color="#484df0"/><stop offset="0.8449" stop-color="#4639da"/><stop offset="1.0000" stop-color="#4536d4"/></linearGradient><linearGradient id="g85" gradientUnits="userSpaceOnUse" x1="62" x2="278" y1="0" y2="0"><stop offset="0.0000" stop-color="#f9fb15"/><stop offset="0.1551" stop-color="#f9fb15"/><stop offset="0.1597" stop-color="#f8d92b"/><stop offset="0.1644" stop-color="#febe3c"/><stop offset="0.1690" stop-color="#e0bc2a"/><stop offset="0.1736" stop-color="#bbc42f"/><stop offset="0.1829" stop-color="#71cd64"/><stop offset="0.1875" stop-color="#54cc7c"/><stop offset="0.1921" stop-color="#3dca90"/><stop offset="0.2014" stop-color="#27c2ab"/><stop offset="0.2106" stop-color="#08bcbf"/><stop offset="0.2153" stop-color="#01b9c7"/><stop offset="0.2199" stop-color="#06b6ce"/><stop offset="0.2292" stop-color="#16aeda"/><stop offset="0.2523" stop-color="#249de7"/><stop offset="0.2940" stop-color="#2e85f8"/><stop offset="0.3542" stop-color="#3f6dfe"/><stop offset="0.4606" stop-color="#4756f7"/><stop offset="0.6181" stop-color="#4745e9"/><stop offset="0.9421" stop-color="#4537d6"/><stop offset="1.0000" stop-color="#4536d4"/></linearGradient><linearGradient id="g86" gradientUnits="userSpaceOnUse" x1="62" x2="278" y1="0" y2="0"><stop offset="0.0000" stop-color="#f9fb15"/><stop offset="0.1551" stop-color="#f9fb15"/><stop offset="0.1597" stop-color="#f7f41c"/><stop offset="0.1644" stop-color="#fdcd31"/><stop offset="0.1690" stop-color="#f5ba3b"/><stop offset="0.1736" stop-color="#d4bf28"/><stop offset="0.1782" stop-color="#afc637"/><stop offset="0.1875" stop-color="#68cd6c"/><stop offset="0.1921" stop-color="#4ccb82"/><stop offset="0.1968" stop-color="#3ac994"/><stop offset="0.2060" stop-color="#24c2ae"/><stop offset="0.2153" stop-color="#05bbc1"/><stop offset="0.2199" stop-color="#01b8c9"/><stop offset="0.2338" stop-color="#17aedb"/><stop offset="0.2616" stop-color="#269ae9"/><stop offset="0.3032" stop-color="#2e83f9"/><stop offset="0.3634" stop-color="#406cfe"/><stop offset="0.4884" stop-color="#4852f4"/><stop offset="0.7292" stop-color="#473ee1"/><stop offset="1.0000" stop-color="#4536d4"/></linearGradient><linearGradient id="g87" gradientUnits="userSpaceOnUse" x1="62" x2="278" y1="0" y2="0"><stop offset="0.0000" stop-color="#f9fb15"/><stop offset="0.1597" stop-color="#f9fb15"/><stop offset="0.1644" stop-color="#f5e426"/><stop offset="0.1690" stop-color="#fec437"/><stop offset="0.1736" stop-color="#eaba31"/><stop offset="0.1782" stop-color="#c8c129"/><stop offset="0.1829" stop-color="#a2c83f"/><stop offset="0.1921" stop-color="#5ecd74"/><stop offset="0.1968" stop-color="#45cb88"/><stop offset="0.2014" stop-color="#36c799"/><stop offset="0.2106" stop-color="#20c1b1"/><stop offset="0.2199" stop-color="#02bac3"/><stop offset="0.2245" stop-color="#02b7cb"/><stop offset="0.2384" stop-color="#19addc"/><stop offset="0.2755" stop-color="#2a93ed"/><stop offset="0.3218" stop-color="#317dfc"/><stop offset="0.3819" stop-color="#4368fe"/><stop offset="0.5440" stop-color="#484cef"/><stop offset="0.8542" stop-color="#4639da"/><stop offset="1.0000" stop-color="#4536d4"/></linearGradient><linearGradient id="g88" gradientUnits="userSpaceOnUse" x1="62" x2="278" y1="0" y2="0"><stop offset="0.0000" stop-color="#f9fb15"/><stop offset="0.1644" stop-color="#f9fb15"/><stop offset="0.1690" stop-color="#fad62d"/><stop offset="0.1736" stop-color="#fdbd3d"/><stop offset="0.1782" stop-color="#dfbc2a"/><stop offset="0.1829" stop-color="#bac430"/><stop offset="0.1921" stop-color="#72cd63"/><stop offset="0.1968" stop-color="#55cc7b"/><stop offset="0.2014" stop-color="#3eca8f"/><stop offset="0.2106" stop-color="#29c3aa"/><stop offset="0.2199" stop-color="#0abdbe"/><stop offset="0.2245" stop-color="#01b9c6"/><stop offset="0.2292" stop-color="#04b6cd"/><stop offset="0.2431" stop-color="#1aacdd"/><stop offset="0.2847" stop-color="#2c90f0"/><stop offset="0.3356" stop-color="#3578fd"/><stop offset="0.3912" stop-color="#4367fd"/><stop offset="0.5532" stop-color="#484bef"/><stop offset="0.8588" stop-color="#4639d9"/><stop offset="1.0000" stop-color="#4536d4"/></linearGradient><linearGradient id="g89" gradientUnits="userSpaceOnUse" x1="62" x2="278" y1="0" y2="0"><stop offset="0.0000" stop-color="#f9fb15"/><stop offset="0.1644" stop-color="#f9fb15"/><stop offset="0.1690" stop-color="#f6ef20"/><stop offset="0.1736" stop-color="#fdcb32"/><stop offset="0.1782" stop-color="#f3ba39"/><stop offset="0.1829" stop-color="#d2bf27"/><stop offset="0.1875" stop-color="#adc638"/><stop offset="0.1968" stop-color="#67cd6c"/><stop offset="0.2014" stop-color="#4dcb82"/><stop offset="0.2060" stop-color="#3ac994"/><stop offset="0.2153" stop-color="#25c2ae"/><stop offset="0.2245" stop-color="#06bcc0"/><stop offset="0.2292" stop-color="#01b8c8"/><stop offset="0.2477" stop-color="#1babde"/><stop offset="0.2894" stop-color="#2c8ff0"/><stop offset="0.3403" stop-color="#3678fd"/><stop offset="0.3958" stop-color="#4367fd"/><stop offset="0.5579" stop-color="#484bef"/><stop offset="0.8542" stop-color="#4639da"/><stop offset="1.0000" stop-color="#4536d4"/></linearGradient><linearGradient id="g90" gradientUnits="userSpaceOnUse" x1="62" x2="278" y1="0" y2="0"><stop offset="0.0000" stop-color="#f9fb15"/><stop offset="0.1690" stop-color="#f9fb15"/><stop offset="0.1736" stop-color="#f6e128"/><stop offset="0.1782" stop-color="#fec339"/><stop offset="0.1829" stop-color="#e8bb2f"/><stop offset="0.1875" stop-color="#c6c22a"/><stop offset="0.1968" stop-color="#7dcc5c"/><stop offset="0.2014" stop-color="#5ecc74"/><stop offset="0.2060" stop-color="#45cb89"/><stop offset="0.2106" stop-color="#36c799"/><stop offset="0.2199" stop-color="#20c1b1"/><stop offset="0.2292" stop-color="#02bbc3"/><stop offset="0.2338" stop-color="#01b7ca"/><stop offset="0.2477" stop-color="#18addb"/><stop offset="0.2755" stop-color="#2699e9"/><stop offset="0.3171" stop-color="#2e83f9"/><stop offset="0.3773" stop-color="#406dfe"/><stop offset="0.4977" stop-color="#4854f5"/><stop offset="0.7014" stop-color="#4742e6"/><stop offset="1.0000" stop-color="#4538d8"/></linearGradient><linearGradient id="g91" gradientUnits="userSpaceOnUse" x1="62" x2="278" y1="0" y2="0"><stop offset="0.0000" stop-color="#f9fb15"/><stop offset="0.1736" stop-color="#f9fb15"/><stop offset="0.1782" stop-color="#fbd32e"/><stop offset="0.1829" stop-color="#fbbc3d"/><stop offset="0.1875" stop-color="#ddbd29"/><stop offset="0.1921" stop-color="#bac430"/><stop offset="0.2014" stop-color="#72cd63"/><stop offset="0.2060" stop-color="#56cc7b"/><stop offset="0.2106" stop-color="#3fca8e"/><stop offset="0.2199" stop-color="#29c3a9"/><stop offset="0.2292" stop-color="#0bbdbd"/><stop offset="0.2338" stop-color="#02bac5"/><stop offset="0.2384" stop-color="#03b7cc"/><stop offset="0.2523" stop-color="#19acdc"/><stop offset="0.2940" stop-color="#2b91ef"/><stop offset="0.3449" stop-color="#3479fd"/><stop offset="0.4005" stop-color="#4368fd"/><stop offset="0.5301" stop-color="#4853f5"/><stop offset="0.8218" stop-color="#473fe3"/><stop offset="1.0000" stop-color="#463adb"/></linearGradient><linearGradient id="g92" gradientUnits="userSpaceOnUse" x1="62" x2="278" y1="0" y2="0"><stop offset="0.0000" stop-color="#f9fb15"/><stop offset="0.1736" stop-color="#f9fb15"/><stop offset="0.1782" stop-color="#f5ec22"/><stop offset="0.1829" stop-color="#feca33"/><stop offset="0.1875" stop-color="#f3ba38"/><stop offset="0.1921" stop-color="#d2bf27"/><stop offset="0.1968" stop-color="#aec637"/><stop offset="0.2060" stop-color="#69cd6a"/><stop offset="0.2106" stop-color="#4fcc80"/><stop offset="0.2153" stop-color="#3bc992"/><stop offset="0.2245" stop-color="#27c2ac"/><stop offset="0.2338" stop-color="#08bcbe"/><stop offset="0.2384" stop-color="#01b9c6"/><stop offset="0.2431" stop-color="#04b6cd"/><stop offset="0.2569" stop-color="#1aacdd"/><stop offset="0.2986" stop-color="#2b91ef"/><stop offset="0.3495" stop-color="#347afd"/><stop offset="0.4051" stop-color="#4368fe"/><stop offset="0.5394" stop-color="#4853f5"/><stop offset="0.8403" stop-color="#473fe2"/><stop offset="1.0000" stop-color="#463adc"/></linearGradient><linearGradient id="g93" gradientUnits="userSpaceOnUse" x1="62" x2="278" y1="0" y2="0"><stop offset="0.0000" stop-color="#f9fb15"/><stop offset="0.1782" stop-color="#f9fb15"/><stop offset="0.1829" stop-color="#f6de29"/><stop offset="0.1875" stop-color="#fec239"/><stop offset="0.1921" stop-color="#e8bb2f"/><stop offset="0.1968" stop-color="#c7c12a"/><stop offset="0.2014" stop-color="#a3c83f"/><stop offset="0.2106" stop-color="#61cd71"/><stop offset="0.2153" stop-color="#49cb86"/><stop offset="0.2199" stop-color="#38c896"/><stop offset="0.2292" stop-color="#24c1ae"/><stop offset="0.2384" stop-color="#06bcc0"/><stop offset="0.2431" stop-color="#01b9c8"/><stop offset="0.2616" stop-color="#1aabdd"/><stop offset="0.3032" stop-color="#2b91ef"/><stop offset="0.3542" stop-color="#347afd"/><stop offset="0.4097" stop-color="#4368fe"/><stop offset="0.5486" stop-color="#4853f4"/><stop offset="0.8588" stop-color="#473fe2"/><stop offset="1.0000" stop-color="#463bdc"/></linearGradient><linearGradient id="g94" gradientUnits="userSpaceOnUse" x1="62" x2="278" y1="0" y2="0"><stop offset="0.0000" stop-color="#f9fb15"/><stop offset="0.1782" stop-color="#f9fb15"/><stop offset="0.1829" stop-color="#f8f719"/><stop offset="0.1875" stop-color="#fbd22f"/><stop offset="0.1921" stop-color="#fbbc3d"/><stop offset="0.1968" stop-color="#debd29"/><stop offset="0.2014" stop-color="#bcc42f"/><stop offset="0.2106" stop-color="#77cc60"/><stop offset="0.2153" stop-color="#5acc77"/><stop offset="0.2199" stop-color="#43ca8a"/><stop offset="0.2245" stop-color="#35c79a"/><stop offset="0.2338" stop-color="#21c1b0"/><stop offset="0.2431" stop-color="#04bbc2"/><stop offset="0.2477" stop-color="#01b8c9"/><stop offset="0.2662" stop-color="#1babde"/><stop offset="0.3125" stop-color="#2c8ef1"/><stop offset="0.3634" stop-color="#3578fd"/><stop offset="0.4190" stop-color="#4368fd"/><stop offset="0.5671" stop-color="#4851f3"/><stop offset="0.9005" stop-color="#463ee1"/><stop offset="1.0000" stop-color="#463bdd"/></linearGradient><linearGradient id="g95" gradientUnits="userSpaceOnUse" x1="62" x2="278" y1="0" y2="0"><stop offset="0.0000" stop-color="#f9fb15"/><stop offset="0.1829" stop-color="#f9fb15"/><stop offset="0.1875" stop-color="#f5e924"/><stop offset="0.1921" stop-color="#fec934"/><stop offset="0.1968" stop-color="#f4ba39"/><stop offset="0.2014" stop-color="#d6be28"/><stop offset="0.2060" stop-color="#b5c533"/><stop offset="0.2153" stop-color="#74cc62"/><stop offset="0.2245" stop-color="#44cb8a"/><stop offset="0.2292" stop-color="#36c899"/><stop offset="0.2384" stop-color="#24c1af"/><stop offset="0.2477" stop-color="#07bcc0"/><stop offset="0.2523" stop-color="#01b9c7"/><stop offset="0.2616" stop-color="#0cb3d3"/><stop offset="0.2755" stop-color="#1caadf"/><stop offset="0.3264" stop-color="#2d8cf3"/><stop offset="0.3727" stop-color="#3479fd"/><stop offset="0.4329" stop-color="#4368fe"/><stop offset="0.6088" stop-color="#484ef1"/><stop offset="1.0000" stop-color="#463bdd"/></linearGradient><linearGradient id="g96" gradientUnits="userSpaceOnUse" x1="62" x2="278" y1="0" y2="0"><stop offset="0.0000" stop-color="#f9fb15"/><stop offset="0.1875" stop-color="#f9fb15"/><stop offset="0.1921" stop-color="#f7db2a"/><stop offset="0.1968" stop-color="#fec239"/><stop offset="0.2014" stop-color="#ebba31"/><stop offset="0.2060" stop-color="#ccc028"/><stop offset="0.2106" stop-color="#abc739"/><stop offset="0.2199" stop-color="#6ccd68"/><stop offset="0.2292" stop-color="#3fca8e"/><stop offset="0.2431" stop-color="#21c1b0"/><stop offset="0.2523" stop-color="#05bbc1"/><stop offset="0.2569" stop-color="#01b9c8"/><stop offset="0.2755" stop-color="#19addc"/><stop offset="0.3079" stop-color="#2798ea"/><stop offset="0.3681" stop-color="#317dfc"/><stop offset="0.4375" stop-color="#4368fe"/><stop offset="0.6088" stop-color="#484ff2"/><stop offset="0.9699" stop-color="#463ddf"/><stop offset="1.0000" stop-color="#463cde"/></linearGradient><linearGradient id="g97" gradientUnits="userSpaceOnUse" x1="62" x2="278" y1="0" y2="0"><stop offset="0.0000" stop-color="#f9fb15"/><stop offset="0.1875" stop-color="#f9fb15"/><stop offset="0.1921" stop-color="#f7f41c"/><stop offset="0.1968" stop-color="#fcd030"/><stop offset="0.2014" stop-color="#fcbc3d"/><stop offset="0.2060" stop-color="#e1bc2b"/><stop offset="0.2106" stop-color="#c2c22c"/><stop offset="0.2245" stop-color="#65cd6e"/><stop offset="0.2292" stop-color="#4ecc81"/><stop offset="0.2338" stop-color="#3cc991"/><stop offset="0.2477" stop-color="#1ec0b2"/><stop offset="0.2569" stop-color="#03bbc2"/><stop offset="0.2616" stop-color="#01b8c9"/><stop offset="0.2801" stop-color="#19acdc"/><stop offset="0.3171" stop-color="#2896ec"/><stop offset="0.3727" stop-color="#317dfb"/><stop offset="0.4421" stop-color="#4369fe"/><stop offset="0.6134" stop-color="#4850f2"/><stop offset="0.9699" stop-color="#463de0"/><stop offset="1.0000" stop-color="#463cdf"/></linearGradient><linearGradient id="g98" gradientUnits="userSpaceOnUse" x1="62" x2="278" y1="0" y2="0"><stop offset="0.0000" stop-color="#f9fb15"/><stop offset="0.1921" stop-color="#f9fb15"/><stop offset="0.1968" stop-color="#f5e626"/><stop offset="0.2014" stop-color="#fec834"/><stop offset="0.2060" stop-color="#f4ba39"/><stop offset="0.2106" stop-color="#d8be28"/><stop offset="0.2153" stop-color="#b8c431"/><stop offset="0.2245" stop-color="#79cc5e"/><stop offset="0.2338" stop-color="#48cb86"/><stop offset="0.2384" stop-color="#39c895"/><stop offset="0.2523" stop-color="#1bc0b4"/><stop offset="0.2616" stop-color="#02bac3"/><stop offset="0.2662" stop-color="#01b8ca"/><stop offset="0.2847" stop-color="#1aacdd"/><stop offset="0.3310" stop-color="#2b91ef"/><stop offset="0.3866" stop-color="#337afd"/><stop offset="0.4514" stop-color="#4368fe"/><stop offset="0.6273" stop-color="#4850f2"/><stop offset="0.9931" stop-color="#463ddf"/><stop offset="1.0000" stop-color="#463ddf"/></linearGradient><linearGradient id="g99" gradientUnits="userSpaceOnUse" x1="62" x2="278" y1="0" y2="0"><stop offset="0.0000" stop-color="#f9fb15"/><stop offset="0.1968" stop-color="#f9fb15"/><stop offset="0.2014" stop-color="#f8d92c"/><stop offset="0.2060" stop-color="#fec239"/><stop offset="0.2106" stop-color="#ecba32"/><stop offset="0.2153" stop-color="#cfc028"/><stop offset="0.2199" stop-color="#b0c636"/><stop offset="0.2292" stop-color="#73cd62"/><stop offset="0.2384" stop-color="#46cb88"/><stop offset="0.2431" stop-color="#38c896"/><stop offset="0.2523" stop-color="#27c2ac"/><stop offset="0.2662" stop-color="#02bbc3"/><stop offset="0.2708" stop-color="#01b8ca"/><stop offset="0.2894" stop-color="#19acdc"/><stop offset="0.3310" stop-color="#2994ed"/><stop offset="0.3912" stop-color="#327cfc"/><stop offset="0.4606" stop-color="#4368fe"/><stop offset="0.6319" stop-color="#4851f3"/><stop offset="0.9606" stop-color="#473ee1"/><stop offset="1.0000" stop-color="#463de0"/></linearGradient><linearGradient id="g100" gradientUnits="userSpaceOnUse" x1="62" x2="278" y1="0" y2="0"><stop offset="0.0000" stop-color="#f9fb15"/><stop offset="0.1968" stop-color="#f9fb15"/><stop offset="0.2014" stop-color="#f6f11f"/><stop offset="0.2060" stop-color="#fccf30"/><stop offset="0.2106" stop-color="#fcbc3d"/><stop offset="0.2153" stop-color="#e4bb2c"/><stop offset="0.2199" stop-color="#c7c12a"/><stop offset="0.2245" stop-color="#a8c73b"/><stop offset="0.2338" stop-color="#6ecd67"/><stop offset="0.2431" stop-color="#43ca8a"/><stop offset="0.2523" stop-color="#2fc5a3"/><stop offset="0.2616" stop-color="#1ac0b5"/><stop offset="0.2708" stop-color="#02bbc3"/><stop offset="0.2755" stop-color="#01b8c9"/><stop offset="0.2940" stop-color="#19addc"/><stop offset="0.3310" stop-color="#2797ea"/><stop offset="0.3912" stop-color="#307efb"/><stop offset="0.4699" stop-color="#4368fe"/><stop offset="0.6597" stop-color="#484ff2"/><stop offset="1.0000" stop-color="#463de0"/></linearGradient><linearGradient id="g101" gradientUnits="userSpaceOnUse" x1="62" x2="278" y1="0" y2="0"><stop offset="0.0000" stop-color="#f9fb15"/><stop offset="0.2014" stop-color="#f9fb15"/><stop offset="0.2060" stop-color="#f5e327"/><stop offset="0.2106" stop-color="#fec835"/><stop offset="0.2153" stop-color="#f5ba3a"/><stop offset="0.2199" stop-color="#dbbd28"/><stop offset="0.2245" stop-color="#bdc32e"/><stop offset="0.2384" stop-color="#67cd6c"/><stop offset="0.2477" stop-color="#3fca8e"/><stop offset="0.2616" stop-color="#24c1ae"/><stop offset="0.2708" stop-color="#09bdbe"/><stop offset="0.2755" stop-color="#02bac4"/><stop offset="0.2801" stop-color="#01b7ca"/><stop offset="0.2986" stop-color="#19acdc"/><stop offset="0.3449" stop-color="#2a93ee"/><stop offset="0.4051" stop-color="#327bfc"/><stop offset="0.4745" stop-color="#4369fe"/><stop offset="0.6690" stop-color="#484ef1"/><stop offset="1.0000" stop-color="#463ee1"/></linearGradient><linearGradient id="g102" gradientUnits="userSpaceOnUse" x1="62" x2="278" y1="0" y2="0"><stop offset="0.0000" stop-color="#f9fb15"/><stop offset="0.2060" stop-color="#f9fb15"/><stop offset="0.2106" stop-color="#f9d72d"/><stop offset="0.2153" stop-color="#fec13a"/><stop offset="0.2199" stop-color="#edba33"/><stop offset="0.2245" stop-color="#d1bf27"/><stop offset="0.2292" stop-color="#b4c534"/><stop offset="0.2384" stop-color="#7acc5e"/><stop offset="0.2477" stop-color="#4ccb83"/><stop offset="0.2523" stop-color="#3cc991"/><stop offset="0.2662" stop-color="#21c1b0"/><stop offset="0.2755" stop-color="#08bcbf"/><stop offset="0.2801" stop-color="#01bac6"/><stop offset="0.2894" stop-color="#09b4d1"/><stop offset="0.3032" stop-color="#1aacdd"/><stop offset="0.3495" stop-color="#2a93ee"/><stop offset="0.4097" stop-color="#327cfc"/><stop offset="0.4792" stop-color="#4269fe"/><stop offset="0.6782" stop-color="#484ef1"/><stop offset="1.0000" stop-color="#463ee1"/></linearGradient><linearGradient id="g103" gradientUnits="userSpaceOnUse" x1="62" x2="278" y1="0" y2="0"><stop offset="0.0000" stop-color="#f9fb15"/><stop offset="0.2060" stop-color="#f9fb15"/><stop offset="0.2106" stop-color="#f5ee21"/><stop offset="0.2153" stop-color="#fdce31"/><stop offset="0.2199" stop-color="#fcbd3d"/><stop offset="0.2245" stop-color="#e6bb2d"/><stop offset="0.2292" stop-color="#ccc028"/><stop offset="0.2338" stop-color="#b0c636"/><stop offset="0.2431" stop-color="#78cc5f"/><stop offset="0.2523" stop-color="#4dcb82"/><stop offset="0.2569" stop-color="#3dc990"/><stop offset="0.2708" stop-color="#24c1ae"/><stop offset="0.2801" stop-color="#0bbdbd"/><stop offset="0.2847" stop-color="#02bbc3"/><stop offset="0.2894" stop-color="#01b8c9"/><stop offset="0.3079" stop-color="#18aedb"/><stop offset="0.3449" stop-color="#269ae9"/><stop offset="0.4005" stop-color="#2e83f9"/><stop offset="0.4792" stop-color="#406cfe"/><stop offset="0.6412" stop-color="#4853f5"/><stop offset="0.9236" stop-color="#4741e5"/><stop offset="1.0000" stop-color="#473ee1"/></linearGradient><linearGradient id="g104" gradientUnits="userSpaceOnUse" x1="62" x2="278" y1="0" y2="0"><stop offset="0.0000" stop-color="#f9fb15"/><stop offset="0.2106" stop-color="#f9fb15"/><stop offset="0.2153" stop-color="#f6e128"/><stop offset="0.2199" stop-color="#fec835"/><stop offset="0.2245" stop-color="#f7ba3c"/><stop offset="0.2292" stop-color="#debc2a"/><stop offset="0.2338" stop-color="#c4c22b"/><stop offset="0.2477" stop-color="#72cd63"/><stop offset="0.2569" stop-color="#49cb85"/><stop offset="0.2616" stop-color="#3bc992"/><stop offset="0.2755" stop-color="#23c1af"/><stop offset="0.2847" stop-color="#0abdbd"/><stop offset="0.2894" stop-color="#02bac4"/><stop offset="0.2940" stop-color="#01b8c9"/><stop offset="0.3125" stop-color="#18aedb"/><stop offset="0.3495" stop-color="#269ae9"/><stop offset="0.4051" stop-color="#2e83f9"/><stop offset="0.4838" stop-color="#406dfe"/><stop offset="0.6366" stop-color="#4854f6"/><stop offset="0.8588" stop-color="#4744e8"/><stop offset="1.0000" stop-color="#473ee1"/></linearGradient><linearGradient id="g105" gradientUnits="userSpaceOnUse" x1="62" x2="278" y1="0" y2="0"><stop offset="0.0000" stop-color="#f9fb15"/><stop offset="0.2106" stop-color="#f9fb15"/><stop offset="0.2153" stop-color="#f7f61a"/><stop offset="0.2199" stop-color="#fbd32e"/><stop offset="0.2245" stop-color="#fec13a"/><stop offset="0.2292" stop-color="#eeba34"/><stop offset="0.2338" stop-color="#d5be28"/><stop offset="0.2384" stop-color="#bbc430"/><stop offset="0.2523" stop-color="#6ccd69"/><stop offset="0.2616" stop-color="#45cb89"/><stop offset="0.2708" stop-color="#31c6a0"/><stop offset="0.2801" stop-color="#21c1b0"/><stop offset="0.2894" stop-color="#09bcbe"/><stop offset="0.2940" stop-color="#02bac4"/><stop offset="0.2986" stop-color="#01b8ca"/><stop offset="0.3171" stop-color="#18aedb"/><stop offset="0.3542" stop-color="#269ae8"/><stop offset="0.4144" stop-color="#2f83f9"/><stop offset="0.4977" stop-color="#416cfe"/><stop offset="0.6829" stop-color="#484ff2"/><stop offset="1.0000" stop-color="#473ee2"/></linearGradient><linearGradient id="g106" gradientUnits="userSpaceOnUse" x1="62" x2="278" y1="0" y2="0"><stop offset="0.0000" stop-color="#f9fb15"/><stop offset="0.2153" stop-color="#f9fb15"/><stop offset="0.2199" stop-color="#f5e526"/><stop offset="0.2245" stop-color="#fdca33"/><stop offset="0.2292" stop-color="#fabb3d"/><stop offset="0.2338" stop-color="#e4bb2c"/><stop offset="0.2384" stop-color="#cbc129"/><stop offset="0.2431" stop-color="#b0c636"/><stop offset="0.2569" stop-color="#64cd6e"/><stop offset="0.2662" stop-color="#41ca8c"/><stop offset="0.2801" stop-color="#28c3aa"/><stop offset="0.2940" stop-color="#07bcbf"/><stop offset="0.2986" stop-color="#01bac5"/><stop offset="0.3032" stop-color="#02b7ca"/><stop offset="0.3218" stop-color="#18aedb"/><stop offset="0.3634" stop-color="#2798ea"/><stop offset="0.4375" stop-color="#317dfc"/><stop offset="0.5208" stop-color="#4369fe"/><stop offset="0.7523" stop-color="#484cf0"/><stop offset="1.0000" stop-color="#473fe3"/></linearGradient><linearGradient id="g107" gradientUnits="userSpaceOnUse" x1="62" x2="278" y1="0" y2="0"><stop offset="0.0000" stop-color="#422fc0"/><stop offset="0.0440" stop-color="#4740e4"/><stop offset="0.1042" stop-color="#465dfa"/><stop offset="0.1458" stop-color="#3b72fe"/><stop offset="0.1782" stop-color="#2e86f7"/><stop offset="0.1968" stop-color="#2b92ee"/><stop offset="0.2245" stop-color="#2a92ee"/><stop offset="0.2338" stop-color="#22a1e4"/><stop offset="0.2940" stop-color="#22a2e4"/><stop offset="0.2986" stop-color="#19acdc"/><stop offset="0.3032" stop-color="#07b5d0"/><stop offset="0.3079" stop-color="#01b8ca"/><stop offset="0.3727" stop-color="#01b8c9"/><stop offset="0.3773" stop-color="#01b9c7"/><stop offset="0.3819" stop-color="#12beb9"/><stop offset="0.3866" stop-color="#2ac3a9"/><stop offset="0.3912" stop-color="#37c897"/><stop offset="0.3958" stop-color="#3dc990"/><stop offset="0.4421" stop-color="#46cb88"/><stop offset="0.4653" stop-color="#46cb88"/><stop offset="0.4745" stop-color="#5acc78"/><stop offset="0.4838" stop-color="#74cd62"/><stop offset="0.5162" stop-color="#6dcd67"/><stop offset="0.5486" stop-color="#67cd6c"/><stop offset="0.5764" stop-color="#68cd6b"/><stop offset="0.5810" stop-color="#70cd65"/><stop offset="0.5856" stop-color="#d3bf27"/><stop offset="0.5903" stop-color="#fec438"/><stop offset="0.5949" stop-color="#fec934"/><stop offset="0.6042" stop-color="#f5e228"/><stop offset="0.6134" stop-color="#f9fb15"/><stop offset="0.8171" stop-color="#f8f917"/><stop offset="0.9190" stop-color="#f6f21e"/><stop offset="1.0000" stop-color="#f7f41c"/></linearGradient><linearGradient id="g108" gradientUnits="userSpaceOnUse" x1="62" x2="278" y1="0" y2="0"><stop offset="0.0000" stop-color="#422ec0"/><stop offset="0.0440" stop-color="#4740e3"/><stop offset="0.0995" stop-color="#475af9"/><stop offset="0.1412" stop-color="#3f6fff"/><stop offset="0.1736" stop-color="#2f82fa"/><stop offset="0.1968" stop-color="#2b92ee"/><stop offset="0.2245" stop-color="#2a92ee"/><stop offset="0.2384" stop-color="#22a2e4"/><stop offset="0.2940" stop-color="#22a2e4"/><stop offset="0.2986" stop-color="#1da8e0"/><stop offset="0.3079" stop-color="#01b8ca"/><stop offset="0.3727" stop-color="#01b8c9"/><stop offset="0.3773" stop-color="#01b9c7"/><stop offset="0.3819" stop-color="#0bbdbd"/><stop offset="0.3866" stop-color="#25c2ad"/><stop offset="0.3912" stop-color="#34c79c"/><stop offset="0.3958" stop-color="#3dc991"/><stop offset="0.4421" stop-color="#45cb88"/><stop offset="0.4653" stop-color="#46cb88"/><stop offset="0.4745" stop-color="#5acc78"/><stop offset="0.4838" stop-color="#73cd62"/><stop offset="0.5162" stop-color="#6dcd67"/><stop offset="0.5486" stop-color="#67cd6c"/><stop offset="0.5764" stop-color="#68cd6b"/><stop offset="0.5810" stop-color="#6ccd69"/><stop offset="0.5856" stop-color="#aac739"/><stop offset="0.5903" stop-color="#e4bb2c"/><stop offset="0.5949" stop-color="#fec139"/><stop offset="0.6088" stop-color="#f5eb23"/><stop offset="0.6134" stop-color="#f8f818"/><stop offset="0.6458" stop-color="#f9fb15"/><stop offset="0.8171" stop-color="#f8f817"/><stop offset="0.9190" stop-color="#f6f11e"/><stop offset="1.0000" stop-color="#f7f31d"/></linearGradient><linearGradient id="g109" gradientUnits="userSpaceOnUse" x1="62" x2="278" y1="0" y2="0"><stop offset="0.0000" stop-color="#422ebf"/><stop offset="0.0440" stop-color="#473fe3"/><stop offset="0.0995" stop-color="#475af9"/><stop offset="0.1458" stop-color="#3d70ff"/><stop offset="0.1782" stop-color="#2e84f8"/><stop offset="0.2014" stop-color="#2b92ee"/><stop offset="0.2292" stop-color="#2995ec"/><stop offset="0.2384" stop-color="#22a2e4"/><stop offset="0.2986" stop-color="#20a4e3"/><stop offset="0.3032" stop-color="#17aedb"/><stop offset="0.3079" stop-color="#04b6cd"/><stop offset="0.3218" stop-color="#01b8ca"/><stop offset="0.3773" stop-color="#01b9c7"/><stop offset="0.3819" stop-color="#06bcc0"/><stop offset="0.3866" stop-color="#20c1b1"/><stop offset="0.3912" stop-color="#31c6a0"/><stop offset="0.3958" stop-color="#3cc992"/><stop offset="0.4421" stop-color="#45cb89"/><stop offset="0.4653" stop-color="#45cb88"/><stop offset="0.4699" stop-color="#4dcc82"/><stop offset="0.4838" stop-color="#73cd63"/><stop offset="0.5162" stop-color="#6dcd67"/><stop offset="0.5486" stop-color="#67cd6c"/><stop offset="0.5810" stop-color="#68cd6b"/><stop offset="0.5856" stop-color="#97ca48"/><stop offset="0.5903" stop-color="#c5c22a"/><stop offset="0.5949" stop-color="#ebba31"/><stop offset="0.5995" stop-color="#fec934"/><stop offset="0.6088" stop-color="#f5e725"/><stop offset="0.6134" stop-color="#f7f41c"/><stop offset="0.6412" stop-color="#f9fb15"/><stop offset="0.8125" stop-color="#f8f917"/><stop offset="0.9190" stop-color="#f6f11e"/><stop offset="1.0000" stop-color="#f7f31d"/></linearGradient><linearGradient id="g110" gradientUnits="userSpaceOnUse" x1="62" x2="278" y1="0" y2="0"><stop offset="0.0000" stop-color="#412ebe"/><stop offset="0.0440" stop-color="#473fe2"/><stop offset="0.0995" stop-color="#4759f8"/><stop offset="0.1458" stop-color="#3e6fff"/><stop offset="0.1782" stop-color="#2e83f9"/><stop offset="0.2014" stop-color="#2b92ee"/><stop offset="0.2292" stop-color="#2a92ee"/><stop offset="0.2384" stop-color="#22a1e4"/><stop offset="0.2986" stop-color="#22a2e4"/><stop offset="0.3032" stop-color="#1caadf"/><stop offset="0.3125" stop-color="#01b8ca"/><stop offset="0.3773" stop-color="#01b9c7"/><stop offset="0.3819" stop-color="#02bac3"/><stop offset="0.3912" stop-color="#2ec4a4"/><stop offset="0.3958" stop-color="#38c897"/><stop offset="0.4051" stop-color="#3eca8f"/><stop offset="0.4468" stop-color="#45cb89"/><stop offset="0.4653" stop-color="#45cb89"/><stop offset="0.4699" stop-color="#4ccb82"/><stop offset="0.4838" stop-color="#73cd63"/><stop offset="0.5162" stop-color="#6dcd68"/><stop offset="0.5486" stop-color="#67cd6c"/><stop offset="0.5810" stop-color="#68cd6b"/><stop offset="0.5903" stop-color="#9ec942"/><stop offset="0.5949" stop-color="#b6c532"/><stop offset="0.5995" stop-color="#dbbd29"/><stop offset="0.6042" stop-color="#fabb3d"/><stop offset="0.6088" stop-color="#fccf30"/><stop offset="0.6134" stop-color="#f5e725"/><stop offset="0.6690" stop-color="#f9fb15"/><stop offset="0.8264" stop-color="#f8f61a"/><stop offset="0.9190" stop-color="#f6f01f"/><stop offset="1.0000" stop-color="#f6f21d"/></linearGradient><linearGradient id="g111" gradientUnits="userSpaceOnUse" x1="62" x2="278" y1="0" y2="0"><stop offset="0.0000" stop-color="#412dbd"/><stop offset="0.0440" stop-color="#473ee1"/><stop offset="0.0995" stop-color="#4758f8"/><stop offset="0.1458" stop-color="#3f6fff"/><stop offset="0.1782" stop-color="#2f82fa"/><stop offset="0.2014" stop-color="#2b92ee"/><stop offset="0.2292" stop-color="#2a92ee"/><stop offset="0.2431" stop-color="#22a2e4"/><stop offset="0.2986" stop-color="#22a2e4"/><stop offset="0.3032" stop-color="#1fa6e2"/><stop offset="0.3079" stop-color="#15afd9"/><stop offset="0.3125" stop-color="#02b7cb"/><stop offset="0.3773" stop-color="#01b9c7"/><stop offset="0.3819" stop-color="#02bac3"/><stop offset="0.3866" stop-color="#13beb9"/><stop offset="0.3912" stop-color="#2ac3a9"/><stop offset="0.4005" stop-color="#3cc991"/><stop offset="0.4468" stop-color="#44cb8a"/><stop offset="0.4653" stop-color="#45cb89"/><stop offset="0.4699" stop-color="#4ccb83"/><stop offset="0.4838" stop-color="#73cd63"/><stop offset="0.5162" stop-color="#6dcd68"/><stop offset="0.5486" stop-color="#67cd6d"/><stop offset="0.5810" stop-color="#68cd6b"/><stop offset="0.5949" stop-color="#b1c635"/><stop offset="0.5995" stop-color="#d6be28"/><stop offset="0.6042" stop-color="#f6ba3b"/><stop offset="0.6088" stop-color="#fdcb33"/><stop offset="0.6134" stop-color="#f5e228"/><stop offset="0.6181" stop-color="#f5e924"/><stop offset="0.6736" stop-color="#f9fb15"/><stop offset="0.8310" stop-color="#f7f61a"/><stop offset="0.9236" stop-color="#f6f01f"/><stop offset="1.0000" stop-color="#f6f21e"/></linearGradient><linearGradient id="g112" gradientUnits="userSpaceOnUse" x1="62" x2="278" y1="0" y2="0"><stop offset="0.0000" stop-color="#412dbc"/><stop offset="0.0440" stop-color="#463ee1"/><stop offset="0.0995" stop-color="#4758f8"/><stop offset="0.1458" stop-color="#3f6efe"/><stop offset="0.1829" stop-color="#2e84f8"/><stop offset="0.2060" stop-color="#2b92ee"/><stop offset="0.2292" stop-color="#2b92ee"/><stop offset="0.2431" stop-color="#22a2e4"/><stop offset="0.3032" stop-color="#22a2e4"/><stop offset="0.3079" stop-color="#1aacdd"/><stop offset="0.3125" stop-color="#09b4d1"/><stop offset="0.3171" stop-color="#01b8ca"/><stop offset="0.3773" stop-color="#01b9c7"/><stop offset="0.3819" stop-color="#02bac4"/><stop offset="0.3866" stop-color="#0bbdbc"/><stop offset="0.3912" stop-color="#26c2ad"/><stop offset="0.4005" stop-color="#3cc991"/><stop offset="0.4468" stop-color="#44ca8a"/><stop offset="0.4653" stop-color="#44cb8a"/><stop offset="0.4699" stop-color="#4bcb83"/><stop offset="0.4838" stop-color="#72cd63"/><stop offset="0.5162" stop-color="#6ccd68"/><stop offset="0.5486" stop-color="#67cd6d"/><stop offset="0.5810" stop-color="#68cd6b"/><stop offset="0.5949" stop-color="#acc738"/><stop offset="0.5995" stop-color="#d1bf27"/><stop offset="0.6042" stop-color="#f1ba37"/><stop offset="0.6088" stop-color="#fec736"/><stop offset="0.6134" stop-color="#f7dd2a"/><stop offset="0.6181" stop-color="#f5e825"/><stop offset="0.6782" stop-color="#f9fb15"/><stop offset="0.8356" stop-color="#f7f51b"/><stop offset="0.9236" stop-color="#f6f01f"/><stop offset="1.0000" stop-color="#f6f21e"/></linearGradient><linearGradient id="g113" gradientUnits="userSpaceOnUse" x1="62" x2="278" y1="0" y2="0"><stop offset="0.0000" stop-color="#412dbc"/><stop offset="0.0440" stop-color="#463de0"/><stop offset="0.0995" stop-color="#4757f7"/><stop offset="0.1505" stop-color="#3e6fff"/><stop offset="0.1829" stop-color="#2e83f9"/><stop offset="0.2060" stop-color="#2b92ef"/><stop offset="0.2338" stop-color="#2a93ee"/><stop offset="0.2431" stop-color="#22a2e4"/><stop offset="0.3032" stop-color="#22a1e4"/><stop offset="0.3079" stop-color="#1ea8e1"/><stop offset="0.3125" stop-color="#13b1d7"/><stop offset="0.3171" stop-color="#01b7ca"/><stop offset="0.3773" stop-color="#01b9c7"/><stop offset="0.3866" stop-color="#06bcc0"/><stop offset="0.3912" stop-color="#21c1b1"/><stop offset="0.4005" stop-color="#38c896"/><stop offset="0.4097" stop-color="#3dca90"/><stop offset="0.4560" stop-color="#43ca8a"/><stop offset="0.4653" stop-color="#44ca8a"/><stop offset="0.4699" stop-color="#4bcb84"/><stop offset="0.4838" stop-color="#72cd63"/><stop offset="0.5162" stop-color="#6ccd68"/><stop offset="0.5486" stop-color="#66cd6d"/><stop offset="0.5810" stop-color="#68cd6c"/><stop offset="0.5949" stop-color="#a4c83e"/><stop offset="0.5995" stop-color="#c8c129"/><stop offset="0.6042" stop-color="#e9bb2f"/><stop offset="0.6088" stop-color="#fec03a"/><stop offset="0.6134" stop-color="#fad42e"/><stop offset="0.6227" stop-color="#f5e725"/><stop offset="0.6875" stop-color="#f9fb15"/><stop offset="0.8542" stop-color="#f7f31d"/><stop offset="0.9375" stop-color="#f6f01f"/><stop offset="1.0000" stop-color="#f6f21e"/></linearGradient><linearGradient id="g114" gradientUnits="userSpaceOnUse" x1="62" x2="278" y1="0" y2="0"><stop offset="0.0000" stop-color="#412dbb"/><stop offset="0.0486" stop-color="#473fe2"/><stop offset="0.1088" stop-color="#475af9"/><stop offset="0.1551" stop-color="#3c71ff"/><stop offset="0.1875" stop-color="#2e85f8"/><stop offset="0.2106" stop-color="#2b92ef"/><stop offset="0.2338" stop-color="#2b92ee"/><stop offset="0.2431" stop-color="#239fe5"/><stop offset="0.3079" stop-color="#21a4e3"/><stop offset="0.3125" stop-color="#19addc"/><stop offset="0.3171" stop-color="#06b5ce"/><stop offset="0.3264" stop-color="#01b7ca"/><stop offset="0.3773" stop-color="#01b9c7"/><stop offset="0.3866" stop-color="#06bcc0"/><stop offset="0.3958" stop-color="#2bc3a8"/><stop offset="0.4051" stop-color="#3cc991"/><stop offset="0.4514" stop-color="#43ca8b"/><stop offset="0.4653" stop-color="#43ca8a"/><stop offset="0.4699" stop-color="#4acb84"/><stop offset="0.4838" stop-color="#72cd64"/><stop offset="0.5162" stop-color="#6ccd68"/><stop offset="0.5486" stop-color="#66cd6d"/><stop offset="0.5810" stop-color="#68cd6c"/><stop offset="0.5949" stop-color="#97ca47"/><stop offset="0.5995" stop-color="#b7c532"/><stop offset="0.6042" stop-color="#d7be28"/><stop offset="0.6088" stop-color="#f1ba37"/><stop offset="0.6134" stop-color="#fec438"/><stop offset="0.6319" stop-color="#f5e227"/><stop offset="0.6551" stop-color="#f5ea24"/><stop offset="0.7106" stop-color="#f8f818"/><stop offset="0.8773" stop-color="#f6f01f"/><stop offset="1.0000" stop-color="#f6f11e"/></linearGradient><linearGradient id="g115" gradientUnits="userSpaceOnUse" x1="62" x2="278" y1="0" y2="0"><stop offset="0.0000" stop-color="#412cba"/><stop offset="0.0486" stop-color="#473ee1"/><stop offset="0.1088" stop-color="#475af9"/><stop offset="0.1551" stop-color="#3d70ff"/><stop offset="0.1875" stop-color="#2e84f8"/><stop offset="0.2106" stop-color="#2b92ef"/><stop offset="0.2338" stop-color="#2b92ee"/><stop offset="0.2477" stop-color="#22a2e4"/><stop offset="0.3079" stop-color="#22a1e4"/><stop offset="0.3125" stop-color="#1da8e0"/><stop offset="0.3218" stop-color="#02b7cb"/><stop offset="0.3773" stop-color="#01b9c7"/><stop offset="0.3866" stop-color="#06bcc0"/><stop offset="0.3912" stop-color="#0fbebb"/><stop offset="0.3958" stop-color="#24c1ae"/><stop offset="0.4051" stop-color="#3ac993"/><stop offset="0.4421" stop-color="#42ca8c"/><stop offset="0.4653" stop-color="#42ca8b"/><stop offset="0.4699" stop-color="#49cb85"/><stop offset="0.4838" stop-color="#71cd64"/><stop offset="0.5208" stop-color="#6acd6a"/><stop offset="0.5532" stop-color="#66cd6d"/><stop offset="0.5856" stop-color="#68cd6c"/><stop offset="0.5903" stop-color="#80cc59"/><stop offset="0.5949" stop-color="#90ca4d"/><stop offset="0.5995" stop-color="#b0c636"/><stop offset="0.6042" stop-color="#d1bf27"/><stop offset="0.6088" stop-color="#edba33"/><stop offset="0.6134" stop-color="#fec03a"/><stop offset="0.6366" stop-color="#f5e526"/><stop offset="0.6968" stop-color="#f7f61a"/><stop offset="0.7847" stop-color="#f7f61a"/><stop offset="0.9282" stop-color="#f6f020"/><stop offset="1.0000" stop-color="#f6f11e"/></linearGradient><linearGradient id="g116" gradientUnits="userSpaceOnUse" x1="62" x2="278" y1="0" y2="0"><stop offset="0.0000" stop-color="#412cb9"/><stop offset="0.0486" stop-color="#463ee1"/><stop offset="0.1088" stop-color="#4759f8"/><stop offset="0.1551" stop-color="#3e6fff"/><stop offset="0.1875" stop-color="#2e83f9"/><stop offset="0.2106" stop-color="#2b91ef"/><stop offset="0.2384" stop-color="#2b92ee"/><stop offset="0.2477" stop-color="#23a0e5"/><stop offset="0.3125" stop-color="#22a2e4"/><stop offset="0.3171" stop-color="#1aabdd"/><stop offset="0.3218" stop-color="#0ab4d2"/><stop offset="0.3264" stop-color="#02b7cb"/><stop offset="0.3773" stop-color="#01b9c8"/><stop offset="0.3866" stop-color="#06bcc0"/><stop offset="0.3912" stop-color="#0bbdbd"/><stop offset="0.3958" stop-color="#18bfb6"/><stop offset="0.4005" stop-color="#29c3aa"/><stop offset="0.4097" stop-color="#3cc992"/><stop offset="0.4606" stop-color="#41ca8c"/><stop offset="0.4653" stop-color="#41ca8c"/><stop offset="0.4699" stop-color="#48cb86"/><stop offset="0.4838" stop-color="#71cd65"/><stop offset="0.5255" stop-color="#69cd6b"/><stop offset="0.5579" stop-color="#66cd6d"/><stop offset="0.5856" stop-color="#67cd6c"/><stop offset="0.5949" stop-color="#8acb52"/><stop offset="0.5995" stop-color="#aac73a"/><stop offset="0.6042" stop-color="#cbc129"/><stop offset="0.6088" stop-color="#e8bb2f"/><stop offset="0.6134" stop-color="#febd3c"/><stop offset="0.6273" stop-color="#fbd32e"/><stop offset="0.6366" stop-color="#f5e327"/><stop offset="0.7106" stop-color="#f8f818"/><stop offset="0.8819" stop-color="#f6f020"/><stop offset="1.0000" stop-color="#f6f11e"/></linearGradient><linearGradient id="g117" gradientUnits="userSpaceOnUse" x1="62" x2="278" y1="0" y2="0"><stop offset="0.0000" stop-color="#412cb9"/><stop offset="0.0486" stop-color="#463de0"/><stop offset="0.1088" stop-color="#4758f8"/><stop offset="0.1551" stop-color="#3f6eff"/><stop offset="0.1921" stop-color="#2e85f8"/><stop offset="0.2153" stop-color="#2b91ef"/><stop offset="0.2431" stop-color="#2995ec"/><stop offset="0.2523" stop-color="#22a2e4"/><stop offset="0.3125" stop-color="#22a1e4"/><stop offset="0.3171" stop-color="#20a5e2"/><stop offset="0.3218" stop-color="#17aeda"/><stop offset="0.3264" stop-color="#04b6cd"/><stop offset="0.3773" stop-color="#01b9c8"/><stop offset="0.3866" stop-color="#06bbc1"/><stop offset="0.3958" stop-color="#0bbdbc"/><stop offset="0.4005" stop-color="#20c1b1"/><stop offset="0.4097" stop-color="#37c897"/><stop offset="0.4190" stop-color="#3dc991"/><stop offset="0.4653" stop-color="#40ca8d"/><stop offset="0.4699" stop-color="#47cb87"/><stop offset="0.4838" stop-color="#70cd65"/><stop offset="0.5023" stop-color="#6ecd67"/><stop offset="0.5486" stop-color="#65cd6e"/><stop offset="0.5856" stop-color="#67cd6d"/><stop offset="0.5903" stop-color="#6fcd66"/><stop offset="0.5949" stop-color="#83cc57"/><stop offset="0.6042" stop-color="#c5c22a"/><stop offset="0.6088" stop-color="#e3bc2c"/><stop offset="0.6134" stop-color="#fabc3d"/><stop offset="0.6227" stop-color="#fec834"/><stop offset="0.6412" stop-color="#f5e526"/><stop offset="0.7153" stop-color="#f8f718"/><stop offset="0.8866" stop-color="#f6ef20"/><stop offset="1.0000" stop-color="#f6f11f"/></linearGradient><linearGradient id="g118" gradientUnits="userSpaceOnUse" x1="62" x2="278" y1="0" y2="0"><stop offset="0.0000" stop-color="#402bb8"/><stop offset="0.0486" stop-color="#463ddf"/><stop offset="0.1088" stop-color="#4758f8"/><stop offset="0.1597" stop-color="#3d70ff"/><stop offset="0.1921" stop-color="#2e83f9"/><stop offset="0.2153" stop-color="#2b91ef"/><stop offset="0.2431" stop-color="#2b92ee"/><stop offset="0.2569" stop-color="#22a2e4"/><stop offset="0.3171" stop-color="#23a1e4"/><stop offset="0.3218" stop-color="#1da8e0"/><stop offset="0.3264" stop-color="#13b0d7"/><stop offset="0.3310" stop-color="#02b7cb"/><stop offset="0.3773" stop-color="#01b8c8"/><stop offset="0.3866" stop-color="#05bbc1"/><stop offset="0.3958" stop-color="#0bbdbd"/><stop offset="0.4005" stop-color="#13beb9"/><stop offset="0.4051" stop-color="#26c2ac"/><stop offset="0.4144" stop-color="#3bc993"/><stop offset="0.4653" stop-color="#3fca8e"/><stop offset="0.4699" stop-color="#46cb87"/><stop offset="0.4838" stop-color="#6ecd66"/><stop offset="0.4931" stop-color="#70cd65"/><stop offset="0.5486" stop-color="#64cd6f"/><stop offset="0.5903" stop-color="#66cd6d"/><stop offset="0.5949" stop-color="#7ccc5c"/><stop offset="0.6042" stop-color="#bfc32e"/><stop offset="0.6088" stop-color="#debd29"/><stop offset="0.6134" stop-color="#f7ba3c"/><stop offset="0.6181" stop-color="#febe3c"/><stop offset="0.6319" stop-color="#fad42e"/><stop offset="0.6412" stop-color="#f5e327"/><stop offset="0.7153" stop-color="#f8f719"/><stop offset="0.8866" stop-color="#f6ef20"/><stop offset="1.0000" stop-color="#f6f11f"/></linearGradient><linearGradient id="g119" gradientUnits="userSpaceOnUse" x1="62" x2="278" y1="0" y2="0"><stop offset="0.0000" stop-color="#402bb7"/><stop offset="0.0532" stop-color="#463ee1"/><stop offset="0.1134" stop-color="#4759f8"/><stop offset="0.1597" stop-color="#3e6fff"/><stop offset="0.1968" stop-color="#2e85f8"/><stop offset="0.2199" stop-color="#2b91ef"/><stop offset="0.2477" stop-color="#2a92ee"/><stop offset="0.2569" stop-color="#23a1e4"/><stop offset="0.3218" stop-color="#22a1e4"/><stop offset="0.3264" stop-color="#1babde"/><stop offset="0.3310" stop-color="#0cb3d3"/><stop offset="0.3356" stop-color="#02b7cb"/><stop offset="0.3773" stop-color="#01b8c8"/><stop offset="0.3866" stop-color="#05bbc1"/><stop offset="0.3958" stop-color="#0bbdbd"/><stop offset="0.4005" stop-color="#0bbdbd"/><stop offset="0.4097" stop-color="#2bc3a8"/><stop offset="0.4144" stop-color="#35c79a"/><stop offset="0.4190" stop-color="#3bc992"/><stop offset="0.4653" stop-color="#3fca8e"/><stop offset="0.4699" stop-color="#45cb88"/><stop offset="0.4838" stop-color="#6dcd68"/><stop offset="0.4931" stop-color="#6fcd66"/><stop offset="0.5486" stop-color="#64cd6f"/><stop offset="0.5903" stop-color="#66cd6d"/><stop offset="0.5949" stop-color="#74cc62"/><stop offset="0.6042" stop-color="#b8c431"/><stop offset="0.6088" stop-color="#d8be28"/><stop offset="0.6134" stop-color="#f2ba38"/><stop offset="0.6181" stop-color="#fbbc3d"/><stop offset="0.6273" stop-color="#fec934"/><stop offset="0.6458" stop-color="#f5e526"/><stop offset="0.7199" stop-color="#f8f719"/><stop offset="0.9375" stop-color="#f6f020"/><stop offset="1.0000" stop-color="#f6f11f"/></linearGradient><linearGradient id="g120" gradientUnits="userSpaceOnUse" x1="62" x2="278" y1="0" y2="0"><stop offset="0.0000" stop-color="#402bb7"/><stop offset="0.0532" stop-color="#463ee1"/><stop offset="0.1134" stop-color="#4759f8"/><stop offset="0.1597" stop-color="#3f6eff"/><stop offset="0.1968" stop-color="#2e83f9"/><stop offset="0.2199" stop-color="#2b91ef"/><stop offset="0.2477" stop-color="#2b92ef"/><stop offset="0.2616" stop-color="#22a2e4"/><stop offset="0.3218" stop-color="#23a1e4"/><stop offset="0.3264" stop-color="#20a4e3"/><stop offset="0.3310" stop-color="#18addb"/><stop offset="0.3356" stop-color="#05b6ce"/><stop offset="0.3773" stop-color="#01b8c8"/><stop offset="0.3866" stop-color="#05bbc1"/><stop offset="0.3958" stop-color="#0abdbd"/><stop offset="0.4051" stop-color="#0dbdbc"/><stop offset="0.4097" stop-color="#23c1af"/><stop offset="0.4190" stop-color="#3ac994"/><stop offset="0.4653" stop-color="#3eca8f"/><stop offset="0.4699" stop-color="#44cb89"/><stop offset="0.4838" stop-color="#6ccd69"/><stop offset="0.4977" stop-color="#6dcd67"/><stop offset="0.5486" stop-color="#63cd6f"/><stop offset="0.5949" stop-color="#66cd6d"/><stop offset="0.5995" stop-color="#8ecb4e"/><stop offset="0.6042" stop-color="#b2c635"/><stop offset="0.6088" stop-color="#d2bf27"/><stop offset="0.6134" stop-color="#eeba34"/><stop offset="0.6181" stop-color="#f8ba3d"/><stop offset="0.6227" stop-color="#febf3b"/><stop offset="0.6458" stop-color="#f5e427"/><stop offset="0.7106" stop-color="#f7f51b"/><stop offset="0.8866" stop-color="#f6ef20"/><stop offset="1.0000" stop-color="#f6f11f"/></linearGradient><linearGradient id="g121" gradientUnits="userSpaceOnUse" x1="62" x2="278" y1="0" y2="0"><stop offset="0.0000" stop-color="#402bb6"/><stop offset="0.0532" stop-color="#463de0"/><stop offset="0.1134" stop-color="#4758f8"/><stop offset="0.1644" stop-color="#3d70ff"/><stop offset="0.2014" stop-color="#2e85f8"/><stop offset="0.2245" stop-color="#2b91ef"/><stop offset="0.2523" stop-color="#2b92ef"/><stop offset="0.2616" stop-color="#249fe5"/><stop offset="0.3264" stop-color="#23a1e4"/><stop offset="0.3310" stop-color="#1ea7e1"/><stop offset="0.3356" stop-color="#14b0d8"/><stop offset="0.3403" stop-color="#03b7cc"/><stop offset="0.3773" stop-color="#01b8c9"/><stop offset="0.3912" stop-color="#09bdbe"/><stop offset="0.4097" stop-color="#0abdbd"/><stop offset="0.4144" stop-color="#12beb9"/><stop offset="0.4190" stop-color="#25c2ad"/><stop offset="0.4282" stop-color="#3ac994"/><stop offset="0.4653" stop-color="#3bc993"/><stop offset="0.4699" stop-color="#40ca8d"/><stop offset="0.4838" stop-color="#65cd6e"/><stop offset="0.5069" stop-color="#68cd6c"/><stop offset="0.5486" stop-color="#60cd73"/><stop offset="0.5949" stop-color="#61cd71"/><stop offset="0.6042" stop-color="#84cc56"/><stop offset="0.6181" stop-color="#bdc32e"/><stop offset="0.6227" stop-color="#cec028"/><stop offset="0.6273" stop-color="#debd29"/><stop offset="0.6366" stop-color="#f8ba3d"/><stop offset="0.6412" stop-color="#febf3b"/><stop offset="0.6597" stop-color="#f5e228"/><stop offset="0.7338" stop-color="#f7f51b"/><stop offset="0.9421" stop-color="#f6ef20"/><stop offset="1.0000" stop-color="#f6f01f"/></linearGradient><linearGradient id="g122" gradientUnits="userSpaceOnUse" x1="62" x2="278" y1="0" y2="0"><stop offset="0.0000" stop-color="#402ab5"/><stop offset="0.0532" stop-color="#463ddf"/><stop offset="0.1134" stop-color="#4757f7"/><stop offset="0.1644" stop-color="#3e6fff"/><stop offset="0.2014" stop-color="#2e83f9"/><stop offset="0.2245" stop-color="#2b91ef"/><stop offset="0.2569" stop-color="#2994ed"/><stop offset="0.2662" stop-color="#22a1e4"/><stop offset="0.3310" stop-color="#23a1e5"/><stop offset="0.3356" stop-color="#1caadf"/><stop offset="0.3449" stop-color="#03b7cc"/><stop offset="0.3773" stop-color="#01b8c9"/><stop offset="0.3866" stop-color="#04bbc2"/><stop offset="0.3958" stop-color="#09bdbe"/><stop offset="0.4144" stop-color="#0abdbe"/><stop offset="0.4236" stop-color="#2ac3a9"/><stop offset="0.4282" stop-color="#34c79c"/><stop offset="0.4329" stop-color="#39c895"/><stop offset="0.4653" stop-color="#3ac994"/><stop offset="0.4699" stop-color="#3fca8e"/><stop offset="0.4838" stop-color="#63cd6f"/><stop offset="0.5116" stop-color="#66cd6d"/><stop offset="0.5486" stop-color="#5fcd73"/><stop offset="0.5949" stop-color="#61cd71"/><stop offset="0.6042" stop-color="#83cc57"/><stop offset="0.6134" stop-color="#aac73a"/><stop offset="0.6181" stop-color="#b2c535"/><stop offset="0.6227" stop-color="#c6c22a"/><stop offset="0.6273" stop-color="#d4bf28"/><stop offset="0.6366" stop-color="#edba33"/><stop offset="0.6412" stop-color="#f8ba3d"/><stop offset="0.6458" stop-color="#febe3c"/><stop offset="0.6597" stop-color="#fad52e"/><stop offset="0.6690" stop-color="#f5e228"/><stop offset="0.7431" stop-color="#f7f41c"/><stop offset="0.9514" stop-color="#f6ef20"/><stop offset="1.0000" stop-color="#f6f01f"/></linearGradient><linearGradient id="g123" gradientUnits="userSpaceOnUse" x1="62" x2="278" y1="0" y2="0"><stop offset="0.0000" stop-color="#402ab5"/><stop offset="0.0579" stop-color="#463ee1"/><stop offset="0.1181" stop-color="#4758f8"/><stop offset="0.1690" stop-color="#3d70ff"/><stop offset="0.2060" stop-color="#2e84f8"/><stop offset="0.2292" stop-color="#2b91ef"/><stop offset="0.2569" stop-color="#2b91ef"/><stop offset="0.2708" stop-color="#22a1e4"/><stop offset="0.3310" stop-color="#23a1e5"/><stop offset="0.3356" stop-color="#21a4e3"/><stop offset="0.3403" stop-color="#19addc"/><stop offset="0.3449" stop-color="#07b5d0"/><stop offset="0.3542" stop-color="#03b7cc"/><stop offset="0.3773" stop-color="#01b8c9"/><stop offset="0.3866" stop-color="#04bbc2"/><stop offset="0.3958" stop-color="#09bcbe"/><stop offset="0.4144" stop-color="#09bdbe"/><stop offset="0.4190" stop-color="#0dbdbb"/><stop offset="0.4236" stop-color="#22c1b0"/><stop offset="0.4329" stop-color="#37c897"/><stop offset="0.4653" stop-color="#39c995"/><stop offset="0.4699" stop-color="#3eca8f"/><stop offset="0.4838" stop-color="#62cd70"/><stop offset="0.5162" stop-color="#64cd6f"/><stop offset="0.5532" stop-color="#5fcd73"/><stop offset="0.5949" stop-color="#61cd72"/><stop offset="0.6042" stop-color="#83cc57"/><stop offset="0.6134" stop-color="#aac73a"/><stop offset="0.6181" stop-color="#aac73a"/><stop offset="0.6227" stop-color="#bfc32e"/><stop offset="0.6319" stop-color="#d8be28"/><stop offset="0.6412" stop-color="#eeba34"/><stop offset="0.6458" stop-color="#f7ba3d"/><stop offset="0.6505" stop-color="#febe3c"/><stop offset="0.6690" stop-color="#f9d82c"/><stop offset="0.6782" stop-color="#f6e128"/><stop offset="0.7569" stop-color="#f6f21d"/><stop offset="0.9606" stop-color="#f6ef20"/><stop offset="1.0000" stop-color="#f6f020"/></linearGradient><linearGradient id="g124" gradientUnits="userSpaceOnUse" x1="62" x2="278" y1="0" y2="0"><stop offset="0.0000" stop-color="#402ab4"/><stop offset="0.0579" stop-color="#463ee0"/><stop offset="0.1227" stop-color="#475af9"/><stop offset="0.1690" stop-color="#3f6fff"/><stop offset="0.2060" stop-color="#2f83f9"/><stop offset="0.2338" stop-color="#2b91ef"/><stop offset="0.2616" stop-color="#2b92ee"/><stop offset="0.2708" stop-color="#23a0e5"/><stop offset="0.3356" stop-color="#23a0e5"/><stop offset="0.3403" stop-color="#1ea7e1"/><stop offset="0.3449" stop-color="#15afd9"/><stop offset="0.3495" stop-color="#03b7cc"/><stop offset="0.3773" stop-color="#01b8c9"/><stop offset="0.3866" stop-color="#03bbc2"/><stop offset="0.3958" stop-color="#09bcbe"/><stop offset="0.4190" stop-color="#09bcbe"/><stop offset="0.4282" stop-color="#27c2ab"/><stop offset="0.4375" stop-color="#38c896"/><stop offset="0.4653" stop-color="#38c895"/><stop offset="0.4699" stop-color="#3dca90"/><stop offset="0.4838" stop-color="#61cd71"/><stop offset="0.5208" stop-color="#62cd70"/><stop offset="0.5579" stop-color="#5fcd73"/><stop offset="0.5949" stop-color="#60cd72"/><stop offset="0.6042" stop-color="#83cc57"/><stop offset="0.6134" stop-color="#a9c73a"/><stop offset="0.6181" stop-color="#a9c73a"/><stop offset="0.6273" stop-color="#c5c22a"/><stop offset="0.6366" stop-color="#dcbd29"/><stop offset="0.6505" stop-color="#f7ba3c"/><stop offset="0.6597" stop-color="#fec239"/><stop offset="0.6829" stop-color="#f6e029"/><stop offset="0.7523" stop-color="#f6ef20"/><stop offset="0.9931" stop-color="#f6ef20"/><stop offset="1.0000" stop-color="#f6f020"/></linearGradient><linearGradient id="g125" gradientUnits="userSpaceOnUse" x1="62" x2="278" y1="0" y2="0"><stop offset="0.0000" stop-color="#402ab3"/><stop offset="0.0579" stop-color="#463de0"/><stop offset="0.1227" stop-color="#4759f8"/><stop offset="0.1736" stop-color="#3e70ff"/><stop offset="0.2106" stop-color="#2e84f9"/><stop offset="0.2338" stop-color="#2b91ef"/><stop offset="0.2616" stop-color="#2b91ef"/><stop offset="0.2755" stop-color="#22a1e4"/><stop offset="0.3403" stop-color="#23a0e5"/><stop offset="0.3449" stop-color="#1ca9df"/><stop offset="0.3542" stop-color="#03b7cc"/><stop offset="0.3773" stop-color="#01b8ca"/><stop offset="0.3866" stop-color="#03bbc2"/><stop offset="0.3958" stop-color="#09bcbe"/><stop offset="0.4236" stop-color="#09bcbe"/><stop offset="0.4282" stop-color="#1ec0b2"/><stop offset="0.4329" stop-color="#2cc4a7"/><stop offset="0.4375" stop-color="#35c79b"/><stop offset="0.4514" stop-color="#37c897"/><stop offset="0.4653" stop-color="#38c896"/><stop offset="0.4745" stop-color="#47cb87"/><stop offset="0.4838" stop-color="#60cd72"/><stop offset="0.5208" stop-color="#62cd71"/><stop offset="0.5579" stop-color="#5ecd74"/><stop offset="0.5949" stop-color="#60cd72"/><stop offset="0.6042" stop-color="#82cc58"/><stop offset="0.6134" stop-color="#a9c73b"/><stop offset="0.6227" stop-color="#abc739"/><stop offset="0.6273" stop-color="#bfc32d"/><stop offset="0.6366" stop-color="#d5be28"/><stop offset="0.6458" stop-color="#e7bb2e"/><stop offset="0.6551" stop-color="#f7ba3c"/><stop offset="0.6644" stop-color="#fec13a"/><stop offset="0.6921" stop-color="#f6df29"/><stop offset="0.7523" stop-color="#f5eb23"/><stop offset="0.7847" stop-color="#f6ef20"/><stop offset="0.9282" stop-color="#f5ee21"/><stop offset="1.0000" stop-color="#f6ef20"/></linearGradient><linearGradient id="g126" gradientUnits="userSpaceOnUse" x1="62" x2="278" y1="0" y2="0"><stop offset="0.0000" stop-color="#4029b2"/><stop offset="0.0579" stop-color="#463cdf"/><stop offset="0.1227" stop-color="#4758f8"/><stop offset="0.1736" stop-color="#3f6eff"/><stop offset="0.2153" stop-color="#2e85f8"/><stop offset="0.2384" stop-color="#2b91ef"/><stop offset="0.2662" stop-color="#2b91ef"/><stop offset="0.2801" stop-color="#23a1e4"/><stop offset="0.3403" stop-color="#23a0e5"/><stop offset="0.3449" stop-color="#21a3e3"/><stop offset="0.3495" stop-color="#1aacdd"/><stop offset="0.3542" stop-color="#08b4d1"/><stop offset="0.3634" stop-color="#04b6cc"/><stop offset="0.3773" stop-color="#01b8ca"/><stop offset="0.3866" stop-color="#03bbc3"/><stop offset="0.3958" stop-color="#08bcbe"/><stop offset="0.4236" stop-color="#09bcbe"/><stop offset="0.4282" stop-color="#11beb9"/><stop offset="0.4329" stop-color="#24c1ae"/><stop offset="0.4421" stop-color="#37c898"/><stop offset="0.4653" stop-color="#37c897"/><stop offset="0.4745" stop-color="#46cb88"/><stop offset="0.4838" stop-color="#5fcd73"/><stop offset="0.5255" stop-color="#60cd72"/><stop offset="0.5625" stop-color="#5ecc74"/><stop offset="0.5949" stop-color="#5fcd73"/><stop offset="0.6042" stop-color="#82cc58"/><stop offset="0.6134" stop-color="#a8c73b"/><stop offset="0.6227" stop-color="#a9c73b"/><stop offset="0.6273" stop-color="#bac430"/><stop offset="0.6366" stop-color="#cec028"/><stop offset="0.6505" stop-color="#e8bb2f"/><stop offset="0.6597" stop-color="#f7ba3c"/><stop offset="0.6690" stop-color="#fec03b"/><stop offset="0.6968" stop-color="#f6dd29"/><stop offset="0.7569" stop-color="#f5e825"/><stop offset="0.7940" stop-color="#f5ee21"/><stop offset="0.9190" stop-color="#f5ed22"/><stop offset="1.0000" stop-color="#f6ef20"/></linearGradient><linearGradient id="g127" gradientUnits="userSpaceOnUse" x1="62" x2="278" y1="0" y2="0"><stop offset="0.0000" stop-color="#3f29b2"/><stop offset="0.0579" stop-color="#463cde"/><stop offset="0.1181" stop-color="#4755f6"/><stop offset="0.1782" stop-color="#3e6fff"/><stop offset="0.2153" stop-color="#2e83f9"/><stop offset="0.2384" stop-color="#2b91ef"/><stop offset="0.2708" stop-color="#2a93ee"/><stop offset="0.2801" stop-color="#23a0e5"/><stop offset="0.3449" stop-color="#23a0e5"/><stop offset="0.3542" stop-color="#16afda"/><stop offset="0.3588" stop-color="#04b6cd"/><stop offset="0.3773" stop-color="#01b8ca"/><stop offset="0.3866" stop-color="#03bbc3"/><stop offset="0.3958" stop-color="#08bcbf"/><stop offset="0.4282" stop-color="#08bcbe"/><stop offset="0.4375" stop-color="#28c3aa"/><stop offset="0.4421" stop-color="#32c69e"/><stop offset="0.4468" stop-color="#36c898"/><stop offset="0.4653" stop-color="#37c898"/><stop offset="0.4745" stop-color="#44cb89"/><stop offset="0.4838" stop-color="#5dcc74"/><stop offset="0.5255" stop-color="#60cd72"/><stop offset="0.5625" stop-color="#5dcc74"/><stop offset="0.5949" stop-color="#5fcd73"/><stop offset="0.6042" stop-color="#81cc58"/><stop offset="0.6134" stop-color="#a8c73b"/><stop offset="0.6227" stop-color="#a8c73b"/><stop offset="0.6366" stop-color="#c9c129"/><stop offset="0.6458" stop-color="#dabd28"/><stop offset="0.6644" stop-color="#f6ba3b"/><stop offset="0.6782" stop-color="#fec338"/><stop offset="0.7060" stop-color="#f7dd2a"/><stop offset="0.7616" stop-color="#f5e426"/><stop offset="0.8032" stop-color="#f5ed22"/><stop offset="0.9190" stop-color="#f5ec22"/><stop offset="1.0000" stop-color="#f5ef20"/></linearGradient><linearGradient id="g128" gradientUnits="userSpaceOnUse" x1="62" x2="278" y1="0" y2="0"><stop offset="0.0000" stop-color="#3f29b1"/><stop offset="0.0625" stop-color="#463de0"/><stop offset="0.1273" stop-color="#4758f8"/><stop offset="0.1829" stop-color="#3d70ff"/><stop offset="0.2199" stop-color="#2e84f8"/><stop offset="0.2431" stop-color="#2b91ef"/><stop offset="0.2708" stop-color="#2b91ef"/><stop offset="0.2847" stop-color="#23a1e4"/><stop offset="0.3495" stop-color="#23a0e5"/><stop offset="0.3588" stop-color="#12b1d6"/><stop offset="0.3634" stop-color="#04b6cd"/><stop offset="0.3773" stop-color="#01b8ca"/><stop offset="0.3866" stop-color="#02bbc3"/><stop offset="0.3958" stop-color="#08bcbf"/><stop offset="0.4329" stop-color="#08bcbe"/><stop offset="0.4421" stop-color="#2ac3a8"/><stop offset="0.4468" stop-color="#33c79c"/><stop offset="0.4653" stop-color="#36c799"/><stop offset="0.4745" stop-color="#43ca8b"/><stop offset="0.4838" stop-color="#5ccc76"/><stop offset="0.5301" stop-color="#5ecc74"/><stop offset="0.5949" stop-color="#5ecd74"/><stop offset="0.6042" stop-color="#80cc59"/><stop offset="0.6134" stop-color="#a7c73c"/><stop offset="0.6273" stop-color="#a7c73c"/><stop offset="0.6412" stop-color="#c8c129"/><stop offset="0.6551" stop-color="#e0bc2a"/><stop offset="0.6736" stop-color="#f9bb3d"/><stop offset="0.6829" stop-color="#fec13a"/><stop offset="0.7106" stop-color="#f7db2a"/><stop offset="0.7708" stop-color="#f5e427"/><stop offset="0.8125" stop-color="#f5ec23"/><stop offset="0.9190" stop-color="#f5eb23"/><stop offset="1.0000" stop-color="#f5ee21"/></linearGradient><linearGradient id="g129" gradientUnits="userSpaceOnUse" x1="62" x2="278" y1="0" y2="0"><stop offset="0.0000" stop-color="#3f29b0"/><stop offset="0.0625" stop-color="#463de0"/><stop offset="0.1273" stop-color="#4757f7"/><stop offset="0.1829" stop-color="#3e6fff"/><stop offset="0.2199" stop-color="#2f82f9"/><stop offset="0.2477" stop-color="#2b90ef"/><stop offset="0.2755" stop-color="#2b91ef"/><stop offset="0.2847" stop-color="#249ee6"/><stop offset="0.3542" stop-color="#23a0e5"/><stop offset="0.3634" stop-color="#17aeda"/><stop offset="0.3681" stop-color="#04b6cd"/><stop offset="0.3866" stop-color="#02bac3"/><stop offset="0.3958" stop-color="#07bcbf"/><stop offset="0.4375" stop-color="#06bcc0"/><stop offset="0.4421" stop-color="#0ebdbb"/><stop offset="0.4468" stop-color="#21c1b0"/><stop offset="0.4514" stop-color="#2dc4a5"/><stop offset="0.4560" stop-color="#34c79b"/><stop offset="0.4653" stop-color="#34c79b"/><stop offset="0.4745" stop-color="#40ca8d"/><stop offset="0.4838" stop-color="#58cc79"/><stop offset="0.5949" stop-color="#5ccc76"/><stop offset="0.6042" stop-color="#7dcc5b"/><stop offset="0.6134" stop-color="#a4c83e"/><stop offset="0.6366" stop-color="#a5c83d"/><stop offset="0.6412" stop-color="#aec637"/><stop offset="0.6505" stop-color="#c6c22a"/><stop offset="0.6644" stop-color="#e0bc2a"/><stop offset="0.6829" stop-color="#fabb3d"/><stop offset="0.6968" stop-color="#fec735"/><stop offset="0.7199" stop-color="#f7db2a"/><stop offset="0.7801" stop-color="#f5e526"/><stop offset="0.8171" stop-color="#f5eb23"/><stop offset="0.9190" stop-color="#f5eb23"/><stop offset="1.0000" stop-color="#f5ee21"/></linearGradient><linearGradient id="g130" gradientUnits="userSpaceOnUse" x1="62" x2="278" y1="0" y2="0"><stop offset="0.0000" stop-color="#3f29b0"/><stop offset="0.0625" stop-color="#463cdf"/><stop offset="0.1273" stop-color="#4757f7"/><stop offset="0.1875" stop-color="#3e70ff"/><stop offset="0.2245" stop-color="#2e83f9"/><stop offset="0.2477" stop-color="#2b90f0"/><stop offset="0.2755" stop-color="#2b91ef"/><stop offset="0.2894" stop-color="#23a0e5"/><stop offset="0.3634" stop-color="#22a1e4"/><stop offset="0.3727" stop-color="#11b1d6"/><stop offset="0.3773" stop-color="#02b7cb"/><stop offset="0.3866" stop-color="#02bac4"/><stop offset="0.3958" stop-color="#06bcc0"/><stop offset="0.4468" stop-color="#04bbc2"/><stop offset="0.4514" stop-color="#10beba"/><stop offset="0.4560" stop-color="#23c1af"/><stop offset="0.4606" stop-color="#2ec4a4"/><stop offset="0.4745" stop-color="#3dc990"/><stop offset="0.4838" stop-color="#54cc7d"/><stop offset="0.5949" stop-color="#5acc77"/><stop offset="0.6042" stop-color="#7bcc5d"/><stop offset="0.6134" stop-color="#a2c840"/><stop offset="0.6458" stop-color="#a3c83f"/><stop offset="0.6505" stop-color="#a8c73b"/><stop offset="0.6551" stop-color="#bac430"/><stop offset="0.6644" stop-color="#cec028"/><stop offset="0.6782" stop-color="#e8bb2e"/><stop offset="0.6875" stop-color="#f6ba3b"/><stop offset="0.6968" stop-color="#febf3b"/><stop offset="0.7245" stop-color="#f8da2b"/><stop offset="0.7847" stop-color="#f5e526"/><stop offset="0.8218" stop-color="#f5eb23"/><stop offset="0.9190" stop-color="#f5ea23"/><stop offset="1.0000" stop-color="#f5ee21"/></linearGradient><linearGradient id="g131" gradientUnits="userSpaceOnUse" x1="62" x2="278" y1="0" y2="0"><stop offset="0.0000" stop-color="#3f28af"/><stop offset="0.0625" stop-color="#463cde"/><stop offset="0.1227" stop-color="#4854f5"/><stop offset="0.1875" stop-color="#3f6eff"/><stop offset="0.2292" stop-color="#2e84f8"/><stop offset="0.2523" stop-color="#2b90f0"/><stop offset="0.2801" stop-color="#2b91ef"/><stop offset="0.2940" stop-color="#23a0e5"/><stop offset="0.3681" stop-color="#239fe5"/><stop offset="0.3727" stop-color="#1fa6e2"/><stop offset="0.3773" stop-color="#15afd9"/><stop offset="0.3819" stop-color="#01b8c9"/><stop offset="0.3958" stop-color="#06bcc0"/><stop offset="0.4560" stop-color="#04bbc2"/><stop offset="0.4653" stop-color="#25c2ad"/><stop offset="0.4745" stop-color="#3bc992"/><stop offset="0.4838" stop-color="#50cc80"/><stop offset="0.5949" stop-color="#58cc79"/><stop offset="0.6042" stop-color="#79cc5f"/><stop offset="0.6134" stop-color="#9fc941"/><stop offset="0.6597" stop-color="#a2c840"/><stop offset="0.6644" stop-color="#b7c532"/><stop offset="0.6736" stop-color="#cdc028"/><stop offset="0.6829" stop-color="#dfbc2a"/><stop offset="0.6968" stop-color="#f7ba3c"/><stop offset="0.7060" stop-color="#fec13a"/><stop offset="0.7292" stop-color="#f8da2b"/><stop offset="0.7940" stop-color="#f5e626"/><stop offset="0.8264" stop-color="#f5ea24"/><stop offset="0.9190" stop-color="#f5ea24"/><stop offset="1.0000" stop-color="#f5ee21"/></linearGradient><linearGradient id="g132" gradientUnits="userSpaceOnUse" x1="62" x2="278" y1="0" y2="0"><stop offset="0.0000" stop-color="#3f28ae"/><stop offset="0.0671" stop-color="#463de0"/><stop offset="0.1319" stop-color="#4757f7"/><stop offset="0.1921" stop-color="#3e6fff"/><stop offset="0.2292" stop-color="#2f83f9"/><stop offset="0.2569" stop-color="#2b90f0"/><stop offset="0.2847" stop-color="#2b91ef"/><stop offset="0.2986" stop-color="#23a0e5"/><stop offset="0.3727" stop-color="#23a0e5"/><stop offset="0.3773" stop-color="#1caadf"/><stop offset="0.3866" stop-color="#02bac5"/><stop offset="0.4005" stop-color="#06bbc1"/><stop offset="0.4606" stop-color="#02bac3"/><stop offset="0.4653" stop-color="#11beba"/><stop offset="0.4699" stop-color="#27c2ac"/><stop offset="0.4792" stop-color="#42ca8b"/><stop offset="0.4838" stop-color="#4dcc82"/><stop offset="0.5532" stop-color="#54cc7c"/><stop offset="0.5949" stop-color="#57cc7a"/><stop offset="0.6042" stop-color="#77cc60"/><stop offset="0.6134" stop-color="#9dc943"/><stop offset="0.6690" stop-color="#9fc941"/><stop offset="0.6736" stop-color="#b2c535"/><stop offset="0.6921" stop-color="#d1bf27"/><stop offset="0.7106" stop-color="#ebba31"/><stop offset="0.7245" stop-color="#fabb3d"/><stop offset="0.7384" stop-color="#fec437"/><stop offset="0.7616" stop-color="#fad62d"/><stop offset="0.8264" stop-color="#f7dc2a"/><stop offset="0.8681" stop-color="#f5e426"/><stop offset="1.0000" stop-color="#f5ec22"/></linearGradient><linearGradient id="g133" gradientUnits="userSpaceOnUse" x1="62" x2="278" y1="0" y2="0"><stop offset="0.0000" stop-color="#3f28ae"/><stop offset="0.0671" stop-color="#463ddf"/><stop offset="0.1319" stop-color="#4756f7"/><stop offset="0.1921" stop-color="#3f6eff"/><stop offset="0.2338" stop-color="#2e84f9"/><stop offset="0.2569" stop-color="#2c90f0"/><stop offset="0.2847" stop-color="#2b90ef"/><stop offset="0.2986" stop-color="#249fe5"/><stop offset="0.3727" stop-color="#249fe5"/><stop offset="0.3773" stop-color="#20a4e3"/><stop offset="0.3819" stop-color="#18aedb"/><stop offset="0.3866" stop-color="#03b7cc"/><stop offset="0.3912" stop-color="#05bbc1"/><stop offset="0.4653" stop-color="#02bac5"/><stop offset="0.4699" stop-color="#14beb8"/><stop offset="0.4745" stop-color="#2bc3a8"/><stop offset="0.4838" stop-color="#4bcb84"/><stop offset="0.5532" stop-color="#51cc7f"/><stop offset="0.5949" stop-color="#55cc7c"/><stop offset="0.6042" stop-color="#75cc62"/><stop offset="0.6134" stop-color="#9bc944"/><stop offset="0.6782" stop-color="#9dc943"/><stop offset="0.6829" stop-color="#b0c636"/><stop offset="0.7014" stop-color="#d1bf27"/><stop offset="0.7153" stop-color="#e5bb2d"/><stop offset="0.7292" stop-color="#f7ba3c"/><stop offset="0.7431" stop-color="#fec239"/><stop offset="0.7662" stop-color="#fad52e"/><stop offset="0.8310" stop-color="#f7dc2a"/><stop offset="0.8727" stop-color="#f5e427"/><stop offset="1.0000" stop-color="#f5ec22"/></linearGradient><linearGradient id="g134" gradientUnits="userSpaceOnUse" x1="62" x2="278" y1="0" y2="0"><stop offset="0.0000" stop-color="#3f28ad"/><stop offset="0.0671" stop-color="#463cdf"/><stop offset="0.1273" stop-color="#4854f5"/><stop offset="0.1921" stop-color="#406dfe"/><stop offset="0.2384" stop-color="#2e85f8"/><stop offset="0.2616" stop-color="#2c90f0"/><stop offset="0.2894" stop-color="#2b90ef"/><stop offset="0.3032" stop-color="#23a0e5"/><stop offset="0.3773" stop-color="#23a1e5"/><stop offset="0.3819" stop-color="#1da8e0"/><stop offset="0.3866" stop-color="#11b2d5"/><stop offset="0.3912" stop-color="#02bac5"/><stop offset="0.4005" stop-color="#05bbc1"/><stop offset="0.4653" stop-color="#01bac5"/><stop offset="0.4699" stop-color="#03bbc3"/><stop offset="0.4792" stop-color="#2ec5a4"/><stop offset="0.4838" stop-color="#3eca90"/><stop offset="0.4884" stop-color="#4bcb84"/><stop offset="0.5486" stop-color="#4dcc82"/><stop offset="0.5903" stop-color="#53cc7d"/><stop offset="0.5949" stop-color="#53cc7d"/><stop offset="0.6042" stop-color="#73cd63"/><stop offset="0.6134" stop-color="#99c946"/><stop offset="0.6875" stop-color="#9bc944"/><stop offset="0.6921" stop-color="#adc638"/><stop offset="0.7106" stop-color="#d0bf27"/><stop offset="0.7245" stop-color="#e6bb2d"/><stop offset="0.7384" stop-color="#f8ba3d"/><stop offset="0.7523" stop-color="#fec338"/><stop offset="0.7755" stop-color="#fad42e"/><stop offset="0.8356" stop-color="#f7dc2a"/><stop offset="0.8773" stop-color="#f5e327"/><stop offset="1.0000" stop-color="#f5eb23"/></linearGradient><linearGradient id="g135" gradientUnits="userSpaceOnUse" x1="62" x2="278" y1="0" y2="0"><stop offset="0.0000" stop-color="#3e28ac"/><stop offset="0.0671" stop-color="#463cde"/><stop offset="0.1273" stop-color="#4853f5"/><stop offset="0.1968" stop-color="#3f6efe"/><stop offset="0.2431" stop-color="#2e86f8"/><stop offset="0.2662" stop-color="#2c90f0"/><stop offset="0.2940" stop-color="#2b91ef"/><stop offset="0.3079" stop-color="#23a0e5"/><stop offset="0.3773" stop-color="#23a1e5"/><stop offset="0.3819" stop-color="#21a2e4"/><stop offset="0.3866" stop-color="#19acdc"/><stop offset="0.3912" stop-color="#07b5cf"/><stop offset="0.3958" stop-color="#05bbc1"/><stop offset="0.4653" stop-color="#01b9c6"/><stop offset="0.4699" stop-color="#02bbc3"/><stop offset="0.4745" stop-color="#09bcbe"/><stop offset="0.4792" stop-color="#21c1b1"/><stop offset="0.4838" stop-color="#31c69f"/><stop offset="0.4931" stop-color="#49cb86"/><stop offset="0.5532" stop-color="#4bcb83"/><stop offset="0.5949" stop-color="#52cc7e"/><stop offset="0.6042" stop-color="#71cd64"/><stop offset="0.6134" stop-color="#97ca47"/><stop offset="0.6968" stop-color="#99c946"/><stop offset="0.7014" stop-color="#aac739"/><stop offset="0.7199" stop-color="#cfc028"/><stop offset="0.7338" stop-color="#e6bb2d"/><stop offset="0.7477" stop-color="#f9bb3d"/><stop offset="0.7616" stop-color="#fec537"/><stop offset="0.7801" stop-color="#fad42e"/><stop offset="0.8403" stop-color="#f7dc2a"/><stop offset="0.8819" stop-color="#f5e327"/><stop offset="1.0000" stop-color="#f5eb23"/></linearGradient><linearGradient id="g136" gradientUnits="userSpaceOnUse" x1="62" x2="278" y1="0" y2="0"><stop offset="0.0000" stop-color="#3e27ab"/><stop offset="0.0718" stop-color="#463de0"/><stop offset="0.1366" stop-color="#4756f6"/><stop offset="0.2014" stop-color="#3f6eff"/><stop offset="0.2431" stop-color="#2e84f9"/><stop offset="0.2662" stop-color="#2c90f0"/><stop offset="0.2940" stop-color="#2b90f0"/><stop offset="0.3079" stop-color="#249fe5"/><stop offset="0.3773" stop-color="#23a0e5"/><stop offset="0.3866" stop-color="#1ea7e1"/><stop offset="0.3912" stop-color="#13b0d7"/><stop offset="0.3958" stop-color="#03b7cb"/><stop offset="0.4005" stop-color="#04bbc1"/><stop offset="0.4653" stop-color="#01b9c6"/><stop offset="0.4699" stop-color="#02bbc3"/><stop offset="0.4792" stop-color="#11beb9"/><stop offset="0.4838" stop-color="#26c2ad"/><stop offset="0.4977" stop-color="#46cb88"/><stop offset="0.5579" stop-color="#4acb84"/><stop offset="0.5949" stop-color="#51cc7f"/><stop offset="0.6042" stop-color="#6fcd66"/><stop offset="0.6134" stop-color="#95ca49"/><stop offset="0.7060" stop-color="#97ca48"/><stop offset="0.7106" stop-color="#a8c73b"/><stop offset="0.7245" stop-color="#c6c22a"/><stop offset="0.7384" stop-color="#dfbc2a"/><stop offset="0.7569" stop-color="#fabb3d"/><stop offset="0.7662" stop-color="#fec239"/><stop offset="0.7847" stop-color="#fbd32e"/><stop offset="0.8495" stop-color="#f7dd2a"/><stop offset="0.8866" stop-color="#f5e227"/><stop offset="1.0000" stop-color="#f5eb23"/></linearGradient><linearGradient id="g137" gradientUnits="userSpaceOnUse" x1="62" x2="278" y1="0" y2="0"><stop offset="0.0000" stop-color="#3e27ab"/><stop offset="0.0718" stop-color="#463cdf"/><stop offset="0.1366" stop-color="#4755f6"/><stop offset="0.2060" stop-color="#3e6fff"/><stop offset="0.2477" stop-color="#2e85f8"/><stop offset="0.2708" stop-color="#2c90f0"/><stop offset="0.2986" stop-color="#2c90f0"/><stop offset="0.3125" stop-color="#23a0e5"/><stop offset="0.3773" stop-color="#23a0e5"/><stop offset="0.3866" stop-color="#20a4e3"/><stop offset="0.3912" stop-color="#1babde"/><stop offset="0.4005" stop-color="#01b9c7"/><stop offset="0.4051" stop-color="#04bbc2"/><stop offset="0.4653" stop-color="#01b9c6"/><stop offset="0.4699" stop-color="#02bac3"/><stop offset="0.4792" stop-color="#11beba"/><stop offset="0.4838" stop-color="#1cc0b3"/><stop offset="0.4884" stop-color="#2bc3a8"/><stop offset="0.5023" stop-color="#46cb88"/><stop offset="0.5532" stop-color="#48cb86"/><stop offset="0.5949" stop-color="#50cc7f"/><stop offset="0.6042" stop-color="#6fcd66"/><stop offset="0.6134" stop-color="#95ca49"/><stop offset="0.7060" stop-color="#97ca48"/><stop offset="0.7106" stop-color="#9ec942"/><stop offset="0.7153" stop-color="#aec637"/><stop offset="0.7292" stop-color="#cac129"/><stop offset="0.7431" stop-color="#e3bc2c"/><stop offset="0.7569" stop-color="#f7ba3c"/><stop offset="0.7708" stop-color="#fec438"/><stop offset="0.7894" stop-color="#fbd32f"/><stop offset="0.8542" stop-color="#f7dd2a"/><stop offset="0.8912" stop-color="#f5e228"/><stop offset="1.0000" stop-color="#f5ea23"/></linearGradient><linearGradient id="g138" gradientUnits="userSpaceOnUse" x1="62" x2="278" y1="0" y2="0"><stop offset="0.0000" stop-color="#3e27aa"/><stop offset="0.0718" stop-color="#463cde"/><stop offset="0.1366" stop-color="#4854f5"/><stop offset="0.2060" stop-color="#3f6eff"/><stop offset="0.2477" stop-color="#2e83f9"/><stop offset="0.2708" stop-color="#2c90f0"/><stop offset="0.3032" stop-color="#2b91ef"/><stop offset="0.3171" stop-color="#23a0e5"/><stop offset="0.3773" stop-color="#23a0e5"/><stop offset="0.4005" stop-color="#1fa6e2"/><stop offset="0.4097" stop-color="#1ea7e1"/><stop offset="0.4144" stop-color="#17aeda"/><stop offset="0.4190" stop-color="#0bb4d2"/><stop offset="0.4236" stop-color="#02bac4"/><stop offset="0.4653" stop-color="#01b9c7"/><stop offset="0.4745" stop-color="#07bcc0"/><stop offset="0.4838" stop-color="#18bfb6"/><stop offset="0.4977" stop-color="#17bfb6"/><stop offset="0.5023" stop-color="#20c1b1"/><stop offset="0.5162" stop-color="#40ca8d"/><stop offset="0.5625" stop-color="#46cb88"/><stop offset="0.5949" stop-color="#4ecc81"/><stop offset="0.6042" stop-color="#6dcd68"/><stop offset="0.6134" stop-color="#93ca4b"/><stop offset="0.7106" stop-color="#96ca48"/><stop offset="0.7153" stop-color="#a9c73a"/><stop offset="0.7292" stop-color="#c6c22a"/><stop offset="0.7431" stop-color="#dfbc2a"/><stop offset="0.7616" stop-color="#f9bb3d"/><stop offset="0.7708" stop-color="#fec13a"/><stop offset="0.7894" stop-color="#fbd22f"/><stop offset="0.8542" stop-color="#f7dc2a"/><stop offset="0.9005" stop-color="#f5e227"/><stop offset="1.0000" stop-color="#f5ea24"/></linearGradient><linearGradient id="g139" gradientUnits="userSpaceOnUse" x1="62" x2="278" y1="0" y2="0"><stop offset="0.0000" stop-color="#3e26a9"/><stop offset="0.0764" stop-color="#463ddf"/><stop offset="0.1412" stop-color="#4755f6"/><stop offset="0.2106" stop-color="#3f6fff"/><stop offset="0.2523" stop-color="#2e84f8"/><stop offset="0.2755" stop-color="#2c90f0"/><stop offset="0.3032" stop-color="#2c90f0"/><stop offset="0.3218" stop-color="#23a0e5"/><stop offset="0.3773" stop-color="#23a0e5"/><stop offset="0.4005" stop-color="#1fa6e2"/><stop offset="0.4144" stop-color="#1ea7e1"/><stop offset="0.4190" stop-color="#19addc"/><stop offset="0.4282" stop-color="#01b9c7"/><stop offset="0.4421" stop-color="#02bac5"/><stop offset="0.4653" stop-color="#01b9c7"/><stop offset="0.4745" stop-color="#06bcc0"/><stop offset="0.4838" stop-color="#18bfb6"/><stop offset="0.5023" stop-color="#15bfb7"/><stop offset="0.5116" stop-color="#2dc4a6"/><stop offset="0.5208" stop-color="#3fca8e"/><stop offset="0.5671" stop-color="#45cb88"/><stop offset="0.5949" stop-color="#4ccb83"/><stop offset="0.6088" stop-color="#7fcc5a"/><stop offset="0.6134" stop-color="#92ca4b"/><stop offset="0.7106" stop-color="#96ca48"/><stop offset="0.7199" stop-color="#afc637"/><stop offset="0.7338" stop-color="#cbc129"/><stop offset="0.7477" stop-color="#e3bc2c"/><stop offset="0.7616" stop-color="#f6ba3b"/><stop offset="0.7755" stop-color="#fec338"/><stop offset="0.7940" stop-color="#fbd22f"/><stop offset="0.8588" stop-color="#f7db2a"/><stop offset="0.9190" stop-color="#f5e327"/><stop offset="1.0000" stop-color="#f5ea24"/></linearGradient><linearGradient id="g140" gradientUnits="userSpaceOnUse" x1="62" x2="278" y1="0" y2="0"><stop offset="0.0000" stop-color="#3e26a8"/><stop offset="0.0764" stop-color="#463cde"/><stop offset="0.1458" stop-color="#4756f6"/><stop offset="0.2153" stop-color="#3e6fff"/><stop offset="0.2569" stop-color="#2e85f8"/><stop offset="0.2801" stop-color="#2c8ff0"/><stop offset="0.3079" stop-color="#2c90f0"/><stop offset="0.3264" stop-color="#239fe5"/><stop offset="0.3773" stop-color="#23a0e5"/><stop offset="0.4005" stop-color="#1fa6e2"/><stop offset="0.4190" stop-color="#1fa6e2"/><stop offset="0.4282" stop-color="#10b2d5"/><stop offset="0.4329" stop-color="#01b8ca"/><stop offset="0.4375" stop-color="#02bac4"/><stop offset="0.4653" stop-color="#01b9c8"/><stop offset="0.4745" stop-color="#06bcc0"/><stop offset="0.4838" stop-color="#17bfb6"/><stop offset="0.5069" stop-color="#13beb8"/><stop offset="0.5162" stop-color="#2dc4a6"/><stop offset="0.5255" stop-color="#3eca90"/><stop offset="0.5903" stop-color="#4acb85"/><stop offset="0.5949" stop-color="#4bcb84"/><stop offset="0.6042" stop-color="#6bcd69"/><stop offset="0.6134" stop-color="#91ca4c"/><stop offset="0.7153" stop-color="#96ca48"/><stop offset="0.7199" stop-color="#aac73a"/><stop offset="0.7384" stop-color="#cac129"/><stop offset="0.7523" stop-color="#dfbc2a"/><stop offset="0.7755" stop-color="#fabb3d"/><stop offset="0.7940" stop-color="#fec835"/><stop offset="0.8079" stop-color="#fcd030"/><stop offset="0.8727" stop-color="#f9d72c"/><stop offset="0.9236" stop-color="#f5e228"/><stop offset="1.0000" stop-color="#f5e825"/></linearGradient><linearGradient id="g141" gradientUnits="userSpaceOnUse" x1="62" x2="278" y1="0" y2="0"><stop offset="0.0000" stop-color="#3e26a8"/><stop offset="0.0810" stop-color="#463de0"/><stop offset="0.1505" stop-color="#4756f7"/><stop offset="0.2153" stop-color="#3f6eff"/><stop offset="0.2569" stop-color="#2e83f9"/><stop offset="0.2801" stop-color="#2c8ff0"/><stop offset="0.3125" stop-color="#2b91ef"/><stop offset="0.3264" stop-color="#249fe5"/><stop offset="0.3773" stop-color="#23a0e5"/><stop offset="0.4005" stop-color="#1fa6e2"/><stop offset="0.4236" stop-color="#1fa5e2"/><stop offset="0.4329" stop-color="#12b1d7"/><stop offset="0.4375" stop-color="#04b6cc"/><stop offset="0.4421" stop-color="#01bac5"/><stop offset="0.4653" stop-color="#01b9c8"/><stop offset="0.4745" stop-color="#06bbc1"/><stop offset="0.4838" stop-color="#17bfb7"/><stop offset="0.5116" stop-color="#12beb9"/><stop offset="0.5208" stop-color="#2dc4a6"/><stop offset="0.5301" stop-color="#3cc991"/><stop offset="0.5949" stop-color="#4acb85"/><stop offset="0.6042" stop-color="#6acd6a"/><stop offset="0.6134" stop-color="#91ca4d"/><stop offset="0.7153" stop-color="#95ca49"/><stop offset="0.7199" stop-color="#a6c83d"/><stop offset="0.7431" stop-color="#c7c12a"/><stop offset="0.7616" stop-color="#debd29"/><stop offset="0.7894" stop-color="#f9bb3d"/><stop offset="0.8079" stop-color="#fec438"/><stop offset="0.8264" stop-color="#fdce31"/><stop offset="0.8958" stop-color="#fbd32f"/><stop offset="0.9468" stop-color="#f5e128"/><stop offset="1.0000" stop-color="#f5e526"/></linearGradient><linearGradient id="g142" gradientUnits="userSpaceOnUse" x1="62" x2="278" y1="0" y2="0"><stop offset="0.0000" stop-color="#3e26a8"/><stop offset="0.0810" stop-color="#463cdf"/><stop offset="0.1505" stop-color="#4756f6"/><stop offset="0.2199" stop-color="#3e6fff"/><stop offset="0.2616" stop-color="#2e84f8"/><stop offset="0.2847" stop-color="#2c8ff0"/><stop offset="0.3125" stop-color="#2c90f0"/><stop offset="0.3310" stop-color="#239fe5"/><stop offset="0.3773" stop-color="#23a0e5"/><stop offset="0.4005" stop-color="#1fa6e2"/><stop offset="0.4282" stop-color="#20a5e2"/><stop offset="0.4375" stop-color="#15afd8"/><stop offset="0.4421" stop-color="#07b5d0"/><stop offset="0.4468" stop-color="#01b9c6"/><stop offset="0.4653" stop-color="#01b8c8"/><stop offset="0.4745" stop-color="#05bbc1"/><stop offset="0.4838" stop-color="#16bfb7"/><stop offset="0.5162" stop-color="#10beba"/><stop offset="0.5255" stop-color="#2dc4a6"/><stop offset="0.5347" stop-color="#3bc992"/><stop offset="0.5949" stop-color="#48cb86"/><stop offset="0.6042" stop-color="#68cd6b"/><stop offset="0.6134" stop-color="#90ca4d"/><stop offset="0.7153" stop-color="#95ca49"/><stop offset="0.7292" stop-color="#b1c636"/><stop offset="0.7477" stop-color="#cbc129"/><stop offset="0.7662" stop-color="#e1bc2b"/><stop offset="0.7894" stop-color="#f8ba3d"/><stop offset="0.8032" stop-color="#fec03b"/><stop offset="0.8310" stop-color="#fdce31"/><stop offset="0.8958" stop-color="#fbd22f"/><stop offset="0.9468" stop-color="#f5e128"/><stop offset="1.0000" stop-color="#f5e526"/></linearGradient><linearGradient id="g143" gradientUnits="userSpaceOnUse" x1="62" x2="278" y1="0" y2="0"><stop offset="0.0000" stop-color="#3e26a8"/><stop offset="0.0856" stop-color="#463de0"/><stop offset="0.1597" stop-color="#4758f8"/><stop offset="0.2245" stop-color="#3e70ff"/><stop offset="0.2662" stop-color="#2e85f8"/><stop offset="0.2894" stop-color="#2c8ff0"/><stop offset="0.3171" stop-color="#2c90f0"/><stop offset="0.3356" stop-color="#249fe6"/><stop offset="0.3773" stop-color="#23a0e5"/><stop offset="0.4005" stop-color="#1fa5e2"/><stop offset="0.4514" stop-color="#20a4e3"/><stop offset="0.4606" stop-color="#17aeda"/><stop offset="0.4699" stop-color="#01b9c7"/><stop offset="0.4792" stop-color="#0abdbe"/><stop offset="0.4838" stop-color="#13beb8"/><stop offset="0.5347" stop-color="#0abdbd"/><stop offset="0.5394" stop-color="#20c1b1"/><stop offset="0.5486" stop-color="#38c896"/><stop offset="0.5949" stop-color="#43ca8a"/><stop offset="0.6042" stop-color="#62cd70"/><stop offset="0.6134" stop-color="#8bcb51"/><stop offset="0.7199" stop-color="#94ca4a"/><stop offset="0.7245" stop-color="#a7c73c"/><stop offset="0.7477" stop-color="#c8c129"/><stop offset="0.7662" stop-color="#dfbc2a"/><stop offset="0.7940" stop-color="#f9bb3d"/><stop offset="0.8125" stop-color="#fec437"/><stop offset="0.8310" stop-color="#fdce31"/><stop offset="0.8958" stop-color="#fbd22f"/><stop offset="0.9468" stop-color="#f5e128"/><stop offset="1.0000" stop-color="#f5e526"/></linearGradient><linearGradient id="g144" gradientUnits="userSpaceOnUse" x1="62" x2="278" y1="0" y2="0"><stop offset="0.0000" stop-color="#3e26a8"/><stop offset="0.0208" stop-color="#402ab5"/><stop offset="0.0856" stop-color="#463ddf"/><stop offset="0.1551" stop-color="#4756f6"/><stop offset="0.2245" stop-color="#3f6eff"/><stop offset="0.2708" stop-color="#2e86f8"/><stop offset="0.2940" stop-color="#2c8ff0"/><stop offset="0.3218" stop-color="#2c8ff0"/><stop offset="0.3403" stop-color="#249fe5"/><stop offset="0.3773" stop-color="#23a0e5"/><stop offset="0.4005" stop-color="#1fa5e2"/><stop offset="0.4514" stop-color="#21a3e3"/><stop offset="0.4653" stop-color="#12b1d7"/><stop offset="0.4699" stop-color="#01b9c7"/><stop offset="0.4792" stop-color="#0abdbe"/><stop offset="0.4838" stop-color="#13beb9"/><stop offset="0.5347" stop-color="#0abdbe"/><stop offset="0.5440" stop-color="#2ac3a9"/><stop offset="0.5486" stop-color="#34c79b"/><stop offset="0.5532" stop-color="#39c895"/><stop offset="0.5949" stop-color="#43ca8b"/><stop offset="0.6042" stop-color="#61cd71"/><stop offset="0.6134" stop-color="#8acb52"/><stop offset="0.6782" stop-color="#91ca4c"/><stop offset="0.7199" stop-color="#94ca4a"/><stop offset="0.7245" stop-color="#a4c83e"/><stop offset="0.7477" stop-color="#c5c22a"/><stop offset="0.7662" stop-color="#dcbd29"/><stop offset="0.7940" stop-color="#f8ba3d"/><stop offset="0.8079" stop-color="#fec03a"/><stop offset="0.8310" stop-color="#fdcd31"/><stop offset="0.8958" stop-color="#fcd12f"/><stop offset="0.9514" stop-color="#f5e128"/><stop offset="1.0000" stop-color="#f5e526"/></linearGradient><linearGradient id="g145" gradientUnits="userSpaceOnUse" x1="62" x2="278" y1="0" y2="0"><stop offset="0.0000" stop-color="#3e26a8"/><stop offset="0.0162" stop-color="#3f29b0"/><stop offset="0.0856" stop-color="#463cdf"/><stop offset="0.1551" stop-color="#4755f6"/><stop offset="0.2292" stop-color="#3f6fff"/><stop offset="0.2708" stop-color="#2e83f9"/><stop offset="0.2940" stop-color="#2c8ff1"/><stop offset="0.3264" stop-color="#2b91ef"/><stop offset="0.3449" stop-color="#249fe5"/><stop offset="0.3773" stop-color="#23a0e5"/><stop offset="0.4005" stop-color="#1fa5e2"/><stop offset="0.4514" stop-color="#21a3e3"/><stop offset="0.4653" stop-color="#15afd8"/><stop offset="0.4699" stop-color="#01b8ca"/><stop offset="0.4792" stop-color="#09bdbe"/><stop offset="0.4838" stop-color="#13beb9"/><stop offset="0.5347" stop-color="#09bdbe"/><stop offset="0.5394" stop-color="#12beb9"/><stop offset="0.5440" stop-color="#26c2ad"/><stop offset="0.5532" stop-color="#39c895"/><stop offset="0.5949" stop-color="#42ca8b"/><stop offset="0.6042" stop-color="#61cd72"/><stop offset="0.6134" stop-color="#89cb53"/><stop offset="0.6597" stop-color="#8fca4d"/><stop offset="0.7199" stop-color="#93ca4a"/><stop offset="0.7245" stop-color="#99c946"/><stop offset="0.7292" stop-color="#a8c73b"/><stop offset="0.7523" stop-color="#c9c129"/><stop offset="0.7708" stop-color="#dfbc2a"/><stop offset="0.7986" stop-color="#fabb3d"/><stop offset="0.8171" stop-color="#fec537"/><stop offset="0.8356" stop-color="#fdcd31"/><stop offset="0.9005" stop-color="#fbd22f"/><stop offset="0.9514" stop-color="#f5e128"/><stop offset="1.0000" stop-color="#f5e526"/></linearGradient><linearGradient id="g146" gradientUnits="userSpaceOnUse" x1="62" x2="278" y1="0" y2="0"><stop offset="0.0000" stop-color="#3e26a8"/><stop offset="0.0116" stop-color="#3e27ac"/><stop offset="0.0856" stop-color="#463cde"/><stop offset="0.1551" stop-color="#4854f5"/><stop offset="0.2338" stop-color="#3e6fff"/><stop offset="0.2755" stop-color="#2e84f8"/><stop offset="0.2986" stop-color="#2c8ff1"/><stop offset="0.3264" stop-color="#2c8ff0"/><stop offset="0.3449" stop-color="#249ee6"/><stop offset="0.3819" stop-color="#22a2e4"/><stop offset="0.4051" stop-color="#1fa5e2"/><stop offset="0.4560" stop-color="#20a4e3"/><stop offset="0.4653" stop-color="#17aeda"/><stop offset="0.4699" stop-color="#06b5cf"/><stop offset="0.4745" stop-color="#03bbc3"/><stop offset="0.4838" stop-color="#12beb9"/><stop offset="0.5394" stop-color="#0abdbd"/><stop offset="0.5440" stop-color="#20c1b1"/><stop offset="0.5532" stop-color="#38c896"/><stop offset="0.5949" stop-color="#41ca8c"/><stop offset="0.6042" stop-color="#60cd72"/><stop offset="0.6134" stop-color="#88cb53"/><stop offset="0.6505" stop-color="#8ecb4e"/><stop offset="0.7245" stop-color="#93ca4a"/><stop offset="0.7292" stop-color="#a5c83d"/><stop offset="0.7523" stop-color="#c6c22a"/><stop offset="0.7708" stop-color="#ddbd29"/><stop offset="0.7986" stop-color="#f9ba3d"/><stop offset="0.8125" stop-color="#fec13a"/><stop offset="0.8356" stop-color="#fdcd32"/><stop offset="0.9005" stop-color="#fbd12f"/><stop offset="0.9560" stop-color="#f5e128"/><stop offset="1.0000" stop-color="#f5e526"/></linearGradient><linearGradient id="g147" gradientUnits="userSpaceOnUse" x1="62" x2="278" y1="0" y2="0"><stop offset="0.0000" stop-color="#3e26a8"/><stop offset="0.0116" stop-color="#3e27ab"/><stop offset="0.0903" stop-color="#463ddf"/><stop offset="0.1644" stop-color="#4756f7"/><stop offset="0.2384" stop-color="#3e6fff"/><stop offset="0.2847" stop-color="#2e86f7"/><stop offset="0.3032" stop-color="#2c8ff1"/><stop offset="0.3356" stop-color="#2c8ff1"/><stop offset="0.3542" stop-color="#249fe6"/><stop offset="0.3819" stop-color="#22a2e4"/><stop offset="0.4051" stop-color="#1fa5e2"/><stop offset="0.4560" stop-color="#21a2e4"/><stop offset="0.4653" stop-color="#19acdc"/><stop offset="0.4699" stop-color="#0db3d3"/><stop offset="0.4745" stop-color="#03bbc3"/><stop offset="0.4838" stop-color="#12beb9"/><stop offset="0.5394" stop-color="#08bcbe"/><stop offset="0.5486" stop-color="#2bc3a8"/><stop offset="0.5532" stop-color="#35c79a"/><stop offset="0.5625" stop-color="#3ac994"/><stop offset="0.5949" stop-color="#41ca8c"/><stop offset="0.6042" stop-color="#5fcd73"/><stop offset="0.6134" stop-color="#87cb54"/><stop offset="0.6412" stop-color="#8dcb4f"/><stop offset="0.7245" stop-color="#93ca4b"/><stop offset="0.7292" stop-color="#a2c840"/><stop offset="0.7569" stop-color="#cac129"/><stop offset="0.7755" stop-color="#e0bc2a"/><stop offset="0.8032" stop-color="#fabb3d"/><stop offset="0.8264" stop-color="#fec835"/><stop offset="0.8449" stop-color="#fdcd32"/><stop offset="0.9005" stop-color="#fcd12f"/><stop offset="0.9560" stop-color="#f5e128"/><stop offset="1.0000" stop-color="#f5e526"/></linearGradient><linearGradient id="g148" gradientUnits="userSpaceOnUse" x1="62" x2="278" y1="0" y2="0"><stop offset="0.0000" stop-color="#3e26a8"/><stop offset="0.0162" stop-color="#3f28ae"/><stop offset="0.0903" stop-color="#463cde"/><stop offset="0.1597" stop-color="#4854f5"/><stop offset="0.2384" stop-color="#3f6efe"/><stop offset="0.2894" stop-color="#2e85f8"/><stop offset="0.3125" stop-color="#2c8ef1"/><stop offset="0.3449" stop-color="#2c8ff1"/><stop offset="0.3634" stop-color="#249ee6"/><stop offset="0.4051" stop-color="#1fa5e2"/><stop offset="0.4606" stop-color="#20a4e3"/><stop offset="0.4653" stop-color="#1baade"/><stop offset="0.4699" stop-color="#11b1d6"/><stop offset="0.4745" stop-color="#02bac4"/><stop offset="0.4838" stop-color="#12beb9"/><stop offset="0.5440" stop-color="#08bcbf"/><stop offset="0.5532" stop-color="#28c2ab"/><stop offset="0.5625" stop-color="#38c896"/><stop offset="0.5949" stop-color="#3eca8f"/><stop offset="0.6042" stop-color="#5bcc77"/><stop offset="0.6134" stop-color="#81cc58"/><stop offset="0.6458" stop-color="#8bcb51"/><stop offset="0.7384" stop-color="#90ca4d"/><stop offset="0.7431" stop-color="#95ca49"/><stop offset="0.7477" stop-color="#a4c83e"/><stop offset="0.7708" stop-color="#c9c129"/><stop offset="0.7894" stop-color="#e1bc2b"/><stop offset="0.8125" stop-color="#f9bb3d"/><stop offset="0.8310" stop-color="#fec537"/><stop offset="0.8449" stop-color="#fdcc32"/><stop offset="0.9051" stop-color="#fbd22f"/><stop offset="0.9560" stop-color="#f5e128"/><stop offset="1.0000" stop-color="#f5e426"/></linearGradient><linearGradient id="g149" gradientUnits="userSpaceOnUse" x1="62" x2="278" y1="0" y2="0"><stop offset="0.0000" stop-color="#3e26a8"/><stop offset="0.0162" stop-color="#3f28ad"/><stop offset="0.0949" stop-color="#463de0"/><stop offset="0.1690" stop-color="#4756f7"/><stop offset="0.2477" stop-color="#3e70ff"/><stop offset="0.3032" stop-color="#2e86f7"/><stop offset="0.3264" stop-color="#2c8ef1"/><stop offset="0.3634" stop-color="#2c8ef1"/><stop offset="0.3819" stop-color="#22a1e4"/><stop offset="0.4051" stop-color="#20a5e2"/><stop offset="0.4606" stop-color="#22a2e4"/><stop offset="0.4653" stop-color="#1ea7e1"/><stop offset="0.4699" stop-color="#15afd9"/><stop offset="0.4745" stop-color="#01b8c9"/><stop offset="0.4792" stop-color="#09bcbe"/><stop offset="0.4838" stop-color="#12beb9"/><stop offset="0.5532" stop-color="#07bcbf"/><stop offset="0.5625" stop-color="#25c2ad"/><stop offset="0.5718" stop-color="#37c898"/><stop offset="0.5949" stop-color="#3ac993"/><stop offset="0.5995" stop-color="#45cb89"/><stop offset="0.6134" stop-color="#79cc5f"/><stop offset="0.6644" stop-color="#87cb54"/><stop offset="0.7708" stop-color="#8acb52"/><stop offset="0.7755" stop-color="#9cc944"/><stop offset="0.7940" stop-color="#c1c32c"/><stop offset="0.8079" stop-color="#d9bd28"/><stop offset="0.8218" stop-color="#eeba34"/><stop offset="0.8310" stop-color="#f9bb3d"/><stop offset="0.8449" stop-color="#fec437"/><stop offset="0.8588" stop-color="#fdcb33"/><stop offset="0.9097" stop-color="#fbd32e"/><stop offset="0.9606" stop-color="#f5e128"/><stop offset="1.0000" stop-color="#f5e426"/></linearGradient><linearGradient id="g150" gradientUnits="userSpaceOnUse" x1="62" x2="278" y1="0" y2="0"><stop offset="0.0000" stop-color="#3e26a8"/><stop offset="0.0162" stop-color="#3e28ac"/><stop offset="0.0949" stop-color="#463cdf"/><stop offset="0.1690" stop-color="#4755f6"/><stop offset="0.2477" stop-color="#3f6eff"/><stop offset="0.3079" stop-color="#2e86f7"/><stop offset="0.3310" stop-color="#2c8ef1"/><stop offset="0.3727" stop-color="#2b90f0"/><stop offset="0.3866" stop-color="#21a3e3"/><stop offset="0.4653" stop-color="#20a4e3"/><stop offset="0.4699" stop-color="#19addc"/><stop offset="0.4745" stop-color="#05b6ce"/><stop offset="0.4792" stop-color="#09bcbe"/><stop offset="0.4838" stop-color="#11beb9"/><stop offset="0.5532" stop-color="#07bcc0"/><stop offset="0.5579" stop-color="#0bbdbd"/><stop offset="0.5625" stop-color="#1dc0b3"/><stop offset="0.5671" stop-color="#2bc3a8"/><stop offset="0.5718" stop-color="#33c79c"/><stop offset="0.5810" stop-color="#37c897"/><stop offset="0.5949" stop-color="#3ac994"/><stop offset="0.5995" stop-color="#44ca8a"/><stop offset="0.6134" stop-color="#77cc60"/><stop offset="0.6690" stop-color="#86cb55"/><stop offset="0.7755" stop-color="#89cb53"/><stop offset="0.7801" stop-color="#9bc944"/><stop offset="0.7986" stop-color="#c2c22c"/><stop offset="0.8125" stop-color="#dabd28"/><stop offset="0.8356" stop-color="#fabb3d"/><stop offset="0.8449" stop-color="#fec13a"/><stop offset="0.8588" stop-color="#fdcb33"/><stop offset="0.9097" stop-color="#fbd22f"/><stop offset="0.9606" stop-color="#f5e128"/><stop offset="1.0000" stop-color="#f5e427"/></linearGradient><linearGradient id="g151" gradientUnits="userSpaceOnUse" x1="62" x2="278" y1="0" y2="0"><stop offset="0.0000" stop-color="#3e26a8"/><stop offset="0.0162" stop-color="#3e27ab"/><stop offset="0.0949" stop-color="#463cde"/><stop offset="0.1690" stop-color="#4854f5"/><stop offset="0.2523" stop-color="#3f6fff"/><stop offset="0.3125" stop-color="#2e86f7"/><stop offset="0.3356" stop-color="#2c8ef2"/><stop offset="0.3727" stop-color="#2c8ef1"/><stop offset="0.3912" stop-color="#20a5e2"/><stop offset="0.4653" stop-color="#22a2e4"/><stop offset="0.4699" stop-color="#1babde"/><stop offset="0.4745" stop-color="#0ab4d2"/><stop offset="0.4792" stop-color="#03bbc2"/><stop offset="0.4838" stop-color="#11beba"/><stop offset="0.5579" stop-color="#05bbc1"/><stop offset="0.5856" stop-color="#04bbc2"/><stop offset="0.5949" stop-color="#1bc0b4"/><stop offset="0.6042" stop-color="#3bc993"/><stop offset="0.6088" stop-color="#54cc7d"/><stop offset="0.6134" stop-color="#64cd6f"/><stop offset="0.7338" stop-color="#78cc5f"/><stop offset="0.8773" stop-color="#73cd63"/><stop offset="0.8819" stop-color="#77cc60"/><stop offset="0.8866" stop-color="#b3c534"/><stop offset="0.8912" stop-color="#eeba34"/><stop offset="0.8958" stop-color="#fec835"/><stop offset="0.9051" stop-color="#fcd030"/><stop offset="0.9653" stop-color="#f5e128"/><stop offset="1.0000" stop-color="#f5e427"/></linearGradient><linearGradient id="g152" gradientUnits="userSpaceOnUse" x1="62" x2="278" y1="0" y2="0"><stop offset="0.0000" stop-color="#3e26a8"/><stop offset="0.0162" stop-color="#3e27aa"/><stop offset="0.0995" stop-color="#463cdf"/><stop offset="0.1736" stop-color="#4755f6"/><stop offset="0.2569" stop-color="#3e6fff"/><stop offset="0.3171" stop-color="#2e86f7"/><stop offset="0.3449" stop-color="#2c8ef2"/><stop offset="0.3773" stop-color="#2c8ff0"/><stop offset="0.3912" stop-color="#20a5e3"/><stop offset="0.4653" stop-color="#22a2e4"/><stop offset="0.4699" stop-color="#1da8e0"/><stop offset="0.4792" stop-color="#01b9c6"/><stop offset="0.4838" stop-color="#11beba"/><stop offset="0.5579" stop-color="#05bbc1"/><stop offset="0.5856" stop-color="#04bbc2"/><stop offset="0.5903" stop-color="#08bcbe"/><stop offset="0.5949" stop-color="#16bfb7"/><stop offset="0.5995" stop-color="#2ac3a9"/><stop offset="0.6042" stop-color="#37c898"/><stop offset="0.6134" stop-color="#63cd6f"/><stop offset="0.7338" stop-color="#77cc60"/><stop offset="0.8819" stop-color="#72cd63"/><stop offset="0.8866" stop-color="#83cc57"/><stop offset="0.8912" stop-color="#d0bf27"/><stop offset="0.8958" stop-color="#fec239"/><stop offset="0.9005" stop-color="#fdcc32"/><stop offset="0.9606" stop-color="#f6e128"/><stop offset="1.0000" stop-color="#f5e427"/></linearGradient><linearGradient id="g153" gradientUnits="userSpaceOnUse" x1="62" x2="278" y1="0" y2="0"><stop offset="0.0000" stop-color="#3e26a8"/><stop offset="0.0208" stop-color="#3e28ac"/><stop offset="0.1042" stop-color="#463de0"/><stop offset="0.1829" stop-color="#4757f7"/><stop offset="0.2616" stop-color="#3e70ff"/><stop offset="0.3171" stop-color="#2e85f8"/><stop offset="0.3403" stop-color="#2c8ef2"/><stop offset="0.3773" stop-color="#2c8ff0"/><stop offset="0.3866" stop-color="#269be8"/><stop offset="0.3912" stop-color="#22a2e4"/><stop offset="0.4421" stop-color="#21a3e3"/><stop offset="0.4653" stop-color="#22a1e4"/><stop offset="0.4699" stop-color="#20a5e2"/><stop offset="0.4745" stop-color="#15afd9"/><stop offset="0.4792" stop-color="#01b8ca"/><stop offset="0.4838" stop-color="#10beba"/><stop offset="0.5579" stop-color="#05bbc1"/><stop offset="0.5903" stop-color="#04bbc2"/><stop offset="0.5949" stop-color="#0fbeba"/><stop offset="0.5995" stop-color="#26c2ad"/><stop offset="0.6088" stop-color="#47cb87"/><stop offset="0.6134" stop-color="#63cd70"/><stop offset="0.7384" stop-color="#77cc60"/><stop offset="0.8866" stop-color="#71cd64"/><stop offset="0.8912" stop-color="#a3c83e"/><stop offset="0.8958" stop-color="#eeba34"/><stop offset="0.9005" stop-color="#fec934"/><stop offset="0.9097" stop-color="#fcd130"/><stop offset="0.9653" stop-color="#f5e128"/><stop offset="1.0000" stop-color="#f5e427"/></linearGradient><linearGradient id="g154" gradientUnits="userSpaceOnUse" x1="62" x2="278" y1="0" y2="0"><stop offset="0.0000" stop-color="#3e26a8"/><stop offset="0.0208" stop-color="#3e27ab"/><stop offset="0.1042" stop-color="#463cdf"/><stop offset="0.1829" stop-color="#4756f7"/><stop offset="0.2616" stop-color="#3f6fff"/><stop offset="0.3218" stop-color="#2e86f7"/><stop offset="0.3449" stop-color="#2c8ef2"/><stop offset="0.3819" stop-color="#2b91ef"/><stop offset="0.3958" stop-color="#20a5e2"/><stop offset="0.4699" stop-color="#21a3e3"/><stop offset="0.4745" stop-color="#19addc"/><stop offset="0.4792" stop-color="#05b6ce"/><stop offset="0.4838" stop-color="#09bcbe"/><stop offset="0.4884" stop-color="#11beb9"/><stop offset="0.5532" stop-color="#05bbc1"/><stop offset="0.5903" stop-color="#03bbc2"/><stop offset="0.5949" stop-color="#09bdbe"/><stop offset="0.5995" stop-color="#21c1b0"/><stop offset="0.6088" stop-color="#41ca8c"/><stop offset="0.6134" stop-color="#5dcc75"/><stop offset="0.6227" stop-color="#64cd6f"/><stop offset="0.7431" stop-color="#76cc60"/><stop offset="0.8866" stop-color="#71cd64"/><stop offset="0.8912" stop-color="#78cc5f"/><stop offset="0.8958" stop-color="#c8c129"/><stop offset="0.9005" stop-color="#fec537"/><stop offset="0.9051" stop-color="#fdce31"/><stop offset="0.9699" stop-color="#f5e128"/><stop offset="1.0000" stop-color="#f5e427"/></linearGradient><linearGradient id="g155" gradientUnits="userSpaceOnUse" x1="62" x2="278" y1="0" y2="0"><stop offset="0.0000" stop-color="#3e26a8"/><stop offset="0.0208" stop-color="#3e27aa"/><stop offset="0.1042" stop-color="#463cde"/><stop offset="0.1829" stop-color="#4755f6"/><stop offset="0.2662" stop-color="#3e6fff"/><stop offset="0.3218" stop-color="#2e85f8"/><stop offset="0.3449" stop-color="#2c8ef2"/><stop offset="0.3819" stop-color="#2b91ef"/><stop offset="0.3958" stop-color="#20a4e3"/><stop offset="0.4699" stop-color="#21a3e3"/><stop offset="0.4745" stop-color="#1caadf"/><stop offset="0.4792" stop-color="#0bb3d2"/><stop offset="0.4838" stop-color="#03bbc2"/><stop offset="0.4884" stop-color="#11beb9"/><stop offset="0.5532" stop-color="#05bbc1"/><stop offset="0.5949" stop-color="#06bbc1"/><stop offset="0.6042" stop-color="#2ec5a4"/><stop offset="0.6088" stop-color="#3dc991"/><stop offset="0.6134" stop-color="#57cc7a"/><stop offset="0.6181" stop-color="#62cd70"/><stop offset="0.7431" stop-color="#76cc61"/><stop offset="0.8912" stop-color="#70cd65"/><stop offset="0.8958" stop-color="#9fc942"/><stop offset="0.9005" stop-color="#f4ba39"/><stop offset="0.9051" stop-color="#fdcb33"/><stop offset="0.9606" stop-color="#f6e028"/><stop offset="1.0000" stop-color="#f5e327"/></linearGradient><linearGradient id="g156" gradientUnits="userSpaceOnUse" x1="62" x2="278" y1="0" y2="0"><stop offset="0.0000" stop-color="#3e26a8"/><stop offset="0.0208" stop-color="#3e27a9"/><stop offset="0.1088" stop-color="#463cdf"/><stop offset="0.1921" stop-color="#4757f7"/><stop offset="0.2708" stop-color="#3e70ff"/><stop offset="0.3264" stop-color="#2e86f7"/><stop offset="0.3495" stop-color="#2d8df2"/><stop offset="0.3819" stop-color="#2b91ef"/><stop offset="0.3866" stop-color="#2994ed"/><stop offset="0.4005" stop-color="#20a5e2"/><stop offset="0.4699" stop-color="#21a3e3"/><stop offset="0.4745" stop-color="#1fa5e2"/><stop offset="0.4792" stop-color="#19addc"/><stop offset="0.4838" stop-color="#05b6ce"/><stop offset="0.4884" stop-color="#04bbc2"/><stop offset="0.4931" stop-color="#0fbeba"/><stop offset="0.5579" stop-color="#04bbc1"/><stop offset="0.5949" stop-color="#03bbc2"/><stop offset="0.5995" stop-color="#11beba"/><stop offset="0.6042" stop-color="#28c3aa"/><stop offset="0.6088" stop-color="#36c799"/><stop offset="0.6134" stop-color="#4bcb84"/><stop offset="0.6181" stop-color="#5acc77"/><stop offset="0.6227" stop-color="#62cd71"/><stop offset="0.7477" stop-color="#75cc61"/><stop offset="0.8912" stop-color="#70cd65"/><stop offset="0.8958" stop-color="#7ecc5b"/><stop offset="0.9005" stop-color="#b0c636"/><stop offset="0.9051" stop-color="#dbbd29"/><stop offset="0.9097" stop-color="#fbbc3d"/><stop offset="0.9144" stop-color="#fec835"/><stop offset="0.9329" stop-color="#fbd22f"/><stop offset="0.9838" stop-color="#f5e128"/><stop offset="1.0000" stop-color="#f5e227"/></linearGradient><linearGradient id="g157" gradientUnits="userSpaceOnUse" x1="62" x2="278" y1="0" y2="0"><stop offset="0.0000" stop-color="#3e26a8"/><stop offset="0.0208" stop-color="#3e26a8"/><stop offset="0.1088" stop-color="#463bde"/><stop offset="0.1875" stop-color="#4755f6"/><stop offset="0.2708" stop-color="#3f6fff"/><stop offset="0.3264" stop-color="#2e85f8"/><stop offset="0.3495" stop-color="#2d8df2"/><stop offset="0.3819" stop-color="#2b91ef"/><stop offset="0.3912" stop-color="#2699e9"/><stop offset="0.4051" stop-color="#20a5e3"/><stop offset="0.4699" stop-color="#21a3e4"/><stop offset="0.4884" stop-color="#1caadf"/><stop offset="0.4931" stop-color="#1caadf"/><stop offset="0.4977" stop-color="#15afd8"/><stop offset="0.5023" stop-color="#07b5d0"/><stop offset="0.5069" stop-color="#01bac6"/><stop offset="0.5116" stop-color="#09bcbe"/><stop offset="0.5764" stop-color="#03bbc3"/><stop offset="0.5949" stop-color="#02bbc3"/><stop offset="0.6042" stop-color="#16bfb7"/><stop offset="0.6134" stop-color="#2dc4a5"/><stop offset="0.6227" stop-color="#3dc990"/><stop offset="0.6319" stop-color="#5acc77"/><stop offset="0.6412" stop-color="#61cd72"/><stop offset="0.7523" stop-color="#73cd62"/><stop offset="0.8912" stop-color="#70cd65"/><stop offset="0.8958" stop-color="#73cd63"/><stop offset="0.9005" stop-color="#8bcb51"/><stop offset="0.9144" stop-color="#bfc32d"/><stop offset="0.9190" stop-color="#cfc028"/><stop offset="0.9236" stop-color="#ddbd29"/><stop offset="0.9329" stop-color="#f5ba3a"/><stop offset="0.9375" stop-color="#fdbd3d"/><stop offset="0.9468" stop-color="#fec735"/><stop offset="1.0000" stop-color="#f9d82c"/></linearGradient><linearGradient id="g158" gradientUnits="userSpaceOnUse" x1="62" x2="278" y1="0" y2="0"><stop offset="0.0000" stop-color="#3e26a8"/><stop offset="0.0255" stop-color="#3e27ab"/><stop offset="0.1134" stop-color="#463cdf"/><stop offset="0.1968" stop-color="#4757f7"/><stop offset="0.2755" stop-color="#3e6fff"/><stop offset="0.3310" stop-color="#2e86f7"/><stop offset="0.3542" stop-color="#2d8df2"/><stop offset="0.3819" stop-color="#2b91ef"/><stop offset="0.3958" stop-color="#259be8"/><stop offset="0.4051" stop-color="#20a4e3"/><stop offset="0.4699" stop-color="#21a3e4"/><stop offset="0.4884" stop-color="#1caadf"/><stop offset="0.4977" stop-color="#1ca9df"/><stop offset="0.5023" stop-color="#16afda"/><stop offset="0.5116" stop-color="#01b9c8"/><stop offset="0.5162" stop-color="#08bcbf"/><stop offset="0.5903" stop-color="#02bbc3"/><stop offset="0.5949" stop-color="#02bac3"/><stop offset="0.6042" stop-color="#15bfb7"/><stop offset="0.6134" stop-color="#2ac3a9"/><stop offset="0.6181" stop-color="#2ec4a4"/><stop offset="0.6273" stop-color="#3eca8f"/><stop offset="0.6366" stop-color="#5ccc76"/><stop offset="0.7384" stop-color="#72cd64"/><stop offset="0.8958" stop-color="#70cd65"/><stop offset="0.9097" stop-color="#a7c73c"/><stop offset="0.9190" stop-color="#c7c12a"/><stop offset="0.9236" stop-color="#d5be28"/><stop offset="0.9329" stop-color="#eeba34"/><stop offset="0.9375" stop-color="#f8ba3d"/><stop offset="0.9421" stop-color="#febf3b"/><stop offset="0.9468" stop-color="#fec636"/><stop offset="1.0000" stop-color="#f9d62d"/></linearGradient><linearGradient id="g159" gradientUnits="userSpaceOnUse" x1="62" x2="278" y1="0" y2="0"><stop offset="0.0000" stop-color="#3e26a8"/><stop offset="0.0255" stop-color="#3e27aa"/><stop offset="0.1134" stop-color="#463bde"/><stop offset="0.1968" stop-color="#4756f6"/><stop offset="0.2755" stop-color="#3f6eff"/><stop offset="0.3356" stop-color="#2e87f7"/><stop offset="0.3588" stop-color="#2d8df2"/><stop offset="0.3819" stop-color="#2b91ef"/><stop offset="0.4005" stop-color="#259de7"/><stop offset="0.4097" stop-color="#20a4e3"/><stop offset="0.4699" stop-color="#21a2e4"/><stop offset="0.4884" stop-color="#1caadf"/><stop offset="0.5023" stop-color="#1da9e0"/><stop offset="0.5069" stop-color="#18aedb"/><stop offset="0.5162" stop-color="#01b8ca"/><stop offset="0.5208" stop-color="#07bcc0"/><stop offset="0.5949" stop-color="#02bac3"/><stop offset="0.6042" stop-color="#15bfb7"/><stop offset="0.6134" stop-color="#2ac3a9"/><stop offset="0.6181" stop-color="#29c3a9"/><stop offset="0.6273" stop-color="#36c799"/><stop offset="0.6319" stop-color="#3fca8e"/><stop offset="0.6412" stop-color="#5dcc75"/><stop offset="0.7616" stop-color="#72cd63"/><stop offset="0.8958" stop-color="#70cd65"/><stop offset="0.9051" stop-color="#90ca4d"/><stop offset="0.9190" stop-color="#c2c22c"/><stop offset="0.9236" stop-color="#d1bf27"/><stop offset="0.9329" stop-color="#eabb30"/><stop offset="0.9375" stop-color="#f5ba3a"/><stop offset="0.9421" stop-color="#fdbd3d"/><stop offset="0.9514" stop-color="#fec735"/><stop offset="1.0000" stop-color="#fad52d"/></linearGradient><linearGradient id="g160" gradientUnits="userSpaceOnUse" x1="62" x2="278" y1="0" y2="0"><stop offset="0.0000" stop-color="#3e26a8"/><stop offset="0.0255" stop-color="#3e26a9"/><stop offset="0.1181" stop-color="#463cdf"/><stop offset="0.2060" stop-color="#4758f8"/><stop offset="0.2801" stop-color="#3e6fff"/><stop offset="0.3356" stop-color="#2e85f8"/><stop offset="0.3588" stop-color="#2d8df2"/><stop offset="0.3819" stop-color="#2b90ef"/><stop offset="0.3958" stop-color="#2994ed"/><stop offset="0.4144" stop-color="#20a4e3"/><stop offset="0.4699" stop-color="#22a2e4"/><stop offset="0.4884" stop-color="#1caadf"/><stop offset="0.5162" stop-color="#1ea7e1"/><stop offset="0.5255" stop-color="#15afd9"/><stop offset="0.5347" stop-color="#01b9c7"/><stop offset="0.5440" stop-color="#02bbc3"/><stop offset="0.5949" stop-color="#02bac4"/><stop offset="0.5995" stop-color="#08bcbf"/><stop offset="0.6134" stop-color="#29c3aa"/><stop offset="0.6319" stop-color="#28c3aa"/><stop offset="0.6412" stop-color="#38c896"/><stop offset="0.6505" stop-color="#53cc7d"/><stop offset="0.6551" stop-color="#5ccc76"/><stop offset="0.7662" stop-color="#71cd64"/><stop offset="0.8958" stop-color="#70cd65"/><stop offset="0.9005" stop-color="#72cd63"/><stop offset="0.9051" stop-color="#8acb52"/><stop offset="0.9190" stop-color="#bdc32f"/><stop offset="0.9236" stop-color="#ccc028"/><stop offset="0.9329" stop-color="#e6bb2d"/><stop offset="0.9421" stop-color="#fabb3d"/><stop offset="0.9514" stop-color="#fec636"/><stop offset="1.0000" stop-color="#fad52d"/></linearGradient><linearGradient id="g161" gradientUnits="userSpaceOnUse" x1="62" x2="278" y1="0" y2="0"><stop offset="0.0000" stop-color="#3e26a8"/><stop offset="0.0301" stop-color="#3e27ab"/><stop offset="0.1227" stop-color="#463ddf"/><stop offset="0.2106" stop-color="#4758f8"/><stop offset="0.2847" stop-color="#3e6fff"/><stop offset="0.3449" stop-color="#2e87f7"/><stop offset="0.3681" stop-color="#2d8df2"/><stop offset="0.4005" stop-color="#2994ed"/><stop offset="0.4097" stop-color="#2699e9"/><stop offset="0.4236" stop-color="#20a4e3"/><stop offset="0.4699" stop-color="#22a2e4"/><stop offset="0.4884" stop-color="#1caadf"/><stop offset="0.5347" stop-color="#1ea7e1"/><stop offset="0.5440" stop-color="#11b1d6"/><stop offset="0.5486" stop-color="#04b6cd"/><stop offset="0.5532" stop-color="#02bac4"/><stop offset="0.5949" stop-color="#02bac5"/><stop offset="0.5995" stop-color="#07bcbf"/><stop offset="0.6134" stop-color="#28c3ab"/><stop offset="0.6412" stop-color="#27c2ab"/><stop offset="0.6458" stop-color="#2bc3a8"/><stop offset="0.6551" stop-color="#3cc991"/><stop offset="0.6644" stop-color="#5acc77"/><stop offset="0.7755" stop-color="#70cd65"/><stop offset="0.9005" stop-color="#70cd65"/><stop offset="0.9144" stop-color="#a7c73c"/><stop offset="0.9236" stop-color="#c7c12a"/><stop offset="0.9282" stop-color="#d5be28"/><stop offset="0.9375" stop-color="#edba34"/><stop offset="0.9421" stop-color="#f8ba3d"/><stop offset="0.9468" stop-color="#febf3c"/><stop offset="0.9514" stop-color="#fec636"/><stop offset="1.0000" stop-color="#fad42e"/></linearGradient><linearGradient id="g162" gradientUnits="userSpaceOnUse" x1="62" x2="278" y1="0" y2="0"><stop offset="0.0000" stop-color="#3e26a8"/><stop offset="0.0301" stop-color="#3e27aa"/><stop offset="0.1227" stop-color="#463cdf"/><stop offset="0.2106" stop-color="#4757f7"/><stop offset="0.2894" stop-color="#3e70ff"/><stop offset="0.3495" stop-color="#2e86f7"/><stop offset="0.4005" stop-color="#2994ed"/><stop offset="0.4144" stop-color="#2994ed"/><stop offset="0.4329" stop-color="#21a3e3"/><stop offset="0.4699" stop-color="#22a2e4"/><stop offset="0.4884" stop-color="#1caadf"/><stop offset="0.5394" stop-color="#1ea7e1"/><stop offset="0.5486" stop-color="#0fb2d5"/><stop offset="0.5532" stop-color="#02b7cb"/><stop offset="0.5579" stop-color="#02bac4"/><stop offset="0.5949" stop-color="#02bac5"/><stop offset="0.5995" stop-color="#07bcc0"/><stop offset="0.6134" stop-color="#28c2ab"/><stop offset="0.6458" stop-color="#27c2ac"/><stop offset="0.6551" stop-color="#35c79a"/><stop offset="0.6597" stop-color="#40ca8d"/><stop offset="0.6644" stop-color="#50cc80"/><stop offset="0.6690" stop-color="#5acc78"/><stop offset="0.7755" stop-color="#6fcd66"/><stop offset="0.9005" stop-color="#70cd65"/><stop offset="0.9051" stop-color="#7dcc5b"/><stop offset="0.9190" stop-color="#b2c635"/><stop offset="0.9282" stop-color="#d0bf27"/><stop offset="0.9375" stop-color="#e9bb30"/><stop offset="0.9421" stop-color="#f4ba3a"/><stop offset="0.9468" stop-color="#fcbd3d"/><stop offset="0.9606" stop-color="#fec835"/><stop offset="1.0000" stop-color="#fad42e"/></linearGradient><linearGradient id="g163" gradientUnits="userSpaceOnUse" x1="62" x2="278" y1="0" y2="0"><stop offset="0.0000" stop-color="#3e26a8"/><stop offset="0.0301" stop-color="#3e27a9"/><stop offset="0.1227" stop-color="#463bde"/><stop offset="0.2106" stop-color="#4756f7"/><stop offset="0.2894" stop-color="#3f6fff"/><stop offset="0.3542" stop-color="#2e85f8"/><stop offset="0.3958" stop-color="#2994ed"/><stop offset="0.4236" stop-color="#2896eb"/><stop offset="0.4375" stop-color="#21a2e4"/><stop offset="0.4699" stop-color="#22a2e4"/><stop offset="0.4884" stop-color="#1ca9df"/><stop offset="0.5394" stop-color="#20a5e2"/><stop offset="0.5486" stop-color="#18aedb"/><stop offset="0.5579" stop-color="#01b8c9"/><stop offset="0.5671" stop-color="#02bac5"/><stop offset="0.5949" stop-color="#01bac5"/><stop offset="0.5995" stop-color="#07bcc0"/><stop offset="0.6134" stop-color="#28c2ab"/><stop offset="0.6505" stop-color="#27c2ac"/><stop offset="0.6597" stop-color="#38c896"/><stop offset="0.6690" stop-color="#55cc7c"/><stop offset="0.6829" stop-color="#5ccc76"/><stop offset="0.7801" stop-color="#6fcd66"/><stop offset="0.9005" stop-color="#6fcd65"/><stop offset="0.9051" stop-color="#71cd64"/><stop offset="0.9097" stop-color="#8acb52"/><stop offset="0.9236" stop-color="#bcc42f"/><stop offset="0.9282" stop-color="#cbc029"/><stop offset="0.9375" stop-color="#e6bb2d"/><stop offset="0.9468" stop-color="#fabb3d"/><stop offset="0.9560" stop-color="#fec636"/><stop offset="1.0000" stop-color="#fbd32e"/></linearGradient><linearGradient id="g164" gradientUnits="userSpaceOnUse" x1="62" x2="278" y1="0" y2="0"><stop offset="0.0000" stop-color="#3e26a8"/><stop offset="0.0347" stop-color="#3e27ab"/><stop offset="0.1273" stop-color="#463cdf"/><stop offset="0.2199" stop-color="#4758f8"/><stop offset="0.2986" stop-color="#3d70ff"/><stop offset="0.3634" stop-color="#2e87f7"/><stop offset="0.3958" stop-color="#2a93ed"/><stop offset="0.4282" stop-color="#2a93ed"/><stop offset="0.4468" stop-color="#22a2e4"/><stop offset="0.4699" stop-color="#22a2e4"/><stop offset="0.4884" stop-color="#1ca9df"/><stop offset="0.5440" stop-color="#20a5e2"/><stop offset="0.5532" stop-color="#17aeda"/><stop offset="0.5625" stop-color="#01b9c6"/><stop offset="0.5949" stop-color="#01bac5"/><stop offset="0.5995" stop-color="#06bcc0"/><stop offset="0.6134" stop-color="#27c2ab"/><stop offset="0.6505" stop-color="#26c2ac"/><stop offset="0.6551" stop-color="#2ac3a9"/><stop offset="0.6644" stop-color="#3bc992"/><stop offset="0.6736" stop-color="#58cc79"/><stop offset="0.7801" stop-color="#6ecd66"/><stop offset="0.9051" stop-color="#70cd65"/><stop offset="0.9190" stop-color="#a7c73c"/><stop offset="0.9282" stop-color="#c6c22a"/><stop offset="0.9329" stop-color="#d4bf28"/><stop offset="0.9421" stop-color="#edba33"/><stop offset="0.9468" stop-color="#f7ba3c"/><stop offset="0.9514" stop-color="#febe3c"/><stop offset="0.9606" stop-color="#fec735"/><stop offset="1.0000" stop-color="#fbd32e"/></linearGradient><linearGradient id="g165" gradientUnits="userSpaceOnUse" x1="62" x2="278" y1="0" y2="0"><stop offset="0.0000" stop-color="#3e26a8"/><stop offset="0.0347" stop-color="#3e27aa"/><stop offset="0.1319" stop-color="#463ddf"/><stop offset="0.2199" stop-color="#4756f7"/><stop offset="0.3079" stop-color="#3e70ff"/><stop offset="0.3727" stop-color="#2e87f7"/><stop offset="0.3912" stop-color="#2a93ed"/><stop offset="0.4375" stop-color="#2994ed"/><stop offset="0.4514" stop-color="#23a1e4"/><stop offset="0.4745" stop-color="#20a4e3"/><stop offset="0.4884" stop-color="#1ca9df"/><stop offset="0.5486" stop-color="#20a5e2"/><stop offset="0.5579" stop-color="#15afd9"/><stop offset="0.5625" stop-color="#08b4d1"/><stop offset="0.5671" stop-color="#02bac5"/><stop offset="0.5949" stop-color="#01bac5"/><stop offset="0.5995" stop-color="#06bcc0"/><stop offset="0.6134" stop-color="#27c2ac"/><stop offset="0.6551" stop-color="#26c2ac"/><stop offset="0.6644" stop-color="#35c79b"/><stop offset="0.6690" stop-color="#3fca8e"/><stop offset="0.6736" stop-color="#4fcc81"/><stop offset="0.6782" stop-color="#58cc79"/><stop offset="0.7847" stop-color="#6ecd67"/><stop offset="0.9051" stop-color="#70cd65"/><stop offset="0.9097" stop-color="#7dcc5b"/><stop offset="0.9236" stop-color="#b2c635"/><stop offset="0.9329" stop-color="#d0bf27"/><stop offset="0.9421" stop-color="#e9bb30"/><stop offset="0.9468" stop-color="#f4ba39"/><stop offset="0.9514" stop-color="#fcbd3d"/><stop offset="0.9653" stop-color="#fec835"/><stop offset="1.0000" stop-color="#fbd22f"/></linearGradient><linearGradient id="g166" gradientUnits="userSpaceOnUse" x1="62" x2="278" y1="0" y2="0"><stop offset="0.0000" stop-color="#3e26a8"/><stop offset="0.0347" stop-color="#3e27a9"/><stop offset="0.1319" stop-color="#463cdf"/><stop offset="0.2153" stop-color="#4854f5"/><stop offset="0.3125" stop-color="#3f6eff"/><stop offset="0.3727" stop-color="#2e83f9"/><stop offset="0.3958" stop-color="#2a93ee"/><stop offset="0.4421" stop-color="#2a92ee"/><stop offset="0.4606" stop-color="#23a1e4"/><stop offset="0.4884" stop-color="#1ca9df"/><stop offset="0.5532" stop-color="#20a5e3"/><stop offset="0.5625" stop-color="#14b0d8"/><stop offset="0.5671" stop-color="#06b5ce"/><stop offset="0.5718" stop-color="#01bac5"/><stop offset="0.5949" stop-color="#01b9c6"/><stop offset="0.5995" stop-color="#06bcc0"/><stop offset="0.6134" stop-color="#27c2ac"/><stop offset="0.6597" stop-color="#26c2ad"/><stop offset="0.6736" stop-color="#43ca8a"/><stop offset="0.6782" stop-color="#54cc7c"/><stop offset="0.7106" stop-color="#5ecd74"/><stop offset="0.7847" stop-color="#6dcd67"/><stop offset="0.9051" stop-color="#6fcd65"/><stop offset="0.9097" stop-color="#71cd64"/><stop offset="0.9144" stop-color="#8acb52"/><stop offset="0.9282" stop-color="#bcc42f"/><stop offset="0.9329" stop-color="#cbc129"/><stop offset="0.9421" stop-color="#e5bb2d"/><stop offset="0.9514" stop-color="#fabb3d"/><stop offset="0.9606" stop-color="#fec636"/><stop offset="1.0000" stop-color="#fbd22f"/></linearGradient><linearGradient id="g167" gradientUnits="userSpaceOnUse" x1="62" x2="278" y1="0" y2="0"><stop offset="0.0000" stop-color="#3e26a8"/><stop offset="0.0394" stop-color="#3e27ab"/><stop offset="0.1366" stop-color="#463de0"/><stop offset="0.2199" stop-color="#4854f5"/><stop offset="0.3171" stop-color="#3f6efe"/><stop offset="0.3773" stop-color="#2e84f8"/><stop offset="0.4005" stop-color="#2a93ee"/><stop offset="0.4468" stop-color="#2b92ee"/><stop offset="0.4745" stop-color="#20a4e3"/><stop offset="0.4884" stop-color="#1ca9df"/><stop offset="0.5625" stop-color="#20a4e3"/><stop offset="0.5718" stop-color="#14b0d8"/><stop offset="0.5764" stop-color="#07b5cf"/><stop offset="0.5810" stop-color="#01b9c6"/><stop offset="0.5949" stop-color="#01b9c6"/><stop offset="0.5995" stop-color="#05bbc1"/><stop offset="0.6134" stop-color="#26c2ad"/><stop offset="0.6829" stop-color="#26c2ac"/><stop offset="0.6968" stop-color="#3fca8e"/><stop offset="0.7014" stop-color="#4ccb82"/><stop offset="0.7060" stop-color="#54cc7d"/><stop offset="0.8264" stop-color="#66cd6d"/><stop offset="0.9097" stop-color="#67cd6c"/><stop offset="0.9606" stop-color="#70cd65"/><stop offset="0.9653" stop-color="#74cc62"/><stop offset="0.9699" stop-color="#8acb52"/><stop offset="0.9838" stop-color="#bac430"/><stop offset="0.9884" stop-color="#c8c129"/><stop offset="0.9977" stop-color="#e2bc2b"/><stop offset="1.0000" stop-color="#e3bc2c"/></linearGradient><linearGradient id="g168" gradientUnits="userSpaceOnUse" x1="62" x2="278" y1="0" y2="0"><stop offset="0.0000" stop-color="#3e26a8"/><stop offset="0.0394" stop-color="#3e27ab"/><stop offset="0.1366" stop-color="#463cdf"/><stop offset="0.2199" stop-color="#4853f5"/><stop offset="0.3218" stop-color="#3f6dfe"/><stop offset="0.3773" stop-color="#2f82fa"/><stop offset="0.4005" stop-color="#2b91ef"/><stop offset="0.4560" stop-color="#2a92ee"/><stop offset="0.4792" stop-color="#1ea6e1"/><stop offset="0.5116" stop-color="#1ea7e1"/><stop offset="0.5949" stop-color="#21a3e3"/><stop offset="0.5995" stop-color="#1baade"/><stop offset="0.6088" stop-color="#01b9c8"/><stop offset="0.6134" stop-color="#19bfb6"/><stop offset="0.6181" stop-color="#24c1af"/><stop offset="0.7060" stop-color="#21c1b1"/><stop offset="0.7106" stop-color="#27c2ac"/><stop offset="0.7245" stop-color="#42ca8b"/><stop offset="0.7292" stop-color="#4fcc80"/><stop offset="0.8403" stop-color="#63cd70"/><stop offset="0.9097" stop-color="#66cd6d"/><stop offset="0.9653" stop-color="#70cd65"/><stop offset="0.9838" stop-color="#b0c636"/><stop offset="0.9931" stop-color="#ccc028"/><stop offset="0.9977" stop-color="#d9bd28"/><stop offset="1.0000" stop-color="#dbbd28"/></linearGradient><linearGradient id="g169" gradientUnits="userSpaceOnUse" x1="62" x2="278" y1="0" y2="0"><stop offset="0.0000" stop-color="#3e26a8"/><stop offset="0.0394" stop-color="#3e27aa"/><stop offset="0.1412" stop-color="#463de0"/><stop offset="0.2245" stop-color="#4853f5"/><stop offset="0.3264" stop-color="#406dfe"/><stop offset="0.3773" stop-color="#307ffb"/><stop offset="0.4005" stop-color="#2c8ef1"/><stop offset="0.4282" stop-color="#2a92ee"/><stop offset="0.4606" stop-color="#2b90ef"/><stop offset="0.4838" stop-color="#1da9e0"/><stop offset="0.5949" stop-color="#21a3e3"/><stop offset="0.6042" stop-color="#1caadf"/><stop offset="0.6134" stop-color="#01b9c8"/><stop offset="0.6181" stop-color="#07bcc0"/><stop offset="0.6227" stop-color="#1fc1b1"/><stop offset="0.6366" stop-color="#22c1af"/><stop offset="0.7153" stop-color="#21c1b0"/><stop offset="0.7292" stop-color="#3dc990"/><stop offset="0.7338" stop-color="#4bcb84"/><stop offset="0.7569" stop-color="#53cc7d"/><stop offset="0.8449" stop-color="#62cd70"/><stop offset="0.9097" stop-color="#65cd6e"/><stop offset="0.9699" stop-color="#70cd65"/><stop offset="0.9792" stop-color="#95ca49"/><stop offset="0.9931" stop-color="#c3c22b"/><stop offset="0.9977" stop-color="#d1bf27"/><stop offset="1.0000" stop-color="#d2bf27"/></linearGradient><linearGradient id="g170" gradientUnits="userSpaceOnUse" x1="62" x2="278" y1="0" y2="0"><stop offset="0.0000" stop-color="#3e26a8"/><stop offset="0.0394" stop-color="#3e26a9"/><stop offset="0.1412" stop-color="#463cdf"/><stop offset="0.2245" stop-color="#4852f4"/><stop offset="0.3310" stop-color="#406dfe"/><stop offset="0.3773" stop-color="#317dfc"/><stop offset="0.4005" stop-color="#2d8bf3"/><stop offset="0.4282" stop-color="#2a92ee"/><stop offset="0.4653" stop-color="#2c90f0"/><stop offset="0.4884" stop-color="#1da9e0"/><stop offset="0.5949" stop-color="#21a3e3"/><stop offset="0.6088" stop-color="#19acdc"/><stop offset="0.6181" stop-color="#05b6ce"/><stop offset="0.6227" stop-color="#01b9c6"/><stop offset="0.6273" stop-color="#0cbdbc"/><stop offset="0.6319" stop-color="#22c1b0"/><stop offset="0.7199" stop-color="#1fc0b2"/><stop offset="0.7292" stop-color="#30c5a1"/><stop offset="0.7384" stop-color="#44cb89"/><stop offset="0.7431" stop-color="#4dcc82"/><stop offset="0.8495" stop-color="#61cd71"/><stop offset="0.9144" stop-color="#65cd6e"/><stop offset="0.9745" stop-color="#72cd63"/><stop offset="0.9792" stop-color="#8acb52"/><stop offset="0.9931" stop-color="#b9c430"/><stop offset="0.9977" stop-color="#c7c129"/><stop offset="1.0000" stop-color="#c9c129"/></linearGradient><linearGradient id="g171" gradientUnits="userSpaceOnUse" x1="62" x2="278" y1="0" y2="0"><stop offset="0.0000" stop-color="#3e26a8"/><stop offset="0.0440" stop-color="#3e27aa"/><stop offset="0.1458" stop-color="#463cdf"/><stop offset="0.2338" stop-color="#4853f5"/><stop offset="0.3403" stop-color="#3f6efe"/><stop offset="0.3819" stop-color="#317efb"/><stop offset="0.4144" stop-color="#2c8ef1"/><stop offset="0.4375" stop-color="#2b92ef"/><stop offset="0.4699" stop-color="#2b91ef"/><stop offset="0.4792" stop-color="#269ae8"/><stop offset="0.4931" stop-color="#1ea7e1"/><stop offset="0.5949" stop-color="#21a3e3"/><stop offset="0.6134" stop-color="#15afd9"/><stop offset="0.6181" stop-color="#15afd9"/><stop offset="0.6273" stop-color="#03b7cc"/><stop offset="0.6319" stop-color="#02bac4"/><stop offset="0.6366" stop-color="#15bfb8"/><stop offset="0.6412" stop-color="#21c1b0"/><stop offset="0.7245" stop-color="#1ec0b2"/><stop offset="0.7292" stop-color="#22c1b0"/><stop offset="0.7431" stop-color="#3fca8f"/><stop offset="0.7477" stop-color="#4ccb83"/><stop offset="0.8542" stop-color="#61cd72"/><stop offset="0.9144" stop-color="#64cd6e"/><stop offset="0.9745" stop-color="#70cd65"/><stop offset="0.9931" stop-color="#afc637"/><stop offset="0.9977" stop-color="#bec32e"/><stop offset="1.0000" stop-color="#bfc32d"/></linearGradient><linearGradient id="g172" gradientUnits="userSpaceOnUse" x1="62" x2="278" y1="0" y2="0"><stop offset="0.0000" stop-color="#3e26a8"/><stop offset="0.0486" stop-color="#3e27ab"/><stop offset="0.1505" stop-color="#463cdf"/><stop offset="0.2384" stop-color="#4853f5"/><stop offset="0.3449" stop-color="#406dfe"/><stop offset="0.3773" stop-color="#3578fd"/><stop offset="0.4005" stop-color="#2e86f7"/><stop offset="0.4375" stop-color="#2b91ef"/><stop offset="0.4699" stop-color="#2b91ef"/><stop offset="0.5023" stop-color="#1ea8e1"/><stop offset="0.5949" stop-color="#21a3e3"/><stop offset="0.6134" stop-color="#15afd9"/><stop offset="0.6273" stop-color="#12b1d7"/><stop offset="0.6319" stop-color="#07b5cf"/><stop offset="0.6366" stop-color="#01b9c8"/><stop offset="0.6412" stop-color="#08bcbf"/><stop offset="0.6458" stop-color="#20c1b1"/><stop offset="0.7338" stop-color="#1ec0b2"/><stop offset="0.7431" stop-color="#33c69e"/><stop offset="0.7523" stop-color="#4acb85"/><stop offset="0.8588" stop-color="#60cd72"/><stop offset="0.9190" stop-color="#65cd6e"/><stop offset="0.9792" stop-color="#70cd65"/><stop offset="0.9884" stop-color="#94ca4a"/><stop offset="0.9977" stop-color="#b4c534"/><stop offset="1.0000" stop-color="#b5c533"/></linearGradient><linearGradient id="g173" gradientUnits="userSpaceOnUse" x1="62" x2="278" y1="0" y2="0"><stop offset="0.0000" stop-color="#3e26a8"/><stop offset="0.0486" stop-color="#3e27aa"/><stop offset="0.1551" stop-color="#463cdf"/><stop offset="0.2431" stop-color="#4853f4"/><stop offset="0.3542" stop-color="#3f6dfe"/><stop offset="0.3819" stop-color="#3579fd"/><stop offset="0.4097" stop-color="#2e86f7"/><stop offset="0.4421" stop-color="#2b91ef"/><stop offset="0.4699" stop-color="#2b91ef"/><stop offset="0.5023" stop-color="#22a2e4"/><stop offset="0.5162" stop-color="#1fa6e1"/><stop offset="0.5949" stop-color="#21a3e4"/><stop offset="0.6134" stop-color="#15afd9"/><stop offset="0.6319" stop-color="#16afda"/><stop offset="0.6412" stop-color="#03b7cc"/><stop offset="0.6458" stop-color="#02bac4"/><stop offset="0.6505" stop-color="#16bfb7"/><stop offset="0.6551" stop-color="#1fc0b2"/><stop offset="0.7384" stop-color="#1dc0b3"/><stop offset="0.7523" stop-color="#39c895"/><stop offset="0.7569" stop-color="#46cb88"/><stop offset="0.7662" stop-color="#4ccb83"/><stop offset="0.8634" stop-color="#5fcd73"/><stop offset="0.9236" stop-color="#65cd6e"/><stop offset="0.9838" stop-color="#71cd64"/><stop offset="0.9884" stop-color="#89cb52"/><stop offset="0.9977" stop-color="#a9c73a"/><stop offset="1.0000" stop-color="#abc739"/></linearGradient><linearGradient id="g174" gradientUnits="userSpaceOnUse" x1="62" x2="278" y1="0" y2="0"><stop offset="0.0000" stop-color="#3e26a8"/><stop offset="0.0532" stop-color="#3e27ab"/><stop offset="0.1597" stop-color="#463cdf"/><stop offset="0.2523" stop-color="#4853f5"/><stop offset="0.3634" stop-color="#3f6efe"/><stop offset="0.4005" stop-color="#307ffb"/><stop offset="0.4606" stop-color="#2c8ff0"/><stop offset="0.4931" stop-color="#2797ea"/><stop offset="0.5116" stop-color="#2699e9"/><stop offset="0.5301" stop-color="#20a5e2"/><stop offset="0.5949" stop-color="#21a3e4"/><stop offset="0.6134" stop-color="#16afd9"/><stop offset="0.6412" stop-color="#15afd8"/><stop offset="0.6505" stop-color="#01b8c8"/><stop offset="0.6597" stop-color="#0fbebb"/><stop offset="0.6644" stop-color="#1abfb5"/><stop offset="0.6782" stop-color="#1cc0b3"/><stop offset="0.9005" stop-color="#08bcbf"/><stop offset="0.9097" stop-color="#11beba"/><stop offset="0.9329" stop-color="#2ac3a9"/><stop offset="0.9606" stop-color="#3ac994"/><stop offset="1.0000" stop-color="#3dc991"/></linearGradient><linearGradient id="g175" gradientUnits="userSpaceOnUse" x1="62" x2="278" y1="0" y2="0"><stop offset="0.0000" stop-color="#3e26a8"/><stop offset="0.0532" stop-color="#3e27a9"/><stop offset="0.1644" stop-color="#463cdf"/><stop offset="0.2569" stop-color="#4853f5"/><stop offset="0.3727" stop-color="#3f6eff"/><stop offset="0.4005" stop-color="#327cfc"/><stop offset="0.4792" stop-color="#2995ec"/><stop offset="0.5208" stop-color="#2796eb"/><stop offset="0.5394" stop-color="#20a4e3"/><stop offset="0.5949" stop-color="#21a2e4"/><stop offset="0.6134" stop-color="#16afd9"/><stop offset="0.6458" stop-color="#17aeda"/><stop offset="0.6505" stop-color="#10b2d5"/><stop offset="0.6551" stop-color="#04b6cd"/><stop offset="0.6597" stop-color="#02bac4"/><stop offset="0.6736" stop-color="#1cc0b3"/><stop offset="0.9097" stop-color="#08bcbf"/><stop offset="0.9190" stop-color="#11beb9"/><stop offset="0.9421" stop-color="#2ac3a9"/><stop offset="0.9699" stop-color="#3ac994"/><stop offset="1.0000" stop-color="#3cc991"/></linearGradient><linearGradient id="g176" gradientUnits="userSpaceOnUse" x1="62" x2="278" y1="0" y2="0"><stop offset="0.0000" stop-color="#3e26a8"/><stop offset="0.0579" stop-color="#3e27aa"/><stop offset="0.1690" stop-color="#463ddf"/><stop offset="0.2662" stop-color="#4854f5"/><stop offset="0.3727" stop-color="#406cfe"/><stop offset="0.4051" stop-color="#327bfc"/><stop offset="0.4699" stop-color="#2c90f0"/><stop offset="0.4884" stop-color="#2797eb"/><stop offset="0.5301" stop-color="#2797eb"/><stop offset="0.5486" stop-color="#21a4e3"/><stop offset="0.5949" stop-color="#22a2e4"/><stop offset="0.6134" stop-color="#16afd9"/><stop offset="0.6551" stop-color="#16afd9"/><stop offset="0.6644" stop-color="#01b8c9"/><stop offset="0.6736" stop-color="#0ebdbb"/><stop offset="0.6782" stop-color="#19bfb5"/><stop offset="0.7014" stop-color="#1abfb5"/><stop offset="0.9051" stop-color="#08bcbf"/><stop offset="0.9236" stop-color="#0bbdbd"/><stop offset="0.9468" stop-color="#27c2ac"/><stop offset="0.9792" stop-color="#3ac994"/><stop offset="1.0000" stop-color="#3bc992"/></linearGradient><linearGradient id="g177" gradientUnits="userSpaceOnUse" x1="62" x2="278" y1="0" y2="0"><stop offset="0.0000" stop-color="#3e26a8"/><stop offset="0.0579" stop-color="#3e27a9"/><stop offset="0.1736" stop-color="#463ddf"/><stop offset="0.2755" stop-color="#4854f6"/><stop offset="0.3773" stop-color="#406cfe"/><stop offset="0.4051" stop-color="#3579fd"/><stop offset="0.4699" stop-color="#2d8df2"/><stop offset="0.4838" stop-color="#2797eb"/><stop offset="0.5347" stop-color="#2994ed"/><stop offset="0.5579" stop-color="#21a3e3"/><stop offset="0.5949" stop-color="#22a2e4"/><stop offset="0.6134" stop-color="#16afda"/><stop offset="0.6736" stop-color="#19addc"/><stop offset="0.6782" stop-color="#14b0d8"/><stop offset="0.6875" stop-color="#01b8c9"/><stop offset="0.6968" stop-color="#0bbdbd"/><stop offset="0.7014" stop-color="#15bfb7"/><stop offset="0.7153" stop-color="#18bfb6"/><stop offset="0.9051" stop-color="#07bcbf"/><stop offset="0.9514" stop-color="#09bcbe"/><stop offset="0.9792" stop-color="#28c2ab"/><stop offset="1.0000" stop-color="#33c79c"/></linearGradient><linearGradient id="g178" gradientUnits="userSpaceOnUse" x1="62" x2="278" y1="0" y2="0"><stop offset="0.0000" stop-color="#3e26a8"/><stop offset="0.0625" stop-color="#3e27aa"/><stop offset="0.1782" stop-color="#463ddf"/><stop offset="0.2847" stop-color="#4755f6"/><stop offset="0.3773" stop-color="#426afe"/><stop offset="0.4097" stop-color="#3678fd"/><stop offset="0.4699" stop-color="#2d8af5"/><stop offset="0.4884" stop-color="#2797eb"/><stop offset="0.5440" stop-color="#2a93ed"/><stop offset="0.5671" stop-color="#21a3e3"/><stop offset="0.5949" stop-color="#22a2e4"/><stop offset="0.6134" stop-color="#16aeda"/><stop offset="0.6875" stop-color="#18addb"/><stop offset="0.6968" stop-color="#05b6ce"/><stop offset="0.7014" stop-color="#01b9c6"/><stop offset="0.7106" stop-color="#0ebdbb"/><stop offset="0.7153" stop-color="#17bfb6"/><stop offset="0.9097" stop-color="#07bcc0"/><stop offset="0.9653" stop-color="#08bcbf"/><stop offset="0.9977" stop-color="#2ac3a9"/><stop offset="1.0000" stop-color="#2ac3a9"/></linearGradient><linearGradient id="g179" gradientUnits="userSpaceOnUse" x1="62" x2="278" y1="0" y2="0"><stop offset="0.0000" stop-color="#3e26a8"/><stop offset="0.0671" stop-color="#3e27ab"/><stop offset="0.1829" stop-color="#463ddf"/><stop offset="0.2894" stop-color="#4755f6"/><stop offset="0.3819" stop-color="#416bfe"/><stop offset="0.4468" stop-color="#307ffb"/><stop offset="0.4699" stop-color="#2e87f7"/><stop offset="0.4884" stop-color="#2994ed"/><stop offset="0.5532" stop-color="#2a93ee"/><stop offset="0.5764" stop-color="#21a2e4"/><stop offset="0.5995" stop-color="#20a5e2"/><stop offset="0.6181" stop-color="#17aeda"/><stop offset="0.6968" stop-color="#17aeda"/><stop offset="0.7060" stop-color="#04b6cc"/><stop offset="0.7106" stop-color="#02bac5"/><stop offset="0.7245" stop-color="#16bfb7"/><stop offset="0.9097" stop-color="#07bcc0"/><stop offset="0.9792" stop-color="#0abdbd"/><stop offset="1.0000" stop-color="#21c1b0"/></linearGradient><linearGradient id="g180" gradientUnits="userSpaceOnUse" x1="62" x2="278" y1="0" y2="0"><stop offset="0.0000" stop-color="#3e26a8"/><stop offset="0.0671" stop-color="#3e27aa"/><stop offset="0.1875" stop-color="#463ddf"/><stop offset="0.2986" stop-color="#4755f6"/><stop offset="0.3819" stop-color="#4269fe"/><stop offset="0.4653" stop-color="#2f81fa"/><stop offset="0.4884" stop-color="#2b91ef"/><stop offset="0.5208" stop-color="#2994ed"/><stop offset="0.5625" stop-color="#2a93ee"/><stop offset="0.5856" stop-color="#22a2e4"/><stop offset="0.5995" stop-color="#20a5e3"/><stop offset="0.6181" stop-color="#17aeda"/><stop offset="0.7014" stop-color="#1aacdd"/><stop offset="0.7060" stop-color="#16afd9"/><stop offset="0.7153" stop-color="#02b7cb"/><stop offset="0.7199" stop-color="#02bac4"/><stop offset="0.7338" stop-color="#14bfb8"/><stop offset="0.9144" stop-color="#07bcc0"/><stop offset="0.9884" stop-color="#09bcbe"/><stop offset="1.0000" stop-color="#14bfb8"/></linearGradient><linearGradient id="g181" gradientUnits="userSpaceOnUse" x1="62" x2="278" y1="0" y2="0"><stop offset="0.0000" stop-color="#3e26a8"/><stop offset="0.0718" stop-color="#3e27ab"/><stop offset="0.1921" stop-color="#463de0"/><stop offset="0.3032" stop-color="#4755f6"/><stop offset="0.3819" stop-color="#4368fe"/><stop offset="0.4606" stop-color="#317dfc"/><stop offset="0.4931" stop-color="#2c8ff1"/><stop offset="0.5255" stop-color="#2994ed"/><stop offset="0.5764" stop-color="#2a93ed"/><stop offset="0.6134" stop-color="#17aeda"/><stop offset="0.7245" stop-color="#1aacdd"/><stop offset="0.7384" stop-color="#01b8ca"/><stop offset="0.7477" stop-color="#07bcbf"/><stop offset="0.7523" stop-color="#0fbeba"/><stop offset="0.9236" stop-color="#06bcc0"/><stop offset="1.0000" stop-color="#08bcbf"/></linearGradient><linearGradient id="g182" gradientUnits="userSpaceOnUse" x1="62" x2="278" y1="0" y2="0"><stop offset="0.0000" stop-color="#3e26a8"/><stop offset="0.0718" stop-color="#3e27a9"/><stop offset="0.1921" stop-color="#463cde"/><stop offset="0.3032" stop-color="#4854f5"/><stop offset="0.3819" stop-color="#4466fd"/><stop offset="0.4699" stop-color="#317efb"/><stop offset="0.4884" stop-color="#2d8bf4"/><stop offset="0.5301" stop-color="#2a93ed"/><stop offset="0.5810" stop-color="#2b92ee"/><stop offset="0.5995" stop-color="#23a0e5"/><stop offset="0.6134" stop-color="#17aeda"/><stop offset="0.7569" stop-color="#1baadf"/><stop offset="0.7662" stop-color="#12b1d7"/><stop offset="0.7755" stop-color="#03b7cb"/><stop offset="0.7847" stop-color="#04bbc2"/><stop offset="0.7940" stop-color="#0cbdbc"/><stop offset="0.9236" stop-color="#05bbc1"/><stop offset="1.0000" stop-color="#07bcc0"/></linearGradient><linearGradient id="g183" gradientUnits="userSpaceOnUse" x1="62" x2="278" y1="0" y2="0"><stop offset="0.0000" stop-color="#3e26a8"/><stop offset="0.0764" stop-color="#3e27ab"/><stop offset="0.1968" stop-color="#463cde"/><stop offset="0.3125" stop-color="#4854f6"/><stop offset="0.3819" stop-color="#4465fd"/><stop offset="0.4699" stop-color="#327cfc"/><stop offset="0.4931" stop-color="#2d8af4"/><stop offset="0.5347" stop-color="#2a93ee"/><stop offset="0.5856" stop-color="#2b92ee"/><stop offset="0.5995" stop-color="#249ee6"/><stop offset="0.6134" stop-color="#17aeda"/><stop offset="0.7616" stop-color="#1caadf"/><stop offset="0.7708" stop-color="#11b1d6"/><stop offset="0.7801" stop-color="#02b7cb"/><stop offset="0.7894" stop-color="#04bbc1"/><stop offset="0.7940" stop-color="#0bbdbd"/><stop offset="0.9329" stop-color="#05bbc1"/><stop offset="1.0000" stop-color="#07bcc0"/></linearGradient><linearGradient id="g184" gradientUnits="userSpaceOnUse" x1="62" x2="278" y1="0" y2="0"><stop offset="0.0000" stop-color="#3e26a8"/><stop offset="0.0764" stop-color="#3e27a9"/><stop offset="0.2014" stop-color="#463cde"/><stop offset="0.3079" stop-color="#4851f4"/><stop offset="0.3819" stop-color="#4561fc"/><stop offset="0.4653" stop-color="#3975fe"/><stop offset="0.4884" stop-color="#2e84f9"/><stop offset="0.5440" stop-color="#2b92ee"/><stop offset="0.5903" stop-color="#2b92ee"/><stop offset="0.6088" stop-color="#1da8e0"/><stop offset="0.6134" stop-color="#17aeda"/><stop offset="0.7662" stop-color="#1baade"/><stop offset="0.7847" stop-color="#01b8ca"/><stop offset="0.7940" stop-color="#05bbc1"/><stop offset="0.7986" stop-color="#0bbdbd"/><stop offset="0.9282" stop-color="#05bbc1"/><stop offset="1.0000" stop-color="#07bcc0"/></linearGradient><linearGradient id="g185" gradientUnits="userSpaceOnUse" x1="62" x2="278" y1="0" y2="0"><stop offset="0.0000" stop-color="#3e26a8"/><stop offset="0.0810" stop-color="#3e27aa"/><stop offset="0.2060" stop-color="#463cdf"/><stop offset="0.3171" stop-color="#4852f4"/><stop offset="0.3819" stop-color="#4660fb"/><stop offset="0.4653" stop-color="#3a73fe"/><stop offset="0.4884" stop-color="#2f82f9"/><stop offset="0.5486" stop-color="#2b92ee"/><stop offset="0.5949" stop-color="#2a93ed"/><stop offset="0.6134" stop-color="#1aacdd"/><stop offset="0.7708" stop-color="#1babde"/><stop offset="0.7894" stop-color="#01b8c9"/><stop offset="0.7986" stop-color="#06bcc0"/><stop offset="0.8032" stop-color="#0bbdbd"/><stop offset="0.9282" stop-color="#05bbc1"/><stop offset="1.0000" stop-color="#07bcc0"/></linearGradient><linearGradient id="g186" gradientUnits="userSpaceOnUse" x1="62" x2="278" y1="0" y2="0"><stop offset="0.0000" stop-color="#3e26a8"/><stop offset="0.0810" stop-color="#3e27a9"/><stop offset="0.2106" stop-color="#463cdf"/><stop offset="0.3264" stop-color="#4853f5"/><stop offset="0.3866" stop-color="#4561fc"/><stop offset="0.4699" stop-color="#3a73fe"/><stop offset="0.4884" stop-color="#317efb"/><stop offset="0.5764" stop-color="#2b91ef"/><stop offset="0.5995" stop-color="#2a93ed"/><stop offset="0.6181" stop-color="#259de7"/><stop offset="0.6366" stop-color="#249ee6"/><stop offset="0.6551" stop-color="#19addc"/><stop offset="0.7755" stop-color="#1ca9df"/><stop offset="0.7847" stop-color="#11b1d6"/><stop offset="0.7894" stop-color="#06b5cf"/><stop offset="0.7940" stop-color="#01b8c9"/><stop offset="0.8079" stop-color="#0abdbd"/><stop offset="0.9282" stop-color="#05bbc1"/><stop offset="1.0000" stop-color="#06bcc0"/></linearGradient><linearGradient id="g187" gradientUnits="userSpaceOnUse" x1="62" x2="278" y1="0" y2="0"><stop offset="0.0000" stop-color="#3e26a8"/><stop offset="0.0856" stop-color="#3e27aa"/><stop offset="0.2153" stop-color="#463cdf"/><stop offset="0.3356" stop-color="#4854f5"/><stop offset="0.3866" stop-color="#4660fc"/><stop offset="0.4699" stop-color="#3c72ff"/><stop offset="0.4884" stop-color="#317dfc"/><stop offset="0.5810" stop-color="#2b91ef"/><stop offset="0.5995" stop-color="#2a93ed"/><stop offset="0.6181" stop-color="#259de7"/><stop offset="0.6412" stop-color="#249fe5"/><stop offset="0.6597" stop-color="#19acdc"/><stop offset="0.7801" stop-color="#1ca9df"/><stop offset="0.7894" stop-color="#0fb2d5"/><stop offset="0.7940" stop-color="#05b6ce"/><stop offset="0.8032" stop-color="#02bac4"/><stop offset="0.8125" stop-color="#0abdbe"/><stop offset="0.9282" stop-color="#05bbc1"/><stop offset="1.0000" stop-color="#06bcc0"/></linearGradient><linearGradient id="g188" gradientUnits="userSpaceOnUse" x1="62" x2="278" y1="0" y2="0"><stop offset="0.0000" stop-color="#3e26a8"/><stop offset="0.0903" stop-color="#3e27ab"/><stop offset="0.2199" stop-color="#463cdf"/><stop offset="0.3403" stop-color="#4853f5"/><stop offset="0.3866" stop-color="#465ffb"/><stop offset="0.4699" stop-color="#3d71ff"/><stop offset="0.4884" stop-color="#327cfc"/><stop offset="0.5671" stop-color="#2c8ef1"/><stop offset="0.5995" stop-color="#2a93ed"/><stop offset="0.6181" stop-color="#259de7"/><stop offset="0.6412" stop-color="#259ce7"/><stop offset="0.6644" stop-color="#19acdc"/><stop offset="0.7894" stop-color="#1da9e0"/><stop offset="0.7986" stop-color="#11b1d6"/><stop offset="0.8032" stop-color="#06b5cf"/><stop offset="0.8079" stop-color="#01b8c9"/><stop offset="0.8218" stop-color="#09bcbe"/><stop offset="0.9329" stop-color="#05bbc1"/><stop offset="1.0000" stop-color="#06bcc0"/></linearGradient><linearGradient id="g189" gradientUnits="userSpaceOnUse" x1="62" x2="278" y1="0" y2="0"><stop offset="0.0000" stop-color="#3e26a8"/><stop offset="0.0903" stop-color="#3e27aa"/><stop offset="0.2199" stop-color="#463bdd"/><stop offset="0.3403" stop-color="#4852f4"/><stop offset="0.3866" stop-color="#465efb"/><stop offset="0.4699" stop-color="#3e6fff"/><stop offset="0.4884" stop-color="#337afd"/><stop offset="0.5671" stop-color="#2d8df2"/><stop offset="0.5995" stop-color="#2a93ed"/><stop offset="0.6181" stop-color="#259ce7"/><stop offset="0.6458" stop-color="#259ce7"/><stop offset="0.6690" stop-color="#1aacdd"/><stop offset="0.8032" stop-color="#1da9e0"/><stop offset="0.8125" stop-color="#11b1d6"/><stop offset="0.8218" stop-color="#01b7ca"/><stop offset="0.8356" stop-color="#07bcbf"/><stop offset="0.9421" stop-color="#04bbc1"/><stop offset="1.0000" stop-color="#06bcc0"/></linearGradient><linearGradient id="g190" gradientUnits="userSpaceOnUse" x1="62" x2="278" y1="0" y2="0"><stop offset="0.0000" stop-color="#3e26a8"/><stop offset="0.0949" stop-color="#3e27aa"/><stop offset="0.2292" stop-color="#463cde"/><stop offset="0.3588" stop-color="#4755f6"/><stop offset="0.4421" stop-color="#4368fe"/><stop offset="0.4699" stop-color="#3f6efe"/><stop offset="0.4931" stop-color="#347afd"/><stop offset="0.5718" stop-color="#2d8df2"/><stop offset="0.5995" stop-color="#2a93ee"/><stop offset="0.6181" stop-color="#259ce7"/><stop offset="0.6505" stop-color="#249de6"/><stop offset="0.6736" stop-color="#1aacdd"/><stop offset="0.8171" stop-color="#1baade"/><stop offset="0.8356" stop-color="#01b8ca"/><stop offset="0.8495" stop-color="#06bcc0"/><stop offset="0.9653" stop-color="#05bbc1"/><stop offset="1.0000" stop-color="#05bbc1"/></linearGradient><linearGradient id="g191" gradientUnits="userSpaceOnUse" x1="62" x2="278" y1="0" y2="0"><stop offset="0.0000" stop-color="#3e26a8"/><stop offset="0.0995" stop-color="#3e27ab"/><stop offset="0.2338" stop-color="#463cde"/><stop offset="0.3681" stop-color="#4755f6"/><stop offset="0.4329" stop-color="#4466fd"/><stop offset="0.4699" stop-color="#406cfe"/><stop offset="0.4931" stop-color="#3578fd"/><stop offset="0.5718" stop-color="#2d8bf4"/><stop offset="0.5995" stop-color="#2a93ee"/><stop offset="0.6181" stop-color="#259ce7"/><stop offset="0.6551" stop-color="#249ee6"/><stop offset="0.6782" stop-color="#1aacdd"/><stop offset="0.8264" stop-color="#1da8e0"/><stop offset="0.8403" stop-color="#0db3d3"/><stop offset="0.8495" stop-color="#01b8ca"/><stop offset="0.8634" stop-color="#05bbc1"/><stop offset="1.0000" stop-color="#05bbc1"/></linearGradient><linearGradient id="g192" gradientUnits="userSpaceOnUse" x1="62" x2="278" y1="0" y2="0"><stop offset="0.0000" stop-color="#3e26a8"/><stop offset="0.0995" stop-color="#3e27aa"/><stop offset="0.2338" stop-color="#463bdd"/><stop offset="0.3634" stop-color="#4853f5"/><stop offset="0.4375" stop-color="#4465fd"/><stop offset="0.4699" stop-color="#416bfe"/><stop offset="0.4931" stop-color="#3777fe"/><stop offset="0.5764" stop-color="#2d8bf4"/><stop offset="0.6042" stop-color="#2896eb"/><stop offset="0.6181" stop-color="#259ce7"/><stop offset="0.6551" stop-color="#259ce7"/><stop offset="0.6829" stop-color="#1aacdd"/><stop offset="0.8403" stop-color="#1ca9df"/><stop offset="0.8542" stop-color="#0bb3d2"/><stop offset="0.8634" stop-color="#01b8c9"/><stop offset="0.8727" stop-color="#04bbc2"/><stop offset="1.0000" stop-color="#05bbc1"/></linearGradient><linearGradient id="g193" gradientUnits="userSpaceOnUse" x1="62" x2="278" y1="0" y2="0"><stop offset="0.0000" stop-color="#3e26a8"/><stop offset="0.1042" stop-color="#3e27aa"/><stop offset="0.2384" stop-color="#463bdd"/><stop offset="0.3866" stop-color="#4759f8"/><stop offset="0.4699" stop-color="#426afe"/><stop offset="0.4931" stop-color="#3975fe"/><stop offset="0.5764" stop-color="#2d89f5"/><stop offset="0.5995" stop-color="#2a93ee"/><stop offset="0.6181" stop-color="#259ce7"/><stop offset="0.6597" stop-color="#259ce7"/><stop offset="0.6875" stop-color="#1aabdd"/><stop offset="0.8495" stop-color="#1ea7e1"/><stop offset="0.8634" stop-color="#12b1d6"/><stop offset="0.8727" stop-color="#04b6cd"/><stop offset="0.8819" stop-color="#01bac5"/><stop offset="1.0000" stop-color="#04bbc1"/></linearGradient><linearGradient id="g194" gradientUnits="userSpaceOnUse" x1="62" x2="278" y1="0" y2="0"><stop offset="0.0000" stop-color="#3e26a8"/><stop offset="0.1042" stop-color="#3e27a9"/><stop offset="0.2431" stop-color="#463bdd"/><stop offset="0.3866" stop-color="#4758f8"/><stop offset="0.4699" stop-color="#4368fe"/><stop offset="0.4931" stop-color="#3b72ff"/><stop offset="0.5810" stop-color="#2d89f5"/><stop offset="0.5995" stop-color="#2b91ef"/><stop offset="0.6134" stop-color="#259ce7"/><stop offset="0.6644" stop-color="#259de7"/><stop offset="0.6921" stop-color="#1aabdd"/><stop offset="0.8634" stop-color="#1da8e0"/><stop offset="0.8773" stop-color="#10b2d5"/><stop offset="0.8866" stop-color="#04b6cd"/><stop offset="0.9005" stop-color="#02bbc3"/><stop offset="1.0000" stop-color="#04bbc2"/></linearGradient><linearGradient id="g195" gradientUnits="userSpaceOnUse" x1="62" x2="278" y1="0" y2="0"><stop offset="0.0000" stop-color="#3e26a8"/><stop offset="0.1088" stop-color="#3e27aa"/><stop offset="0.2477" stop-color="#463bdd"/><stop offset="0.3866" stop-color="#4757f7"/><stop offset="0.4699" stop-color="#4367fd"/><stop offset="0.4931" stop-color="#3d71ff"/><stop offset="0.5949" stop-color="#2e86f7"/><stop offset="0.6181" stop-color="#2699e9"/><stop offset="0.6968" stop-color="#269ae8"/><stop offset="0.7245" stop-color="#1caadf"/><stop offset="0.8773" stop-color="#1ea7e1"/><stop offset="0.8912" stop-color="#10b2d5"/><stop offset="0.9005" stop-color="#03b7cc"/><stop offset="0.9144" stop-color="#02bbc3"/><stop offset="1.0000" stop-color="#04bbc2"/></linearGradient><linearGradient id="g196" gradientUnits="userSpaceOnUse" x1="62" x2="278" y1="0" y2="0"><stop offset="0.0000" stop-color="#3e26a8"/><stop offset="0.1088" stop-color="#3e27a9"/><stop offset="0.2523" stop-color="#463bdd"/><stop offset="0.3866" stop-color="#4756f6"/><stop offset="0.4745" stop-color="#4368fe"/><stop offset="0.4977" stop-color="#3d70ff"/><stop offset="0.5949" stop-color="#2e84f9"/><stop offset="0.6181" stop-color="#2796eb"/><stop offset="0.6505" stop-color="#259be8"/><stop offset="0.7106" stop-color="#259ce7"/><stop offset="0.7338" stop-color="#1caadf"/><stop offset="0.8773" stop-color="#1fa6e2"/><stop offset="0.8912" stop-color="#14b0d8"/><stop offset="0.9051" stop-color="#01b8ca"/><stop offset="0.9190" stop-color="#02bbc3"/><stop offset="1.0000" stop-color="#04bbc2"/></linearGradient><linearGradient id="g197" gradientUnits="userSpaceOnUse" x1="62" x2="278" y1="0" y2="0"><stop offset="0.0000" stop-color="#3e26a8"/><stop offset="0.1134" stop-color="#3e27aa"/><stop offset="0.2569" stop-color="#463bdd"/><stop offset="0.3866" stop-color="#4755f6"/><stop offset="0.4745" stop-color="#4367fd"/><stop offset="0.4977" stop-color="#3e6fff"/><stop offset="0.5949" stop-color="#2f82fa"/><stop offset="0.6181" stop-color="#2994ed"/><stop offset="0.6551" stop-color="#269be8"/><stop offset="0.7153" stop-color="#269ae9"/><stop offset="0.7384" stop-color="#1ca9df"/><stop offset="0.8819" stop-color="#1fa5e2"/><stop offset="0.8958" stop-color="#11b1d6"/><stop offset="0.9005" stop-color="#08b5d0"/><stop offset="0.9144" stop-color="#02bac4"/><stop offset="1.0000" stop-color="#04bbc2"/></linearGradient><linearGradient id="g198" gradientUnits="userSpaceOnUse" x1="62" x2="278" y1="0" y2="0"><stop offset="0.0000" stop-color="#3e26a8"/><stop offset="0.1181" stop-color="#3e27ab"/><stop offset="0.2616" stop-color="#463bdd"/><stop offset="0.3866" stop-color="#4854f5"/><stop offset="0.4745" stop-color="#4466fd"/><stop offset="0.4977" stop-color="#3f6eff"/><stop offset="0.5949" stop-color="#2f80fa"/><stop offset="0.6181" stop-color="#2a92ee"/><stop offset="0.6597" stop-color="#269ae8"/><stop offset="0.7245" stop-color="#269ae8"/><stop offset="0.7477" stop-color="#1ca9df"/><stop offset="0.8866" stop-color="#1ea7e1"/><stop offset="0.8958" stop-color="#15afd9"/><stop offset="0.9097" stop-color="#01b7ca"/><stop offset="0.9236" stop-color="#02bbc3"/><stop offset="1.0000" stop-color="#04bbc2"/></linearGradient><linearGradient id="g199" gradientUnits="userSpaceOnUse" x1="62" x2="278" y1="0" y2="0"><stop offset="0.0000" stop-color="#3e26a8"/><stop offset="0.1181" stop-color="#3e27aa"/><stop offset="0.2616" stop-color="#463bdc"/><stop offset="0.3866" stop-color="#4853f5"/><stop offset="0.4745" stop-color="#4465fd"/><stop offset="0.5023" stop-color="#3f6efe"/><stop offset="0.5949" stop-color="#307ffb"/><stop offset="0.6181" stop-color="#2b90ef"/><stop offset="0.6644" stop-color="#269ae8"/><stop offset="0.7338" stop-color="#259be8"/><stop offset="0.7569" stop-color="#1da9e0"/><stop offset="0.8866" stop-color="#1fa5e2"/><stop offset="0.9005" stop-color="#12b1d6"/><stop offset="0.9051" stop-color="#08b4d0"/><stop offset="0.9144" stop-color="#01b8c9"/><stop offset="0.9282" stop-color="#02bbc3"/><stop offset="1.0000" stop-color="#04bbc2"/></linearGradient><linearGradient id="g200" gradientUnits="userSpaceOnUse" x1="62" x2="278" y1="0" y2="0"><stop offset="0.0000" stop-color="#3e26a8"/><stop offset="0.1227" stop-color="#3e27ab"/><stop offset="0.2708" stop-color="#463bdd"/><stop offset="0.3866" stop-color="#4852f4"/><stop offset="0.4745" stop-color="#4464fd"/><stop offset="0.5023" stop-color="#406cfe"/><stop offset="0.5995" stop-color="#2f81fa"/><stop offset="0.6181" stop-color="#2c8ef1"/><stop offset="0.6736" stop-color="#269ae9"/><stop offset="0.7384" stop-color="#2699e9"/><stop offset="0.7616" stop-color="#1da9e0"/><stop offset="0.8912" stop-color="#1fa5e2"/><stop offset="0.9005" stop-color="#16afda"/><stop offset="0.9097" stop-color="#06b5cf"/><stop offset="0.9190" stop-color="#01b9c7"/><stop offset="0.9329" stop-color="#02bbc3"/><stop offset="1.0000" stop-color="#03bbc2"/></linearGradient><linearGradient id="g201" gradientUnits="userSpaceOnUse" x1="62" x2="278" y1="0" y2="0"><stop offset="0.0000" stop-color="#3e26a8"/><stop offset="0.1227" stop-color="#3e27aa"/><stop offset="0.2708" stop-color="#463bdc"/><stop offset="0.3866" stop-color="#4851f3"/><stop offset="0.4745" stop-color="#4562fc"/><stop offset="0.5023" stop-color="#426afe"/><stop offset="0.5949" stop-color="#337bfd"/><stop offset="0.6181" stop-color="#2d8bf4"/><stop offset="0.6829" stop-color="#269ae9"/><stop offset="0.7477" stop-color="#2699e9"/><stop offset="0.7708" stop-color="#1da8e0"/><stop offset="0.8958" stop-color="#1ea7e1"/><stop offset="0.9051" stop-color="#13b0d7"/><stop offset="0.9097" stop-color="#08b4d1"/><stop offset="0.9190" stop-color="#01b8c9"/><stop offset="0.9329" stop-color="#02bbc3"/><stop offset="1.0000" stop-color="#03bbc2"/></linearGradient><linearGradient id="g202" gradientUnits="userSpaceOnUse" x1="62" x2="278" y1="0" y2="0"><stop offset="0.0000" stop-color="#3e26a8"/><stop offset="0.1273" stop-color="#3e27aa"/><stop offset="0.2801" stop-color="#463bdd"/><stop offset="0.3866" stop-color="#484ff2"/><stop offset="0.4745" stop-color="#4660fb"/><stop offset="0.5069" stop-color="#4368fe"/><stop offset="0.5949" stop-color="#3578fd"/><stop offset="0.6181" stop-color="#2d88f6"/><stop offset="0.6921" stop-color="#2699e9"/><stop offset="0.7569" stop-color="#269ae8"/><stop offset="0.7986" stop-color="#1ea7e1"/><stop offset="1.0000" stop-color="#20a5e2"/></linearGradient><linearGradient id="g203" gradientUnits="userSpaceOnUse" x1="62" x2="278" y1="0" y2="0"><stop offset="0.0000" stop-color="#3e26a8"/><stop offset="0.1319" stop-color="#3e27aa"/><stop offset="0.2847" stop-color="#463bdc"/><stop offset="0.3866" stop-color="#484df0"/><stop offset="0.4745" stop-color="#465efb"/><stop offset="0.5116" stop-color="#4367fd"/><stop offset="0.5949" stop-color="#3875fe"/><stop offset="0.6134" stop-color="#2e85f8"/><stop offset="0.7014" stop-color="#2699e9"/><stop offset="0.7616" stop-color="#2798ea"/><stop offset="0.8032" stop-color="#1ea7e1"/><stop offset="1.0000" stop-color="#20a5e2"/></linearGradient><linearGradient id="g204" gradientUnits="userSpaceOnUse" x1="62" x2="278" y1="0" y2="0"><stop offset="0.0000" stop-color="#3e26a8"/><stop offset="0.1366" stop-color="#3e27aa"/><stop offset="0.2940" stop-color="#463bdd"/><stop offset="0.3866" stop-color="#484cef"/><stop offset="0.4745" stop-color="#475cfa"/><stop offset="0.5162" stop-color="#4465fd"/><stop offset="0.5949" stop-color="#3b73fe"/><stop offset="0.6134" stop-color="#2f82f9"/><stop offset="0.7106" stop-color="#2699ea"/><stop offset="0.7708" stop-color="#2798ea"/><stop offset="0.8125" stop-color="#1ea7e1"/><stop offset="1.0000" stop-color="#20a5e2"/></linearGradient><linearGradient id="g205" gradientUnits="userSpaceOnUse" x1="62" x2="278" y1="0" y2="0"><stop offset="0.0000" stop-color="#3e26a8"/><stop offset="0.1366" stop-color="#3e27aa"/><stop offset="0.2940" stop-color="#463adc"/><stop offset="0.3866" stop-color="#484bee"/><stop offset="0.4745" stop-color="#475bf9"/><stop offset="0.5208" stop-color="#4464fd"/><stop offset="0.5949" stop-color="#3e70ff"/><stop offset="0.6134" stop-color="#307ffb"/><stop offset="0.7199" stop-color="#2798ea"/><stop offset="0.7801" stop-color="#2699e9"/><stop offset="0.8218" stop-color="#1ea6e1"/><stop offset="1.0000" stop-color="#20a5e3"/></linearGradient><linearGradient id="g206" gradientUnits="userSpaceOnUse" x1="62" x2="278" y1="0" y2="0"><stop offset="0.0000" stop-color="#3e26a8"/><stop offset="0.1412" stop-color="#3e27ab"/><stop offset="0.2986" stop-color="#463bdc"/><stop offset="0.4329" stop-color="#4852f4"/><stop offset="0.4745" stop-color="#4759f9"/><stop offset="0.5255" stop-color="#4563fc"/><stop offset="0.5995" stop-color="#3d70ff"/><stop offset="0.6181" stop-color="#317dfc"/><stop offset="0.7106" stop-color="#2994ed"/><stop offset="0.7477" stop-color="#2798ea"/><stop offset="0.7986" stop-color="#2699e9"/><stop offset="0.8403" stop-color="#1fa6e2"/><stop offset="1.0000" stop-color="#20a5e3"/></linearGradient><linearGradient id="g207" gradientUnits="userSpaceOnUse" x1="62" x2="278" y1="0" y2="0"><stop offset="0.0000" stop-color="#3e26a8"/><stop offset="0.1412" stop-color="#3e27aa"/><stop offset="0.3032" stop-color="#463bdc"/><stop offset="0.4329" stop-color="#4851f3"/><stop offset="0.4745" stop-color="#4758f8"/><stop offset="0.5255" stop-color="#4561fc"/><stop offset="0.5995" stop-color="#3f6efe"/><stop offset="0.6181" stop-color="#3479fd"/><stop offset="0.7384" stop-color="#2c8ff0"/><stop offset="0.7894" stop-color="#2896ec"/><stop offset="0.8634" stop-color="#2994ed"/><stop offset="0.9097" stop-color="#20a4e3"/><stop offset="1.0000" stop-color="#20a4e3"/></linearGradient><linearGradient id="g208" gradientUnits="userSpaceOnUse" x1="62" x2="278" y1="0" y2="0"><stop offset="0.0000" stop-color="#3e26a8"/><stop offset="0.1458" stop-color="#3e27ab"/><stop offset="0.3079" stop-color="#463bdd"/><stop offset="0.4329" stop-color="#4850f3"/><stop offset="0.4745" stop-color="#4757f7"/><stop offset="0.5301" stop-color="#4660fc"/><stop offset="0.5995" stop-color="#406cfe"/><stop offset="0.6181" stop-color="#3777fe"/><stop offset="0.7199" stop-color="#2d89f5"/><stop offset="0.7940" stop-color="#2896ec"/><stop offset="0.8727" stop-color="#2994ec"/><stop offset="0.9190" stop-color="#20a4e3"/><stop offset="1.0000" stop-color="#20a4e3"/></linearGradient><linearGradient id="g209" gradientUnits="userSpaceOnUse" x1="62" x2="278" y1="0" y2="0"><stop offset="0.0000" stop-color="#3e26a8"/><stop offset="0.1458" stop-color="#3e27aa"/><stop offset="0.3125" stop-color="#463bdc"/><stop offset="0.4329" stop-color="#484ff2"/><stop offset="0.4745" stop-color="#4756f7"/><stop offset="0.5347" stop-color="#4660fb"/><stop offset="0.5995" stop-color="#416bfe"/><stop offset="0.6181" stop-color="#3876fe"/><stop offset="0.7199" stop-color="#2e87f7"/><stop offset="0.7986" stop-color="#2895ec"/><stop offset="0.8819" stop-color="#2995ec"/><stop offset="0.9282" stop-color="#20a4e3"/><stop offset="1.0000" stop-color="#20a4e3"/></linearGradient><linearGradient id="g210" gradientUnits="userSpaceOnUse" x1="62" x2="278" y1="0" y2="0"><stop offset="0.0000" stop-color="#3e26a8"/><stop offset="0.1505" stop-color="#3e27aa"/><stop offset="0.3171" stop-color="#463adc"/><stop offset="0.4329" stop-color="#484ef1"/><stop offset="0.4792" stop-color="#4757f7"/><stop offset="0.5995" stop-color="#426afe"/><stop offset="0.6181" stop-color="#3975fe"/><stop offset="0.7153" stop-color="#2e85f8"/><stop offset="0.8079" stop-color="#2895ec"/><stop offset="0.8912" stop-color="#2995ec"/><stop offset="0.9375" stop-color="#20a4e3"/><stop offset="1.0000" stop-color="#20a4e3"/></linearGradient><linearGradient id="g211" gradientUnits="userSpaceOnUse" x1="62" x2="278" y1="0" y2="0"><stop offset="0.0000" stop-color="#3e26a8"/><stop offset="0.1551" stop-color="#3e27aa"/><stop offset="0.3264" stop-color="#463bdc"/><stop offset="0.4329" stop-color="#484cf0"/><stop offset="0.4792" stop-color="#4755f6"/><stop offset="0.5995" stop-color="#4367fd"/><stop offset="0.6181" stop-color="#3c72ff"/><stop offset="0.7245" stop-color="#2e84f9"/><stop offset="0.8171" stop-color="#2995ec"/><stop offset="0.9005" stop-color="#2895ec"/><stop offset="0.9468" stop-color="#20a4e3"/><stop offset="1.0000" stop-color="#20a4e3"/></linearGradient><linearGradient id="g212" gradientUnits="userSpaceOnUse" x1="62" x2="278" y1="0" y2="0"><stop offset="0.0000" stop-color="#3e26a8"/><stop offset="0.1597" stop-color="#3e27aa"/><stop offset="0.3310" stop-color="#463adb"/><stop offset="0.4329" stop-color="#484bef"/><stop offset="0.4792" stop-color="#4853f5"/><stop offset="0.5995" stop-color="#4465fd"/><stop offset="0.6181" stop-color="#3e6fff"/><stop offset="0.7384" stop-color="#2e84f9"/><stop offset="0.8310" stop-color="#2994ed"/><stop offset="0.9097" stop-color="#2895ec"/><stop offset="0.9560" stop-color="#20a4e3"/><stop offset="1.0000" stop-color="#20a4e3"/></linearGradient><linearGradient id="g213" gradientUnits="userSpaceOnUse" x1="62" x2="278" y1="0" y2="0"><stop offset="0.0000" stop-color="#3e26a8"/><stop offset="0.1644" stop-color="#3e27aa"/><stop offset="0.3403" stop-color="#463bdc"/><stop offset="0.4375" stop-color="#484aee"/><stop offset="0.4792" stop-color="#4852f4"/><stop offset="0.5995" stop-color="#4464fd"/><stop offset="0.6181" stop-color="#3f6eff"/><stop offset="0.7431" stop-color="#2e83f9"/><stop offset="0.8356" stop-color="#2994ed"/><stop offset="0.9097" stop-color="#2a93ed"/><stop offset="0.9606" stop-color="#20a4e3"/><stop offset="1.0000" stop-color="#20a4e3"/></linearGradient><linearGradient id="cbar" x1="0" x2="0" y1="0" y2="1"><stop offset="0.0000" stop-color="#f9fb15"/><stop offset="0.0312" stop-color="#f6ef20"/><stop offset="0.0625" stop-color="#f5e327"/><stop offset="0.0938" stop-color="#f9d62d"/><stop offset="0.1250" stop-color="#feca33"/><stop offset="0.1562" stop-color="#febe3c"/><stop offset="0.1875" stop-color="#f1ba37"/><stop offset="0.2188" stop-color="#debc2a"/><stop offset="0.2500" stop-color="#c8c129"/><stop offset="0.2812" stop-color="#afc637"/><stop offset="0.3125" stop-color="#94ca4a"/><stop offset="0.3438" stop-color="#77cc60"/><stop offset="0.3750" stop-color="#5ccc76"/><stop offset="0.4062" stop-color="#44ca8a"/><stop offset="0.4375" stop-color="#34c79c"/><stop offset="0.4688" stop-color="#28c2ab"/><stop offset="0.5000" stop-color="#12beb9"/><stop offset="0.5312" stop-color="#01b9c6"/><stop offset="0.5625" stop-color="#0cb3d3"/><stop offset="0.5938" stop-color="#1aacdd"/><stop offset="0.6250" stop-color="#21a3e3"/><stop offset="0.6562" stop-color="#269ae9"/><stop offset="0.6875" stop-color="#2c90f0"/><stop offset="0.7188" stop-color="#2e85f8"/><stop offset="0.7500" stop-color="#347afd"/><stop offset="0.7812" stop-color="#3f6efe"/><stop offset="0.8125" stop-color="#4562fc"/><stop offset="0.8438" stop-color="#4757f7"/><stop offset="0.8750" stop-color="#484cef"/><stop offset="0.9062" stop-color="#4741e5"/><stop offset="0.9375" stop-color="#4536d5"/><stop offset="0.9688" stop-color="#422ebf"/><stop offset="1.0000" stop-color="#3e26a8"/></linearGradient>
<linearGradient id="glow" x1="0" x2="0" y1="0" y2="1">
 <stop offset="0" stop-color="#ffffff" stop-opacity="0"/>
 <stop offset="0.3" stop-color="#f2eeff" stop-opacity="0.7"/>
 <stop offset="0.5" stop-color="#ffffff" stop-opacity="0.9"/>
 <stop offset="0.7" stop-color="#f2eeff" stop-opacity="0.7"/>
 <stop offset="1" stop-color="#ffffff" stop-opacity="0"/>
</linearGradient>
</defs>
<rect width="685" height="645" fill="#ffffff"/>
<text transform="translate(-0.30,15.90) scale(1,1.040)" font-size="20.5" text-anchor="start" fill="#000" font-weight="bold" >a</text>
<text transform="translate(431.60,15.20) scale(1,1.040)" font-size="20.5" text-anchor="start" fill="#000" font-weight="bold" >b</text>
<text transform="translate(-0.30,368.80) scale(1,1.040)" font-size="20.5" text-anchor="start" fill="#000" font-weight="bold" >c</text>
<text transform="translate(431.40,368.90) scale(1,1.040)" font-size="20.5" text-anchor="start" fill="#000" font-weight="bold" >d</text>
<clipPath id="clipA"><rect x="62.00" y="59.60" width="215.60" height="213.10"/></clipPath>
<g clip-path="url(#clipA)" shape-rendering="crispEdges">
<rect x="62" y="59" width="216" height="2" fill="url(#g0)"/>
<rect x="62" y="61" width="216" height="2" fill="url(#g1)"/>
<rect x="62" y="63" width="216" height="2" fill="url(#g2)"/>
<rect x="62" y="65" width="216" height="2" fill="url(#g3)"/>
<rect x="62" y="67" width="216" height="2" fill="url(#g4)"/>
<rect x="62" y="69" width="216" height="2" fill="url(#g5)"/>
<rect x="62" y="71" width="216" height="2" fill="url(#g6)"/>
<rect x="62" y="73" width="216" height="2" fill="url(#g7)"/>
<rect x="62" y="75" width="216" height="2" fill="url(#g8)"/>
<rect x="62" y="77" width="216" height="2" fill="url(#g9)"/>
<rect x="62" y="79" width="216" height="2" fill="url(#g10)"/>
<rect x="62" y="81" width="216" height="2" fill="url(#g11)"/>
<rect x="62" y="83" width="216" height="2" fill="url(#g12)"/>
<rect x="62" y="85" width="216" height="2" fill="url(#g13)"/>
<rect x="62" y="87" width="216" height="2" fill="url(#g14)"/>
<rect x="62" y="89" width="216" height="2" fill="url(#g15)"/>
<rect x="62" y="91" width="216" height="2" fill="url(#g16)"/>
<rect x="62" y="93" width="216" height="2" fill="url(#g17)"/>
<rect x="62" y="95" width="216" height="2" fill="url(#g18)"/>
<rect x="62" y="97" width="216" height="2" fill="url(#g19)"/>
<rect x="62" y="99" width="216" height="2" fill="url(#g20)"/>
<rect x="62" y="101" width="216" height="2" fill="url(#g21)"/>
<rect x="62" y="103" width="216" height="2" fill="url(#g22)"/>
<rect x="62" y="105" width="216" height="2" fill="url(#g23)"/>
<rect x="62" y="107" width="216" height="2" fill="url(#g24)"/>
<rect x="62" y="109" width="216" height="2" fill="url(#g25)"/>
<rect x="62" y="111" width="216" height="2" fill="url(#g26)"/>
<rect x="62" y="113" width="216" height="2" fill="url(#g27)"/>
<rect x="62" y="115" width="216" height="2" fill="url(#g28)"/>
<rect x="62" y="117" width="216" height="2" fill="url(#g29)"/>
<rect x="62" y="119" width="216" height="2" fill="url(#g30)"/>
<rect x="62" y="121" width="216" height="2" fill="url(#g31)"/>
<rect x="62" y="123" width="216" height="2" fill="url(#g32)"/>
<rect x="62" y="125" width="216" height="2" fill="url(#g33)"/>
<rect x="62" y="127" width="216" height="2" fill="url(#g34)"/>
<rect x="62" y="129" width="216" height="2" fill="url(#g35)"/>
<rect x="62" y="131" width="216" height="2" fill="url(#g36)"/>
<rect x="62" y="133" width="216" height="2" fill="url(#g37)"/>
<rect x="62" y="135" width="216" height="2" fill="url(#g38)"/>
<rect x="62" y="137" width="216" height="2" fill="url(#g39)"/>
<rect x="62" y="139" width="216" height="2" fill="url(#g40)"/>
<rect x="62" y="141" width="216" height="2" fill="url(#g41)"/>
<rect x="62" y="143" width="216" height="2" fill="url(#g42)"/>
<rect x="62" y="145" width="216" height="2" fill="url(#g43)"/>
<rect x="62" y="147" width="216" height="2" fill="url(#g44)"/>
<rect x="62" y="149" width="216" height="2" fill="url(#g45)"/>
<rect x="62" y="151" width="216" height="2" fill="url(#g46)"/>
<rect x="62" y="153" width="216" height="2" fill="url(#g47)"/>
<rect x="62" y="155" width="216" height="2" fill="url(#g48)"/>
<rect x="62" y="157" width="216" height="2" fill="url(#g49)"/>
<rect x="62" y="159" width="216" height="2" fill="url(#g50)"/>
<rect x="62" y="161" width="216" height="2" fill="url(#g51)"/>
<rect x="62" y="163" width="216" height="2" fill="url(#g52)"/>
<rect x="62" y="165" width="216" height="2" fill="url(#g53)"/>
<rect x="62" y="167" width="216" height="2" fill="url(#g54)"/>
<rect x="62" y="169" width="216" height="2" fill="url(#g55)"/>
<rect x="62" y="171" width="216" height="2" fill="url(#g56)"/>
<rect x="62" y="173" width="216" height="2" fill="url(#g57)"/>
<rect x="62" y="175" width="216" height="2" fill="url(#g58)"/>
<rect x="62" y="177" width="216" height="2" fill="url(#g59)"/>
<rect x="62" y="179" width="216" height="2" fill="url(#g60)"/>
<rect x="62" y="181" width="216" height="2" fill="url(#g61)"/>
<rect x="62" y="183" width="216" height="2" fill="url(#g62)"/>
<rect x="62" y="185" width="216" height="2" fill="url(#g63)"/>
<rect x="62" y="187" width="216" height="2" fill="url(#g64)"/>
<rect x="62" y="189" width="216" height="2" fill="url(#g65)"/>
<rect x="62" y="191" width="216" height="2" fill="url(#g66)"/>
<rect x="62" y="193" width="216" height="2" fill="url(#g67)"/>
<rect x="62" y="195" width="216" height="2" fill="url(#g68)"/>
<rect x="62" y="197" width="216" height="2" fill="url(#g69)"/>
<rect x="62" y="199" width="216" height="2" fill="url(#g70)"/>
<rect x="62" y="201" width="216" height="2" fill="url(#g71)"/>
<rect x="62" y="203" width="216" height="2" fill="url(#g72)"/>
<rect x="62" y="205" width="216" height="2" fill="url(#g73)"/>
<rect x="62" y="207" width="216" height="2" fill="url(#g74)"/>
<rect x="62" y="209" width="216" height="2" fill="url(#g75)"/>
<rect x="62" y="211" width="216" height="2" fill="url(#g76)"/>
<rect x="62" y="213" width="216" height="2" fill="url(#g77)"/>
<rect x="62" y="215" width="216" height="2" fill="url(#g78)"/>
<rect x="62" y="217" width="216" height="2" fill="url(#g79)"/>
<rect x="62" y="219" width="216" height="2" fill="url(#g80)"/>
<rect x="62" y="221" width="216" height="2" fill="url(#g81)"/>
<rect x="62" y="223" width="216" height="2" fill="url(#g82)"/>
<rect x="62" y="225" width="216" height="2" fill="url(#g83)"/>
<rect x="62" y="227" width="216" height="2" fill="url(#g84)"/>
<rect x="62" y="229" width="216" height="2" fill="url(#g85)"/>
<rect x="62" y="231" width="216" height="2" fill="url(#g86)"/>
<rect x="62" y="233" width="216" height="2" fill="url(#g87)"/>
<rect x="62" y="235" width="216" height="2" fill="url(#g88)"/>
<rect x="62" y="237" width="216" height="2" fill="url(#g89)"/>
<rect x="62" y="239" width="216" height="2" fill="url(#g90)"/>
<rect x="62" y="241" width="216" height="2" fill="url(#g91)"/>
<rect x="62" y="243" width="216" height="2" fill="url(#g92)"/>
<rect x="62" y="245" width="216" height="2" fill="url(#g93)"/>
<rect x="62" y="247" width="216" height="2" fill="url(#g94)"/>
<rect x="62" y="249" width="216" height="2" fill="url(#g95)"/>
<rect x="62" y="251" width="216" height="2" fill="url(#g96)"/>
<rect x="62" y="253" width="216" height="2" fill="url(#g97)"/>
<rect x="62" y="255" width="216" height="2" fill="url(#g98)"/>
<rect x="62" y="257" width="216" height="2" fill="url(#g99)"/>
<rect x="62" y="259" width="216" height="2" fill="url(#g100)"/>
<rect x="62" y="261" width="216" height="2" fill="url(#g101)"/>
<rect x="62" y="263" width="216" height="2" fill="url(#g102)"/>
<rect x="62" y="265" width="216" height="2" fill="url(#g103)"/>
<rect x="62" y="267" width="216" height="2" fill="url(#g104)"/>
<rect x="62" y="269" width="216" height="2" fill="url(#g105)"/>
<rect x="62" y="271" width="216" height="2" fill="url(#g106)"/>
</g>
<clipPath id="clipC"><rect x="62.00" y="380.20" width="215.60" height="212.90"/></clipPath>
<g clip-path="url(#clipC)" shape-rendering="crispEdges">
<rect x="62" y="380" width="216" height="2" fill="url(#g107)"/>
<rect x="62" y="382" width="216" height="2" fill="url(#g108)"/>
<rect x="62" y="384" width="216" height="2" fill="url(#g109)"/>
<rect x="62" y="386" width="216" height="2" fill="url(#g110)"/>
<rect x="62" y="388" width="216" height="2" fill="url(#g111)"/>
<rect x="62" y="390" width="216" height="2" fill="url(#g112)"/>
<rect x="62" y="392" width="216" height="2" fill="url(#g113)"/>
<rect x="62" y="394" width="216" height="2" fill="url(#g114)"/>
<rect x="62" y="396" width="216" height="2" fill="url(#g115)"/>
<rect x="62" y="398" width="216" height="2" fill="url(#g116)"/>
<rect x="62" y="400" width="216" height="2" fill="url(#g117)"/>
<rect x="62" y="402" width="216" height="2" fill="url(#g118)"/>
<rect x="62" y="404" width="216" height="2" fill="url(#g119)"/>
<rect x="62" y="406" width="216" height="2" fill="url(#g120)"/>
<rect x="62" y="408" width="216" height="2" fill="url(#g121)"/>
<rect x="62" y="410" width="216" height="2" fill="url(#g122)"/>
<rect x="62" y="412" width="216" height="2" fill="url(#g123)"/>
<rect x="62" y="414" width="216" height="2" fill="url(#g124)"/>
<rect x="62" y="416" width="216" height="2" fill="url(#g125)"/>
<rect x="62" y="418" width="216" height="2" fill="url(#g126)"/>
<rect x="62" y="420" width="216" height="2" fill="url(#g127)"/>
<rect x="62" y="422" width="216" height="2" fill="url(#g128)"/>
<rect x="62" y="424" width="216" height="2" fill="url(#g129)"/>
<rect x="62" y="426" width="216" height="2" fill="url(#g130)"/>
<rect x="62" y="428" width="216" height="2" fill="url(#g131)"/>
<rect x="62" y="430" width="216" height="2" fill="url(#g132)"/>
<rect x="62" y="432" width="216" height="2" fill="url(#g133)"/>
<rect x="62" y="434" width="216" height="2" fill="url(#g134)"/>
<rect x="62" y="436" width="216" height="2" fill="url(#g135)"/>
<rect x="62" y="438" width="216" height="2" fill="url(#g136)"/>
<rect x="62" y="440" width="216" height="2" fill="url(#g137)"/>
<rect x="62" y="442" width="216" height="2" fill="url(#g138)"/>
<rect x="62" y="444" width="216" height="2" fill="url(#g139)"/>
<rect x="62" y="446" width="216" height="2" fill="url(#g140)"/>
<rect x="62" y="448" width="216" height="2" fill="url(#g141)"/>
<rect x="62" y="450" width="216" height="2" fill="url(#g142)"/>
<rect x="62" y="452" width="216" height="2" fill="url(#g143)"/>
<rect x="62" y="454" width="216" height="2" fill="url(#g144)"/>
<rect x="62" y="456" width="216" height="2" fill="url(#g145)"/>
<rect x="62" y="458" width="216" height="2" fill="url(#g146)"/>
<rect x="62" y="460" width="216" height="2" fill="url(#g147)"/>
<rect x="62" y="462" width="216" height="2" fill="url(#g148)"/>
<rect x="62" y="464" width="216" height="2" fill="url(#g149)"/>
<rect x="62" y="466" width="216" height="2" fill="url(#g150)"/>
<rect x="62" y="468" width="216" height="2" fill="url(#g151)"/>
<rect x="62" y="470" width="216" height="2" fill="url(#g152)"/>
<rect x="62" y="472" width="216" height="2" fill="url(#g153)"/>
<rect x="62" y="474" width="216" height="2" fill="url(#g154)"/>
<rect x="62" y="476" width="216" height="2" fill="url(#g155)"/>
<rect x="62" y="478" width="216" height="2" fill="url(#g156)"/>
<rect x="62" y="480" width="216" height="2" fill="url(#g157)"/>
<rect x="62" y="482" width="216" height="2" fill="url(#g158)"/>
<rect x="62" y="484" width="216" height="2" fill="url(#g159)"/>
<rect x="62" y="486" width="216" height="2" fill="url(#g160)"/>
<rect x="62" y="488" width="216" height="2" fill="url(#g161)"/>
<rect x="62" y="490" width="216" height="2" fill="url(#g162)"/>
<rect x="62" y="492" width="216" height="2" fill="url(#g163)"/>
<rect x="62" y="494" width="216" height="2" fill="url(#g164)"/>
<rect x="62" y="496" width="216" height="2" fill="url(#g165)"/>
<rect x="62" y="498" width="216" height="2" fill="url(#g166)"/>
<rect x="62" y="500" width="216" height="2" fill="url(#g167)"/>
<rect x="62" y="502" width="216" height="2" fill="url(#g168)"/>
<rect x="62" y="504" width="216" height="2" fill="url(#g169)"/>
<rect x="62" y="506" width="216" height="2" fill="url(#g170)"/>
<rect x="62" y="508" width="216" height="2" fill="url(#g171)"/>
<rect x="62" y="510" width="216" height="2" fill="url(#g172)"/>
<rect x="62" y="512" width="216" height="2" fill="url(#g173)"/>
<rect x="62" y="514" width="216" height="2" fill="url(#g174)"/>
<rect x="62" y="516" width="216" height="2" fill="url(#g175)"/>
<rect x="62" y="518" width="216" height="2" fill="url(#g176)"/>
<rect x="62" y="520" width="216" height="2" fill="url(#g177)"/>
<rect x="62" y="522" width="216" height="2" fill="url(#g178)"/>
<rect x="62" y="524" width="216" height="2" fill="url(#g179)"/>
<rect x="62" y="526" width="216" height="2" fill="url(#g180)"/>
<rect x="62" y="528" width="216" height="2" fill="url(#g181)"/>
<rect x="62" y="530" width="216" height="2" fill="url(#g182)"/>
<rect x="62" y="532" width="216" height="2" fill="url(#g183)"/>
<rect x="62" y="534" width="216" height="2" fill="url(#g184)"/>
<rect x="62" y="536" width="216" height="2" fill="url(#g185)"/>
<rect x="62" y="538" width="216" height="2" fill="url(#g186)"/>
<rect x="62" y="540" width="216" height="2" fill="url(#g187)"/>
<rect x="62" y="542" width="216" height="2" fill="url(#g188)"/>
<rect x="62" y="544" width="216" height="2" fill="url(#g189)"/>
<rect x="62" y="546" width="216" height="2" fill="url(#g190)"/>
<rect x="62" y="548" width="216" height="2" fill="url(#g191)"/>
<rect x="62" y="550" width="216" height="2" fill="url(#g192)"/>
<rect x="62" y="552" width="216" height="2" fill="url(#g193)"/>
<rect x="62" y="554" width="216" height="2" fill="url(#g194)"/>
<rect x="62" y="556" width="216" height="2" fill="url(#g195)"/>
<rect x="62" y="558" width="216" height="2" fill="url(#g196)"/>
<rect x="62" y="560" width="216" height="2" fill="url(#g197)"/>
<rect x="62" y="562" width="216" height="2" fill="url(#g198)"/>
<rect x="62" y="564" width="216" height="2" fill="url(#g199)"/>
<rect x="62" y="566" width="216" height="2" fill="url(#g200)"/>
<rect x="62" y="568" width="216" height="2" fill="url(#g201)"/>
<rect x="62" y="570" width="216" height="2" fill="url(#g202)"/>
<rect x="62" y="572" width="216" height="2" fill="url(#g203)"/>
<rect x="62" y="574" width="216" height="2" fill="url(#g204)"/>
<rect x="62" y="576" width="216" height="2" fill="url(#g205)"/>
<rect x="62" y="578" width="216" height="2" fill="url(#g206)"/>
<rect x="62" y="580" width="216" height="2" fill="url(#g207)"/>
<rect x="62" y="582" width="216" height="2" fill="url(#g208)"/>
<rect x="62" y="584" width="216" height="2" fill="url(#g209)"/>
<rect x="62" y="586" width="216" height="2" fill="url(#g210)"/>
<rect x="62" y="588" width="216" height="2" fill="url(#g211)"/>
<rect x="62" y="590" width="216" height="2" fill="url(#g212)"/>
<rect x="62" y="592" width="216" height="2" fill="url(#g213)"/>
</g>
<polyline points="186.5,59.6 190.2,87.8 195.7,90.0 201.2,117.4 214.3,119.6 219.8,147.0 223.8,147.3" fill="none" stroke="#eeeeee" stroke-width="0.8" />
<polyline points="255.3,162.6 255.9,164.4 258.1,179.7 270.1,181.9 274.5,192.8 277.6,194.0" fill="none" stroke="#eeeeee" stroke-width="0.8" />
<polyline points="143.5,59.6 149.5,90.8 150.8,98.8 157.4,117.4 162.8,120.0 166.7,144.8 176.0,147.9 189.9,149.5 194.6,166.5 200.0,178.9 206.6,186.5 208.8,188.3" fill="none" stroke="#eeeeee" stroke-width="0.8" />
<polyline points="237.7,209.8 251.5,210.8 257.5,230.0 258.4,238.8 277.6,238.8" fill="none" stroke="#eeeeee" stroke-width="0.8" />
<polyline points="109.8,59.6 112.0,73.5 114.1,87.7" fill="none" stroke="#eeeeee" stroke-width="0.8" />
<polyline points="128.6,126.9 133.3,147.1 141.9,148.7 147.3,166.5 153.5,173.5 161.2,183.6 168.2,194.4 172.9,196.0 177.5,200.6 183.7,204.5 189.9,216.1 193.5,219.1 199.0,221.3 201.7,225.0 205.5,239.2 214.6,240.5 221.6,241.4" fill="none" stroke="#eeeeee" stroke-width="0.8" />
<polyline points="248.3,262.0 252.7,270.3 257.5,271.0 258.0,272.7" fill="none" stroke="#eeeeee" stroke-width="0.8" />
<polyline points="97.0,59.6 98.4,80.0 101.7,93.0 105.5,106.0 108.8,115.8 112.0,125.0 115.5,138.6 120.2,152.6 124.0,161.9 128.7,165.0 133.3,177.4 137.2,182.0 145.0,192.9 151.2,202.2 157.4,204.6" fill="none" stroke="#eeeeee" stroke-width="0.8" />
<polyline points="176.7,240.1 185.6,240.2 190.8,249.7 194.6,252.0 199.3,256.3 203.1,257.3 209.8,271.0 219.9,271.3" fill="none" stroke="#eeeeee" stroke-width="0.8" />
<polyline points="88.1,59.6 90.3,74.5 93.6,90.8 96.8,106.0 99.0,115.8 101.2,125.0 106.2,137.1 112.4,154.1 118.6,171.2 123.3,184.3 129.5,190.5 135.5,198.9" fill="none" stroke="#eeeeee" stroke-width="0.8" />
<polyline points="158.7,232.7 162.3,241.1 168.0,248.7 171.8,250.1 176.6,256.3 181.3,259.6 185.1,264.8 188.9,265.8 195.5,272.0 196.0,272.7" fill="none" stroke="#eeeeee" stroke-width="0.8" />
<polyline points="74.3,380.2 78.5,410.0 82.4,435.9" fill="none" stroke="#eeeeee" stroke-width="0.8" />
<polyline points="88.5,464.1 90.0,470.0 95.8,489.4 100.7,506.8 112.3,528.1 118.4,540.0 127.2,554.6 134.5,569.2 139.6,575.0 143.2,583.8 151.5,593.1" fill="none" stroke="#eeeeee" stroke-width="0.8" />
<polyline points="92.1,380.2 97.4,410.7 109.9,453.4 116.2,470.0 123.9,495.2 127.8,498.1 133.6,508.7 143.3,521.3 152.0,532.9 156.8,534.9 160.0,541.7 165.8,551.4 170.0,556.4 175.5,566.8" fill="none" stroke="#eeeeee" stroke-width="0.8" />
<polyline points="195.7,582.7 199.1,588.3 204.0,589.6 206.1,593.1" fill="none" stroke="#eeeeee" stroke-width="0.8" />
<polyline points="110.8,380.2 113.4,397.4" fill="none" stroke="#eeeeee" stroke-width="0.8" />
<polyline points="122.1,425.9 130.0,449.8 133.7,459.7 137.4,463.4 141.8,465.3 144.3,470.9 146.1,480.8 148.0,487.0 151.7,490.7 156.7,496.9 160.0,502.0 167.8,512.7 173.6,515.6 181.3,524.3 188.0,530.0 191.5,539.0 199.8,539.0 206.1,555.7 211.6,555.7 215.1,558.4" fill="none" stroke="#eeeeee" stroke-width="0.8" />
<polyline points="231.0,577.2 236.6,580.0 249.0,580.6 258.8,591.0 259.5,593.1" fill="none" stroke="#eeeeee" stroke-width="0.8" />
<polyline points="126.9,380.2 130.2,396.2" fill="none" stroke="#eeeeee" stroke-width="0.8" />
<polyline points="139.5,423.5 143.6,428.7 148.0,441.1 152.3,442.3 157.3,451.0 162.2,452.2 164.7,469.6 166.0,477.1 167.2,479.5 170.9,480.8 174.0,486.4 179.6,487.6 184.6,500.0 186.2,501.0 193.9,503.0 198.8,508.8 206.5,519.4 212.3,521.4 218.2,528.2 226.9,530.1 229.6,530.5 234.5,542.5 236.6,543.2" fill="none" stroke="#eeeeee" stroke-width="0.8" />
<polyline points="255.3,557.0 258.8,570.2 265.0,570.4 277.6,570.5" fill="none" stroke="#eeeeee" stroke-width="0.8" />
<polyline points="187.6,380.2 188.4,395.0 191.0,407.8 195.2,408.7 197.8,422.3" fill="none" stroke="#eeeeee" stroke-width="0.8" />
<polyline points="215.3,439.0 217.4,450.0 219.7,462.4 228.7,464.2 230.4,467.7 252.7,468.6 255.0,475.8 258.9,499.1 270.5,500.0 275.4,514.6 277.6,515.0" fill="none" stroke="#eeeeee" stroke-width="0.8" />
<polyline points="189.4,380.2 193.9,385.7 198.3,386.6 200.1,392.8 203.7,393.7 205.0,395.0 207.6,407.0" fill="none" stroke="#eeeeee" stroke-width="0.8" />
<polyline points="225.1,422.3 227.7,429.1 236.7,429.4 242.9,446.3 252.7,448.1 256.3,467.7 258.1,478.4 267.0,480.2 276.8,482.0 277.6,482.0" fill="none" stroke="#eeeeee" stroke-width="0.8" />
<text transform="translate(121.50,107.30) scale(1,1.040) rotate(67.93)" font-size="14.5" text-anchor="middle" fill="#ffffff" dominant-baseline="central">3000</text>
<text transform="translate(241.50,153.40) scale(1,1.040) rotate(24.15)" font-size="14.5" text-anchor="middle" fill="#ffffff" dominant-baseline="central">1500</text>
<text transform="translate(223.00,199.30) scale(1,1.040) rotate(32.97)" font-size="14.5" text-anchor="middle" fill="#ffffff" dominant-baseline="central">2000</text>
<text transform="translate(146.50,216.70) scale(1,1.040) rotate(53.53)" font-size="14.5" text-anchor="middle" fill="#ffffff" dominant-baseline="central">5000</text>
<text transform="translate(166.80,221.90) scale(1,1.040) rotate(58.00)" font-size="14.5" text-anchor="middle" fill="#ffffff" dominant-baseline="central">4000</text>
<text transform="translate(232.40,254.50) scale(1,1.040) rotate(35.93)" font-size="14.5" text-anchor="middle" fill="#ffffff" dominant-baseline="central">3000</text>
<text transform="translate(83.30,449.50) scale(1,1.040) rotate(70.30)" font-size="14.5" text-anchor="middle" fill="#ffffff" dominant-baseline="central">0.1</text>
<text transform="translate(115.30,412.00) scale(1,1.040) rotate(66.18)" font-size="14.5" text-anchor="middle" fill="#ffffff" dominant-baseline="central">0.3</text>
<text transform="translate(133.30,409.20) scale(1,1.040) rotate(62.08)" font-size="14.5" text-anchor="middle" fill="#ffffff" dominant-baseline="central">0.4</text>
<text transform="translate(214.00,416.10) scale(1,1.040) rotate(39.89)" font-size="14.5" text-anchor="middle" fill="#ffffff" dominant-baseline="central">0.8</text>
<text transform="translate(203.10,433.60) scale(1,1.040) rotate(48.89)" font-size="14.5" text-anchor="middle" fill="#ffffff" dominant-baseline="central">0.6</text>
<text transform="translate(247.70,547.30) scale(1,1.040) rotate(33.95)" font-size="14.5" text-anchor="middle" fill="#ffffff" dominant-baseline="central">0.4</text>
<text transform="translate(222.70,566.80) scale(1,1.040) rotate(43.88)" font-size="14.5" text-anchor="middle" fill="#ffffff" dominant-baseline="central">0.3</text>
<text transform="translate(184.80,575.40) scale(1,1.040) rotate(34.94)" font-size="14.5" text-anchor="middle" fill="#ffffff" dominant-baseline="central">0.2</text>
<line x1="95.3" y1="60" x2="95.3" y2="272.7" stroke="#a0307a" stroke-width="1.2" stroke-dasharray="4,2.6"/>
<line x1="98.1" y1="62" x2="98.1" y2="272.7" stroke="#f7a500" stroke-width="1.9"/>
<line x1="124.3" y1="61" x2="124.3" y2="272.7" stroke="#3fb47a" stroke-width="2" stroke-dasharray="1.8,2.4"/>
<rect x="62.3" y="466.4" width="215.5" height="11.6" fill="url(#glow)"/>
<line x1="64.4" y1="472.3" x2="277.8" y2="472.3" stroke="#3aa58c" stroke-width="1.4"/>
<rect x="62.0" y="59.6" width="215.6" height="213.1" fill="none" stroke="#262626" stroke-width="0.8"/>
<path d="M86.0 272.7v-2.2M86.0 59.6v2.2M133.9 272.7v-2.2M133.9 59.6v2.2M181.8 272.7v-2.2M181.8 59.6v2.2M229.7 272.7v-2.2M229.7 59.6v2.2M62.0 59.6h2.2M277.6 59.6h-2.2M62.0 90.0h2.2M277.6 90.0h-2.2M62.0 120.5h2.2M277.6 120.5h-2.2M62.0 150.9h2.2M277.6 150.9h-2.2M62.0 181.4h2.2M277.6 181.4h-2.2M62.0 211.8h2.2M277.6 211.8h-2.2M62.0 242.3h2.2M277.6 242.3h-2.2M62.0 272.7h2.2M277.6 272.7h-2.2" stroke="#262626" stroke-width="0.8" fill="none"/>
<text transform="translate(54.60,65.60) scale(1,1.040)" font-size="14" text-anchor="end" fill="#222222" stroke="#222222" stroke-width="0.15" >1.0</text>
<text transform="translate(54.60,96.04) scale(1,1.040)" font-size="14" text-anchor="end" fill="#222222" stroke="#222222" stroke-width="0.15" >0.9</text>
<text transform="translate(54.60,126.49) scale(1,1.040)" font-size="14" text-anchor="end" fill="#222222" stroke="#222222" stroke-width="0.15" >0.8</text>
<text transform="translate(54.60,156.93) scale(1,1.040)" font-size="14" text-anchor="end" fill="#222222" stroke="#222222" stroke-width="0.15" >0.7</text>
<text transform="translate(54.60,187.37) scale(1,1.040)" font-size="14" text-anchor="end" fill="#222222" stroke="#222222" stroke-width="0.15" >0.6</text>
<text transform="translate(54.60,217.81) scale(1,1.040)" font-size="14" text-anchor="end" fill="#222222" stroke="#222222" stroke-width="0.15" >0.5</text>
<text transform="translate(54.60,248.26) scale(1,1.040)" font-size="14" text-anchor="end" fill="#222222" stroke="#222222" stroke-width="0.15" >0.4</text>
<text transform="translate(54.60,278.70) scale(1,1.040)" font-size="14" text-anchor="end" fill="#222222" stroke="#222222" stroke-width="0.15" >0.3</text>
<text transform="translate(85.96,294.10) scale(1,1.040)" font-size="14" text-anchor="middle" fill="#222222" stroke="#222222" stroke-width="0.15" >2</text>
<text transform="translate(133.87,294.10) scale(1,1.040)" font-size="14" text-anchor="middle" fill="#222222" stroke="#222222" stroke-width="0.15" >4</text>
<text transform="translate(181.78,294.10) scale(1,1.040)" font-size="14" text-anchor="middle" fill="#222222" stroke="#222222" stroke-width="0.15" >6</text>
<text transform="translate(229.69,294.10) scale(1,1.040)" font-size="14" text-anchor="middle" fill="#222222" stroke="#222222" stroke-width="0.15" >8</text>
<text transform="translate(277.60,294.10) scale(1,1.040)" font-size="14" text-anchor="middle" fill="#222222" stroke="#222222" stroke-width="0.15" >10</text>
<text transform="translate(174.30,323.30) scale(1,1.040)" font-size="15.8" text-anchor="middle" fill="#222222" stroke="#222222" stroke-width="0.15" >|<tspan font-style="italic">S</tspan><tspan font-size="10.5" dy="3.8">T</tspan><tspan dy="-3.8">| </tspan><tspan dx="1.6">(10</tspan><tspan font-size="10.5" dy="-4.6">−3</tspan><tspan dy="4.6">K</tspan><tspan font-size="10.5" dy="-4.6">−1</tspan><tspan dy="4.6">)</tspan></text>
<text transform="translate(24.90,163.65) scale(1,1.040) rotate(-90.00)" font-size="15.8" text-anchor="middle" fill="#222222" stroke="#222222" stroke-width="0.15" >Split ratio</text>
<rect x="62.0" y="380.2" width="215.6" height="212.9" fill="none" stroke="#262626" stroke-width="0.8"/>
<path d="M86.0 593.1v-2.2M86.0 380.2v2.2M133.9 593.1v-2.2M133.9 380.2v2.2M181.8 593.1v-2.2M181.8 380.2v2.2M229.7 593.1v-2.2M229.7 380.2v2.2M62.0 380.2h2.2M277.6 380.2h-2.2M62.0 410.6h2.2M277.6 410.6h-2.2M62.0 441.0h2.2M277.6 441.0h-2.2M62.0 471.4h2.2M277.6 471.4h-2.2M62.0 501.9h2.2M277.6 501.9h-2.2M62.0 532.3h2.2M277.6 532.3h-2.2M62.0 562.7h2.2M277.6 562.7h-2.2M62.0 593.1h2.2M277.6 593.1h-2.2" stroke="#262626" stroke-width="0.8" fill="none"/>
<text transform="translate(54.60,386.20) scale(1,1.040)" font-size="14" text-anchor="end" fill="#222222" stroke="#222222" stroke-width="0.15" >1.0</text>
<text transform="translate(54.60,416.61) scale(1,1.040)" font-size="14" text-anchor="end" fill="#222222" stroke="#222222" stroke-width="0.15" >0.9</text>
<text transform="translate(54.60,447.03) scale(1,1.040)" font-size="14" text-anchor="end" fill="#222222" stroke="#222222" stroke-width="0.15" >0.8</text>
<text transform="translate(54.60,477.44) scale(1,1.040)" font-size="14" text-anchor="end" fill="#222222" stroke="#222222" stroke-width="0.15" >0.7</text>
<text transform="translate(54.60,507.86) scale(1,1.040)" font-size="14" text-anchor="end" fill="#222222" stroke="#222222" stroke-width="0.15" >0.6</text>
<text transform="translate(54.60,538.27) scale(1,1.040)" font-size="14" text-anchor="end" fill="#222222" stroke="#222222" stroke-width="0.15" >0.5</text>
<text transform="translate(54.60,568.69) scale(1,1.040)" font-size="14" text-anchor="end" fill="#222222" stroke="#222222" stroke-width="0.15" >0.4</text>
<text transform="translate(54.60,599.10) scale(1,1.040)" font-size="14" text-anchor="end" fill="#222222" stroke="#222222" stroke-width="0.15" >0.3</text>
<text transform="translate(85.96,614.50) scale(1,1.040)" font-size="14" text-anchor="middle" fill="#222222" stroke="#222222" stroke-width="0.15" >2</text>
<text transform="translate(133.87,614.50) scale(1,1.040)" font-size="14" text-anchor="middle" fill="#222222" stroke="#222222" stroke-width="0.15" >4</text>
<text transform="translate(181.78,614.50) scale(1,1.040)" font-size="14" text-anchor="middle" fill="#222222" stroke="#222222" stroke-width="0.15" >6</text>
<text transform="translate(229.69,614.50) scale(1,1.040)" font-size="14" text-anchor="middle" fill="#222222" stroke="#222222" stroke-width="0.15" >8</text>
<text transform="translate(277.60,614.50) scale(1,1.040)" font-size="14" text-anchor="middle" fill="#222222" stroke="#222222" stroke-width="0.15" >10</text>
<text transform="translate(172.20,640.60) scale(1,1.040)" font-size="15.8" text-anchor="middle" fill="#222222" stroke="#222222" stroke-width="0.15" >|<tspan font-style="italic">S</tspan><tspan font-size="10.5" dy="3.8">T</tspan><tspan dy="-3.8">| </tspan><tspan dx="1.6">(10</tspan><tspan font-size="10.5" dy="-4.6">−3</tspan><tspan dy="4.6">K</tspan><tspan font-size="10.5" dy="-4.6">−1</tspan><tspan dy="4.6">)</tspan></text>
<text transform="translate(24.90,484.15) scale(1,1.040) rotate(-90.00)" font-size="15.8" text-anchor="middle" fill="#222222" stroke="#222222" stroke-width="0.15" >Split ratio</text>
<line x1="277.0" y1="61.5" x2="277.0" y2="272.7" stroke="#86cdee" stroke-width="2.7"/>
<rect x="296.4" y="59.6" width="20.4" height="213.1" fill="url(#cbar)" stroke="#262626" stroke-width="0.8"/>
<path d="M316.8 272.7h-2.2M296.4 272.7h2.2" stroke="#262626" stroke-width="0.8"/>
<text transform="translate(321.60,278.70) scale(1,1.040)" font-size="14" text-anchor="start" fill="#222222" stroke="#222222" stroke-width="0.15" >0.0</text>
<path d="M316.8 237.2h-2.2M296.4 237.2h2.2" stroke="#262626" stroke-width="0.8"/>
<text transform="translate(321.60,243.18) scale(1,1.040)" font-size="14" text-anchor="start" fill="#222222" stroke="#222222" stroke-width="0.15" >0.5</text>
<path d="M316.8 201.7h-2.2M296.4 201.7h2.2" stroke="#262626" stroke-width="0.8"/>
<text transform="translate(321.60,207.67) scale(1,1.040)" font-size="14" text-anchor="start" fill="#222222" stroke="#222222" stroke-width="0.15" >1.0</text>
<path d="M316.8 166.1h-2.2M296.4 166.1h2.2" stroke="#262626" stroke-width="0.8"/>
<text transform="translate(321.60,172.15) scale(1,1.040)" font-size="14" text-anchor="start" fill="#222222" stroke="#222222" stroke-width="0.15" >1.5</text>
<path d="M316.8 130.6h-2.2M296.4 130.6h2.2" stroke="#262626" stroke-width="0.8"/>
<text transform="translate(321.60,136.63) scale(1,1.040)" font-size="14" text-anchor="start" fill="#222222" stroke="#222222" stroke-width="0.15" >2.0</text>
<path d="M316.8 95.1h-2.2M296.4 95.1h2.2" stroke="#262626" stroke-width="0.8"/>
<text transform="translate(321.60,101.12) scale(1,1.040)" font-size="14" text-anchor="start" fill="#222222" stroke="#222222" stroke-width="0.15" >2.5</text>
<path d="M316.8 59.6h-2.2M296.4 59.6h2.2" stroke="#262626" stroke-width="0.8"/>
<text transform="translate(321.60,65.60) scale(1,1.040)" font-size="14" text-anchor="start" fill="#222222" stroke="#222222" stroke-width="0.15" >3.0</text>
<text transform="translate(317.60,52.10) scale(1,1.040)" font-size="13.0" text-anchor="start" fill="#222222" stroke="#222222" stroke-width="0.15" ><tspan font-size="15" fill="#555" stroke="none" dy="1.8">×</tspan><tspan dx="1.6" dy="-1.8">10</tspan><tspan font-size="9.6" dy="-6.3">4</tspan></text>
<text transform="translate(367.20,165.00) scale(1,1.040) rotate(-90.00)" font-size="15.8" text-anchor="middle" fill="#222222" stroke="#222222" stroke-width="0.15" >SEC (kWh m<tspan font-size="10.5" dy="-5.5">−3</tspan><tspan dy="5.5">)</tspan></text>
<rect x="296.4" y="380.2" width="20.4" height="212.9" fill="url(#cbar)" stroke="#262626" stroke-width="0.8"/>
<path d="M316.8 593.1h-2.2M296.4 593.1h2.2" stroke="#262626" stroke-width="0.8"/>
<text transform="translate(322.20,599.10) scale(1,1.040)" font-size="14" text-anchor="start" fill="#222222" stroke="#222222" stroke-width="0.15" >0.0</text>
<path d="M316.8 545.9h-2.2M296.4 545.9h2.2" stroke="#262626" stroke-width="0.8"/>
<text transform="translate(322.20,551.92) scale(1,1.040)" font-size="14" text-anchor="start" fill="#222222" stroke="#222222" stroke-width="0.15" >0.2</text>
<path d="M316.8 498.7h-2.2M296.4 498.7h2.2" stroke="#262626" stroke-width="0.8"/>
<text transform="translate(322.20,504.74) scale(1,1.040)" font-size="14" text-anchor="start" fill="#222222" stroke="#222222" stroke-width="0.15" >0.4</text>
<path d="M316.8 451.6h-2.2M296.4 451.6h2.2" stroke="#262626" stroke-width="0.8"/>
<text transform="translate(322.20,457.56) scale(1,1.040)" font-size="14" text-anchor="start" fill="#222222" stroke="#222222" stroke-width="0.15" >0.6</text>
<path d="M316.8 404.4h-2.2M296.4 404.4h2.2" stroke="#262626" stroke-width="0.8"/>
<text transform="translate(322.20,410.38) scale(1,1.040)" font-size="14" text-anchor="start" fill="#222222" stroke="#222222" stroke-width="0.15" >0.8</text>
<text transform="translate(366.40,486.00) scale(1,1.040) rotate(-90.00)" font-size="15.8" text-anchor="middle" fill="#222222" stroke="#222222" stroke-width="0.15" ><tspan font-style="italic">Q/A</tspan> (m<tspan font-size="10.5" dy="-5.5">3</tspan><tspan dy="5.5"> m</tspan><tspan font-size="10.5" dy="-5.5">−2</tspan><tspan dy="5.5">)</tspan></text>
<path d="M75.6 44.4 L86.9 44.4 L94.3 56.2" stroke="#808080" stroke-width="0.9" fill="none"/><path d="M94.3 56.2L89.3 52.8L93.4 50.3Z" fill="#808080"/>
<path d="M94.5 31.6 L98.4 55.4" stroke="#808080" stroke-width="0.9" fill="none"/><path d="M98.4 55.4L95.1 50.4L99.9 49.6Z" fill="#808080"/>
<path d="M133.9 44.9 L129.8 44.9 L125.8 56.6" stroke="#808080" stroke-width="0.9" fill="none"/><path d="M125.8 56.6L125.3 50.6L129.9 52.2Z" fill="#808080"/>
<path d="M277.7 32.3 L277.7 56.6" stroke="#808080" stroke-width="0.9" fill="none"/><path d="M277.7 56.6L275.3 51.1L280.1 51.1Z" fill="#808080"/>
<circle cx="95.0" cy="59.6" r="2.6" fill="#000"/>
<circle cx="98.1" cy="59.6" r="2.6" fill="#000"/>
<circle cx="124.2" cy="59.6" r="2.6" fill="#000"/>
<circle cx="277.6" cy="59.6" r="2.6" fill="#000"/>
<text transform="translate(60.50,33.10) scale(1,1.040)" font-size="10.8" text-anchor="end" fill="#7f7f7f" stroke="#7f7f7f" stroke-width="0.12" >Seawater:</text>
<text transform="translate(71.00,45.50) scale(1,1.040)" font-size="10.8" text-anchor="end" fill="#7f7f7f" stroke="#7f7f7f" stroke-width="0.12" >4043 kWh m<tspan font-size="7.1" dy="-4.2">−3</tspan></text>
<text transform="translate(74.90,24.50) scale(1,1.040)" font-size="10.8" text-anchor="start" fill="#7f7f7f" stroke="#7f7f7f" stroke-width="0.12" >LiI: 3800 kWh m<tspan font-size="7.1" dy="-4.2">−3</tspan></text>
<text transform="translate(137.10,47.10) scale(1,1.040)" font-size="10.8" text-anchor="start" fill="#7f7f7f" stroke="#7f7f7f" stroke-width="0.12" >K<tspan font-size="7.1" dy="2.6">2</tspan><tspan dy="-2.6">SO</tspan><tspan font-size="7.1" dy="2.6">4</tspan><tspan dy="-2.6">: 2495 kWh </tspan>m<tspan font-size="7.1" dy="-4.2">−3</tspan></text>
<text transform="translate(238.90,27.10) scale(1,1.040)" font-size="10.8" text-anchor="start" fill="#7f7f7f" stroke="#7f7f7f" stroke-width="0.12" >NaOH: 1013 kWh m<tspan font-size="7.1" dy="-4.2">−3</tspan></text>
<path d="M154.5 365.8 L137.5 365.8 L126.5 378.0" stroke="#808080" stroke-width="0.9" fill="none"/><path d="M126.5 378.0L128.4 372.3L132.0 375.5Z" fill="#808080"/>
<circle cx="124.2" cy="380.2" r="2.6" fill="#000"/>
<text transform="translate(156.40,370.30) scale(1,1.040)" font-size="10.8" text-anchor="start" fill="#7f7f7f" stroke="#7f7f7f" stroke-width="0.12" >K<tspan font-size="7.1" dy="2.6">2</tspan><tspan dy="-2.6">SO</tspan><tspan font-size="7.1" dy="2.6">4</tspan><tspan dy="-2.6">: 0.37 </tspan>m<tspan font-size="7.1" dy="-4.2">3</tspan><tspan dy="4.2"> m</tspan><tspan font-size="7.1" dy="-4.2">−2</tspan></text>
<rect x="465.0" y="57.3" width="210.7" height="214.1" fill="none" stroke="#808080" stroke-width="1"/>
<path d="M495.1 271.4v-2.2M495.1 57.3v2.2M555.3 271.4v-2.2M555.3 57.3v2.2M615.5 271.4v-2.2M615.5 57.3v2.2M465.0 235.7h2.2M675.7 235.7h-2.2M465.0 200.0h2.2M675.7 200.0h-2.2M465.0 164.3h2.2M675.7 164.3h-2.2M465.0 128.7h2.2M675.7 128.7h-2.2M465.0 93.0h2.2M675.7 93.0h-2.2" stroke="#808080" stroke-width="0.8" fill="none"/>
<text transform="translate(459.20,276.80) scale(1,1.040)" font-size="13.4" text-anchor="end" fill="#222222" stroke="#222222" stroke-width="0.15" >0</text>
<text transform="translate(459.20,241.12) scale(1,1.040)" font-size="13.4" text-anchor="end" fill="#222222" stroke="#222222" stroke-width="0.15" >1</text>
<text transform="translate(459.20,205.43) scale(1,1.040)" font-size="13.4" text-anchor="end" fill="#222222" stroke="#222222" stroke-width="0.15" >2</text>
<text transform="translate(459.20,169.75) scale(1,1.040)" font-size="13.4" text-anchor="end" fill="#222222" stroke="#222222" stroke-width="0.15" >3</text>
<text transform="translate(459.20,134.07) scale(1,1.040)" font-size="13.4" text-anchor="end" fill="#222222" stroke="#222222" stroke-width="0.15" >4</text>
<text transform="translate(459.20,98.38) scale(1,1.040)" font-size="13.4" text-anchor="end" fill="#222222" stroke="#222222" stroke-width="0.15" >5</text>
<text transform="translate(459.20,62.70) scale(1,1.040)" font-size="13.4" text-anchor="end" fill="#222222" stroke="#222222" stroke-width="0.15" >6</text>
<text transform="translate(495.10,292.30) scale(1,1.040)" font-size="13.4" text-anchor="middle" fill="#222222" stroke="#222222" stroke-width="0.15" >0.4</text>
<text transform="translate(555.30,292.30) scale(1,1.040)" font-size="13.4" text-anchor="middle" fill="#222222" stroke="#222222" stroke-width="0.15" >0.6</text>
<text transform="translate(615.50,292.30) scale(1,1.040)" font-size="13.4" text-anchor="middle" fill="#222222" stroke="#222222" stroke-width="0.15" >0.8</text>
<text transform="translate(675.70,292.30) scale(1,1.040)" font-size="13.4" text-anchor="middle" fill="#222222" stroke="#222222" stroke-width="0.15" >1</text>
<text transform="translate(465.00,54.00) scale(1,1.040)" font-size="13.2" text-anchor="start" fill="#222222" stroke="#222222" stroke-width="0.15" ><tspan font-size="15" fill="#555" stroke="none" dy="1.8">×</tspan><tspan dx="2" dy="-1.8">10</tspan><tspan font-size="9.6" dy="-6.5">4</tspan></text>
<text transform="translate(574.60,314.70) scale(1,1.040)" font-size="16.2" text-anchor="middle" fill="#222222" stroke="#222222" stroke-width="0.15" >Split ratio</text>
<text transform="translate(444.60,164.20) scale(1,1.040) rotate(-90.00)" font-size="13.6" text-anchor="middle" fill="#222222" stroke="#222222" stroke-width="0.15" >SEC (kWh m<tspan font-size="9.2" dy="-4.8">−3</tspan><tspan dy="4.8">)</tspan></text>
<polyline points="465.0,262.3 495.0,265.5 555.0,267.3 620.0,268.5 675.7,268.8" fill="none" stroke="#80c8e8" stroke-width="1.2" />
<polyline points="465.0,206.7 480.0,225.0 492.7,235.9 553.5,255.8 620.0,261.0 675.7,263.2" fill="none" stroke="#2a9a85" stroke-width="2.6" stroke-dasharray="2.4,2.6"/>
<polyline points="465.0,79.1 489.0,138.4 503.0,180.0 523.0,209.0 535.0,222.0 556.0,239.4 620.0,253.5 675.7,258.6" fill="none" stroke="#efb43c" stroke-width="2.8" stroke-linejoin="round"/>
<polyline points="465.0,59.3 522.8,198.8 553.5,234.8 620.0,251.6 675.7,257.7" fill="none" stroke="#8a3a8f" stroke-width="1.2" stroke-dasharray="5,3.5"/>
<rect x="561" y="67.6" width="106.7" height="75.9" fill="#fff" stroke="#4d4d4d" stroke-width="0.8"/>
<line x1="675.7" y1="57.8" x2="675.7" y2="270.9" stroke="#b8b8b8" stroke-width="1.2"/>
<line x1="565.2" x2="607" y1="78.4" y2="78.4" stroke="#80c8e8" stroke-width="1.2"/>
<line x1="565.2" x2="607" y1="98.0" y2="98.0" stroke="#2a9a85" stroke-width="2.6" stroke-dasharray="2.4,2.6"/>
<line x1="565.2" x2="607" y1="117.3" y2="117.3" stroke="#efb43c" stroke-width="2.8"/>
<line x1="565.2" x2="607" y1="134.6" y2="134.6" stroke="#8a3a8f" stroke-width="1.2" stroke-dasharray="5,3.5"/>
<text transform="translate(610.40,83.40) scale(1,1.040)" font-size="12.8" text-anchor="start" fill="#222222" stroke="#222222" stroke-width="0.15" >NaOH</text>
<text transform="translate(610.40,103.00) scale(1,1.040)" font-size="12.8" text-anchor="start" fill="#222222" stroke="#222222" stroke-width="0.15" >K<tspan font-size="9" dy="4">2</tspan><tspan dy="-4">SO4</tspan></text>
<text transform="translate(610.40,122.30) scale(1,1.040)" font-size="12.8" text-anchor="start" fill="#222222" stroke="#222222" stroke-width="0.15" >LiI</text>
<text transform="translate(610.40,139.60) scale(1,1.040)" font-size="12.8" text-anchor="start" fill="#222222" stroke="#222222" stroke-width="0.15" >Seawater</text>
<rect x="468.8" y="378.6" width="208.4" height="212.8" fill="none" stroke="#808080" stroke-width="1"/>
<path d="M573.0 591.4v-2.2M573.0 378.6v2.2M468.8 561.0h2.2M677.2 561.0h-2.2M468.8 530.6h2.2M677.2 530.6h-2.2M468.8 500.2h2.2M677.2 500.2h-2.2M468.8 469.8h2.2M677.2 469.8h-2.2M468.8 439.4h2.2M677.2 439.4h-2.2M468.8 409.0h2.2M677.2 409.0h-2.2" stroke="#808080" stroke-width="0.8" fill="none"/>
<text transform="translate(461.40,597.40) scale(1,1.040)" font-size="14" text-anchor="end" fill="#222222" stroke="#222222" stroke-width="0.15" >0</text>
<text transform="translate(461.40,567.00) scale(1,1.040)" font-size="14" text-anchor="end" fill="#222222" stroke="#222222" stroke-width="0.15" >0.2</text>
<text transform="translate(461.40,536.60) scale(1,1.040)" font-size="14" text-anchor="end" fill="#222222" stroke="#222222" stroke-width="0.15" >0.4</text>
<text transform="translate(461.40,506.20) scale(1,1.040)" font-size="14" text-anchor="end" fill="#222222" stroke="#222222" stroke-width="0.15" >0.6</text>
<text transform="translate(461.40,475.80) scale(1,1.040)" font-size="14" text-anchor="end" fill="#222222" stroke="#222222" stroke-width="0.15" >0.8</text>
<text transform="translate(461.40,445.40) scale(1,1.040)" font-size="14" text-anchor="end" fill="#222222" stroke="#222222" stroke-width="0.15" >1</text>
<text transform="translate(461.40,415.00) scale(1,1.040)" font-size="14" text-anchor="end" fill="#222222" stroke="#222222" stroke-width="0.15" >1.2</text>
<text transform="translate(468.80,612.80) scale(1,1.040)" font-size="14" text-anchor="middle" fill="#222222" stroke="#222222" stroke-width="0.15" >0</text>
<text transform="translate(573.00,612.80) scale(1,1.040)" font-size="14" text-anchor="middle" fill="#222222" stroke="#222222" stroke-width="0.15" >5</text>
<text transform="translate(677.20,612.80) scale(1,1.040)" font-size="14" text-anchor="middle" fill="#222222" stroke="#222222" stroke-width="0.15" >10</text>
<text transform="translate(577.00,639.90) scale(1,1.040)" font-size="15.8" text-anchor="middle" fill="#222222" stroke="#222222" stroke-width="0.15" >|<tspan font-style="italic">S</tspan><tspan font-size="10.5" dy="3.8">T</tspan><tspan dy="-3.8">| </tspan><tspan dx="1.6">(10</tspan><tspan font-size="10.5" dy="-4.6">−3</tspan><tspan dy="4.6">K</tspan><tspan font-size="10.5" dy="-4.6">−1</tspan><tspan dy="4.6">)</tspan></text>
<text transform="translate(433.00,487.00) scale(1,1.040) rotate(-90.00)" font-size="15.8" text-anchor="middle" fill="#222222" stroke="#222222" stroke-width="0.15" ><tspan font-style="italic">Q/A</tspan> (m<tspan font-size="10.5" dy="-5.5">3</tspan><tspan dy="5.5"> m</tspan><tspan font-size="10.5" dy="-5.5">−2</tspan><tspan dy="5.5">)</tspan></text>
<text transform="translate(469.40,368.90) scale(1,1.040)" font-size="14.6" text-anchor="start" fill="#000" stroke="#000" stroke-width="0.15" >Split ratio = 0.7</text>
<text transform="translate(477.60,397.80) scale(1,1.040)" font-size="12.8" text-anchor="start" fill="#000" stroke="#000" stroke-width="0.15" ><tspan font-style="italic" font-weight="bold">D</tspan><tspan font-weight="bold"> (25°C)</tspan> (10<tspan font-size="8.2" dy="-4.3">−9</tspan><tspan dy="4.3"> m</tspan><tspan font-size="8.2" dy="-4.3">2</tspan><tspan dy="4.3"> s</tspan><tspan font-size="8.2" dy="-4.3">−1</tspan><tspan dy="4.3">)</tspan></text>
<line x1="482.2" x2="507.8" y1="411.3" y2="411.3" stroke="#80c8e8" stroke-width="1.2"/>
<line x1="482.2" x2="507.8" y1="427.4" y2="427.4" stroke="#2a9a85" stroke-width="2.6" stroke-dasharray="2.4,2.6"/>
<line x1="482.2" x2="507.8" y1="444.1" y2="444.1" stroke="#8a3a8f" stroke-width="1.2" stroke-dasharray="4.5,3.5"/>
<line x1="482.2" x2="507.8" y1="460.1" y2="460.1" stroke="#efb43c" stroke-width="2.8"/>
<text transform="translate(510.50,417.90) scale(1,1.040)" font-size="13.4" text-anchor="start" fill="#000" stroke="#000" stroke-width="0.15" >1.29</text>
<text transform="translate(510.50,434.00) scale(1,1.040)" font-size="13.4" text-anchor="start" fill="#000" stroke="#000" stroke-width="0.15" >1.35</text>
<text transform="translate(510.50,450.70) scale(1,1.040)" font-size="13.4" text-anchor="start" fill="#000" stroke="#000" stroke-width="0.15" >1.50</text>
<text transform="translate(510.50,466.70) scale(1,1.040)" font-size="13.4" text-anchor="start" fill="#000" stroke="#000" stroke-width="0.15" >2.00</text>
<polyline points="496.0,591.2 524.4,573.2 545.2,557.8 550.7,551.8 560.5,550.7 564.2,543.3 577.2,543.3 580.9,532.1 602.0,532.1 605.1,512.9 655.0,510.5 660.0,472.4 677.2,472.4" fill="none" stroke="#80c8e8" stroke-width="1.2" />
<polyline points="493.0,590.8 521.0,571.5 535.4,562.0 544.1,554.6 551.2,547.6 560.0,547.6 562.9,539.6 577.8,539.6 580.3,526.0 602.0,526.0 604.5,504.9 655.0,502.3 660.0,460.5 677.2,460.5" fill="none" stroke="#2a9a85" stroke-width="2.6" stroke-dasharray="2.4,2.6"/>
<polyline points="494.9,590.5 521.1,569.9 535.4,560.0 547.4,549.6 551.8,543.8 560.0,543.3 564.2,533.4 577.2,533.0 581.5,519.1 602.0,519.0 605.1,495.6 655.0,493.7 659.8,446.8 677.2,446.8" fill="none" stroke="#8a3a8f" stroke-width="1.2" stroke-dasharray="4.5,3.5"/>
<polyline points="489.9,589.6 496.0,587.4 508.0,574.3 516.8,567.2 526.6,556.8 535.4,548.0 543.0,537.0 544.7,536.0 548.0,536.0 551.8,528.3 560.5,526.5 564.8,514.2 577.2,513.6 581.5,495.0 602.0,493.7 606.3,462.7 656.1,459.8 660.5,398.2 677.2,398.2" fill="none" stroke="#efb43c" stroke-width="2.8" stroke-linejoin="round"/>
<circle cx="520.6" cy="563.9" r="2.6" fill="#000"/>
<circle cx="519.0" cy="572.6" r="2.6" fill="#000"/>
<circle cx="544.1" cy="554.6" r="2.6" fill="#000"/>
<circle cx="677.2" cy="472.4" r="2.6" fill="#000"/>
<path d="M496.5 530.2 L507.7 530.2 L519.0 559.5" stroke="#808080" stroke-width="0.9" fill="none"/><path d="M519.0 559.5L514.8 555.2L519.3 553.5Z" fill="#808080"/>
<path d="M566.5 560.0 L548.5 555.6" stroke="#808080" stroke-width="0.9" fill="none"/><path d="M548.5 555.6L554.4 554.6L553.3 559.2Z" fill="#808080"/>
<path d="M551.6 578.4 L523.0 573.4" stroke="#808080" stroke-width="0.9" fill="none"/><path d="M523.0 573.4L528.8 572.0L528.0 576.7Z" fill="#808080"/>
<path d="M642.2 443.2 L671.6 469.6" stroke="#808080" stroke-width="0.9" fill="none"/><path d="M671.6 469.6L665.9 467.7L669.1 464.1Z" fill="#808080"/>
<text transform="translate(478.80,526.70) scale(1,1.040)" font-size="10.8" text-anchor="start" fill="#7f7f7f" stroke="#7f7f7f" stroke-width="0.12" >LiI: 0.184 m<tspan font-size="7.1" dy="-4.2">3</tspan><tspan dy="4.2"> m</tspan><tspan font-size="7.1" dy="-4.2">−2</tspan></text>
<text transform="translate(573.40,563.60) scale(1,1.040)" font-size="10.8" text-anchor="start" fill="#7f7f7f" stroke="#7f7f7f" stroke-width="0.12" >K<tspan font-size="7.1" dy="2.6">2</tspan><tspan dy="-2.6">SO</tspan><tspan font-size="7.1" dy="2.6">4</tspan><tspan dy="-2.6">: 0.245 </tspan>m<tspan font-size="7.1" dy="-4.2">3</tspan><tspan dy="4.2"> m</tspan><tspan font-size="7.1" dy="-4.2">−2</tspan></text>
<text transform="translate(556.50,585.80) scale(1,1.040)" font-size="10.8" text-anchor="start" fill="#7f7f7f" stroke="#7f7f7f" stroke-width="0.12" >Seawater: 0.128 m<tspan font-size="7.1" dy="-4.2">3</tspan><tspan dy="4.2"> m</tspan><tspan font-size="7.1" dy="-4.2">−2</tspan></text>
<text transform="translate(580.00,426.80) scale(1,1.040)" font-size="10.8" text-anchor="start" fill="#7f7f7f" stroke="#7f7f7f" stroke-width="0.12" >NaOH:</text>
<text transform="translate(580.00,439.90) scale(1,1.040)" font-size="10.8" text-anchor="start" fill="#7f7f7f" stroke="#7f7f7f" stroke-width="0.12" >0.783 m<tspan font-size="7.1" dy="-4.2">3</tspan><tspan dy="4.2"> m</tspan><tspan font-size="7.1" dy="-4.2">−2</tspan></text>
<path d="M280.2 471.8 C 310 471, 345 462, 353.5 438 C 356 428, 356 420, 362 412 C 375 398, 400 392.5, 421 392" fill="none" stroke="#aaaaaa" stroke-width="1.8"/>
<path d="M428.2 391.5 L419.8 387.8 L420.3 396.2 Z" fill="#aaaaaa"/>
</svg>
</body></html>
